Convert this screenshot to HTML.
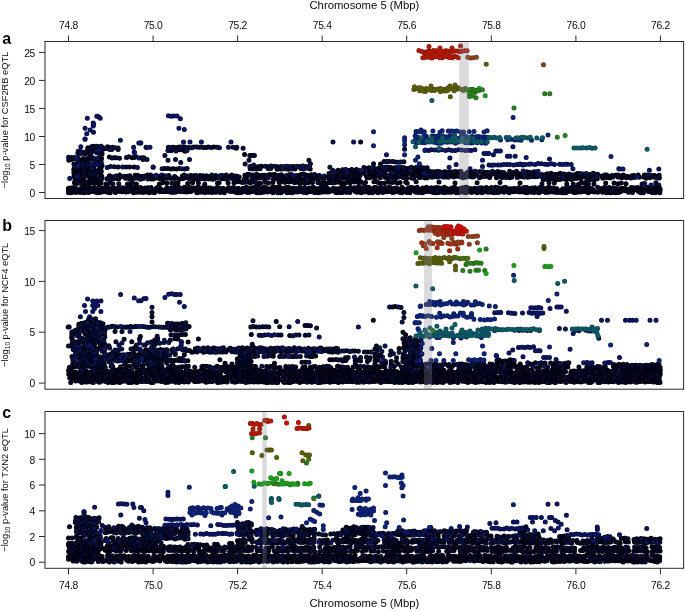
<!DOCTYPE html>
<html><head><meta charset="utf-8"><style>
html,body{margin:0;padding:0;background:#fff;}
svg{display:block}
text{font-family:"Liberation Sans",Arial,sans-serif;fill:#0a0a0a}
.tk{font-size:10.3px;letter-spacing:-0.3px}
.tt{font-size:11.3px}
.yl{font-size:9.3px}
.sub{font-size:6.5px}
.pl{font-size:16px;font-weight:bold;fill:#000}
g.pts path{stroke-linecap:round;fill:none}
</style></head><body>
<svg width="685" height="611" viewBox="0 0 685 611">
<g class="pts"><path d="M68.5 188.2h0M107.7 187.3h0M117.7 188.7h0M135.6 187.5h0M184.3 187.3h0M213.7 188.7h0M223.0 188.2h0M231.9 188.3h0M242.6 188.5h0M289.0 187.5h0M300.0 187.3h0M309.4 187.9h0M327.6 188.6h0M337.9 188.7h0M347.9 188.5h0M367.0 187.5h0M386.0 187.7h0M395.9 188.6h0M434.4 187.9h0M444.4 187.3h0M452.9 187.7h0M481.5 187.8h0M501.8 188.2h0M511.0 188.8h0M529.4 188.4h0M539.7 187.6h0M569.0 188.5h0M587.5 187.9h0M625.2 188.5h0M635.1 188.2h0M73.3 189.3h0M93.1 189.7h0M112.7 189.5h0M131.1 190.6h0M141.7 189.2h0M161.1 190.5h0M170.1 190.0h0M179.1 190.3h0M208.1 190.4h0M226.6 190.4h0M246.1 190.4h0M266.3 190.3h0M323.4 190.8h0M332.5 190.6h0M342.9 189.7h0M362.4 190.0h0M409.5 189.4h0M420.1 190.3h0M428.5 190.0h0M448.5 189.4h0M467.4 190.1h0M476.6 189.3h0M486.3 189.4h0M495.9 189.8h0M515.8 189.6h0M524.7 190.0h0M535.0 190.0h0M545.0 189.9h0M564.0 189.7h0M574.0 189.5h0M611.2 190.3h0M621.6 189.8h0M660.1 190.2h0M68.5 192.8h0M78.6 191.8h0M88.5 192.6h0M108.2 192.6h0M126.1 191.9h0M145.8 192.0h0M175.4 192.2h0M204.1 191.4h0M212.3 192.3h0M261.6 192.5h0M289.6 192.3h0M298.7 191.8h0M308.7 191.8h0M328.5 191.9h0M337.2 192.7h0M357.1 192.3h0M405.1 191.5h0M415.1 191.8h0M433.1 192.5h0M443.7 192.5h0M471.8 192.6h0M482.2 192.8h0M491.7 192.1h0M520.1 192.1h0M539.0 192.8h0M548.7 192.3h0M558.6 192.5h0M577.2 192.3h0M588.2 192.8h0M606.4 192.8h0M615.5 192.8h0M73.9 164.1h0M73.9 169.0h0M78.5 170.4h0M88.7 170.5h0M79.4 176.6h0M99.5 176.2h0M89.4 181.4h0M74.7 183.2h0M83.6 184.2h0M147.6 175.1h0M190.6 175.4h0M200.1 175.6h0M111.6 178.8h0M132.2 178.6h0M153.1 179.1h0M174.1 178.5h0M195.9 179.2h0M205.3 179.1h0M238.1 179.2h0M105.9 184.0h0M130.9 184.0h0M166.9 182.8h0M178.0 182.8h0M168.3 147.3h0M146.0 147.3h0M167.9 168.4h0M179.3 168.4h0M244.6 154.5h0M261.6 166.2h0M250.2 168.7h0M286.3 169.1h0M310.2 168.9h0M265.4 175.2h0M274.8 174.4h0M316.5 175.7h0M300.9 179.2h0M257.7 183.2h0M268.5 183.0h0M279.1 182.6h0M298.4 182.5h0M337.1 172.2h0M359.8 172.6h0M338.4 178.2h0M358.8 178.9h0M395.3 167.9h0M406.3 168.6h0M369.0 170.8h0M379.4 169.9h0M402.1 170.2h0M421.7 171.2h0M363.9 173.3h0M384.8 172.4h0M417.9 172.8h0M380.4 174.5h0M391.0 175.9h0M412.0 175.8h0M375.2 177.5h0M385.3 177.4h0M396.1 177.8h0M406.7 178.2h0M331.9 182.0h0M353.8 182.0h0M373.9 181.8h0M384.4 183.2h0M395.4 182.1h0M405.7 182.1h0M449.2 171.7h0M480.1 171.6h0M511.5 172.5h0M443.0 174.1h0M454.5 174.5h0M485.1 174.0h0M496.2 174.1h0M505.8 174.4h0M527.7 173.8h0M469.9 176.4h0M489.6 177.6h0M511.9 177.2h0M522.6 176.8h0M477.1 182.8h0M563.8 173.9h0M547.6 176.9h0M568.4 175.6h0M589.1 177.2h0M553.3 178.5h0M564.2 179.0h0M573.8 178.5h0M594.4 179.7h0M601.9 176.1h0M612.3 175.4h0M644.4 175.1h0M654.6 175.6h0M617.9 177.1h0M627.5 177.5h0M639.2 177.2h0M649.6 177.8h0M566.8 184.0h0M614.0 183.1h0M626.0 183.7h0M78.4 372.9h0M87.8 372.1h0M97.6 371.9h0M107.4 371.8h0M155.2 373.0h0M193.7 371.8h0M202.7 372.0h0M251.0 373.2h0M270.0 372.3h0M290.7 373.0h0M299.6 373.2h0M319.2 372.7h0M328.2 371.9h0M337.7 372.8h0M348.0 372.3h0M357.7 373.2h0M385.0 372.3h0M405.5 372.7h0M434.7 372.3h0M443.6 371.8h0M472.2 373.3h0M501.0 371.8h0M510.9 372.7h0M520.2 372.0h0M529.9 372.0h0M616.2 371.8h0M625.4 373.1h0M645.4 373.0h0M83.3 374.4h0M122.7 374.7h0M131.2 375.1h0M140.3 374.9h0M170.1 374.1h0M188.6 374.6h0M197.9 375.4h0M208.3 374.2h0M218.3 374.5h0M228.0 374.1h0M247.4 374.6h0M285.8 375.1h0M294.7 374.2h0M322.8 374.2h0M343.4 375.4h0M352.0 374.1h0M391.5 374.4h0M399.8 374.1h0M428.8 374.6h0M439.2 374.8h0M448.1 374.7h0M458.8 374.8h0M466.6 375.1h0M487.5 374.7h0M544.6 375.1h0M582.1 374.0h0M621.3 374.8h0M630.4 374.0h0M650.6 374.4h0M69.7 377.9h0M77.7 377.1h0M97.5 376.8h0M107.8 376.8h0M116.5 376.8h0M154.7 376.8h0M174.0 377.8h0M194.1 377.1h0M203.0 376.8h0M213.0 376.3h0M261.8 377.3h0M270.0 376.6h0M298.7 377.2h0M309.7 376.8h0M356.5 377.8h0M414.2 377.2h0M434.4 377.3h0M444.0 376.4h0M453.8 377.2h0M481.7 377.3h0M491.9 377.7h0M511.0 377.4h0M530.7 377.1h0M558.6 378.0h0M568.1 377.1h0M578.4 377.3h0M597.0 377.5h0M607.1 377.5h0M634.7 377.6h0M655.4 377.6h0M83.8 378.9h0M93.4 379.8h0M102.2 378.7h0M122.7 379.7h0M169.3 379.3h0M179.6 378.9h0M189.8 378.9h0M208.5 379.7h0M227.3 380.0h0M265.4 380.3h0M275.3 379.4h0M304.1 378.7h0M314.1 379.3h0M333.5 378.9h0M342.1 379.7h0M371.3 379.7h0M391.1 380.1h0M399.6 379.3h0M429.2 380.2h0M438.6 378.8h0M447.6 379.4h0M467.6 379.0h0M478.0 379.7h0M506.8 379.2h0M515.0 379.8h0M524.7 379.1h0M591.8 380.2h0M602.4 378.9h0M611.0 379.9h0M621.3 379.4h0M640.6 378.8h0M659.2 379.9h0M79.2 381.1h0M87.4 382.0h0M108.0 382.5h0M136.7 382.5h0M145.5 381.6h0M184.2 382.1h0M203.6 381.1h0M212.3 381.6h0M222.1 382.1h0M271.3 382.1h0M290.4 382.4h0M299.7 382.5h0M328.8 381.8h0M338.3 382.5h0M356.7 382.3h0M376.9 381.1h0M415.4 381.4h0M434.1 381.0h0M443.1 382.4h0M452.8 382.1h0M472.9 381.7h0M501.8 381.8h0M529.1 382.3h0M538.8 382.5h0M559.3 381.3h0M578.1 381.7h0M616.1 381.0h0M645.1 382.1h0M654.0 381.6h0M90.1 366.4h0M120.7 366.8h0M162.0 366.7h0M182.7 366.8h0M215.3 367.4h0M235.4 367.0h0M328.9 366.6h0M338.9 366.5h0M370.7 367.6h0M381.7 366.6h0M412.3 367.7h0M433.9 367.1h0M463.7 367.3h0M506.4 367.5h0M558.6 367.1h0M578.9 367.0h0M590.1 366.3h0M621.2 367.7h0M630.4 366.4h0M651.1 366.3h0M105.7 371.1h0M115.1 370.0h0M147.8 369.9h0M157.0 369.9h0M168.0 370.1h0M210.2 371.2h0M220.5 371.1h0M230.5 369.8h0M293.3 370.4h0M303.7 370.7h0M334.7 370.3h0M344.3 370.8h0M365.4 369.9h0M386.0 370.6h0M480.6 371.2h0M489.9 370.4h0M511.0 371.2h0M521.2 370.8h0M532.0 370.3h0M543.1 370.9h0M552.1 369.7h0M573.4 371.2h0M594.5 370.8h0M605.2 371.2h0M615.7 371.2h0M625.1 370.7h0M635.5 370.8h0M72.0 346.2h0M87.6 348.6h0M82.1 366.6h0M91.7 366.3h0M103.0 366.2h0M137.9 355.0h0M133.4 352.7h0M126.8 361.4h0M133.9 365.1h0M131.8 341.7h0M122.5 369.2h0M152.0 316.8h0M163.8 349.9h0M143.1 360.4h0M153.2 361.4h0M174.9 360.5h0M185.0 360.9h0M276.2 321.4h0M274.5 363.2h0M203.5 348.1h0M275.4 348.2h0M281.4 352.2h0M243.7 356.6h0M279.7 356.5h0M315.6 356.0h0M247.9 362.5h0M405.6 334.8h0M346.9 350.8h0M329.8 359.7h0M341.2 359.7h0M404.1 342.9h0M408.4 346.6h0M403.5 348.0h0M402.9 358.0h0M409.1 361.3h0M412.9 363.8h0M375.0 349.1h0M375.1 360.8h0M396.2 361.4h0M453.5 364.9h0M473.6 365.0h0M512.3 363.9h0M564.2 363.4h0M573.7 371.1h0M584.0 370.7h0M615.8 370.3h0M625.7 371.5h0M635.3 370.6h0M647.3 371.8h0M657.2 370.3h0M578.9 372.3h0M588.8 372.0h0M630.8 371.8h0M651.5 372.7h0M646.5 365.2h0M619.5 365.8h0M68.5 556.7h0M88.2 555.5h0M117.0 556.1h0M183.7 556.6h0M193.5 555.3h0M213.0 555.3h0M223.3 555.7h0M241.5 555.6h0M261.2 556.0h0M280.0 556.5h0M289.3 556.2h0M299.7 556.2h0M318.8 555.3h0M327.9 555.8h0M338.3 555.5h0M365.9 556.6h0M375.7 556.2h0M386.8 556.0h0M423.8 556.2h0M433.3 556.7h0M443.1 556.3h0M453.5 556.2h0M463.2 555.4h0M473.1 556.8h0M491.1 556.4h0M511.4 555.7h0M521.0 556.8h0M530.1 556.0h0M540.0 556.5h0M549.0 556.2h0M578.3 556.1h0M586.7 555.4h0M607.2 555.4h0M626.0 556.7h0M654.5 555.8h0M82.5 559.5h0M102.0 558.1h0M121.7 558.4h0M131.8 558.6h0M140.3 557.9h0M150.3 558.7h0M160.1 559.0h0M169.4 559.3h0M178.9 558.6h0M198.2 559.1h0M246.7 559.5h0M294.9 558.8h0M313.6 558.0h0M322.6 559.3h0M342.3 558.4h0M352.7 557.8h0M371.0 557.9h0M381.2 558.9h0M419.2 557.8h0M438.9 559.2h0M449.1 559.2h0M458.6 557.9h0M468.1 557.8h0M496.8 558.4h0M544.0 558.0h0M553.7 559.1h0M564.1 559.0h0M573.1 559.2h0M611.1 558.3h0M659.5 558.9h0M106.8 560.7h0M116.6 560.9h0M137.0 560.8h0M145.9 562.0h0M165.5 561.0h0M174.4 561.4h0M183.6 562.0h0M194.6 560.8h0M213.2 562.0h0M250.7 562.0h0M269.9 560.7h0M280.6 561.1h0M328.9 562.0h0M338.5 561.6h0M346.9 561.9h0M366.0 560.6h0M395.5 561.0h0M405.6 561.2h0M414.2 562.0h0M424.1 560.7h0M501.4 562.0h0M521.1 562.0h0M530.5 562.0h0M558.7 561.2h0M568.7 560.9h0M578.7 561.1h0M587.8 561.5h0M597.1 560.9h0M615.9 560.8h0M634.8 562.0h0M655.0 561.4h0M81.1 537.9h0M86.3 540.7h0M87.9 542.8h0M79.3 547.8h0M89.3 549.1h0M98.9 548.6h0M74.1 550.5h0M69.9 552.8h0M89.4 553.7h0M98.1 553.8h0M106.2 538.4h0M120.7 540.5h0M132.8 540.1h0M110.8 545.9h0M142.4 546.3h0M127.2 547.9h0M120.9 551.2h0M206.7 545.1h0M231.9 543.6h0M183.0 548.3h0M204.6 547.0h0M224.6 547.1h0M147.0 550.5h0M158.0 551.0h0M168.5 550.3h0M199.2 551.0h0M209.3 550.3h0M142.4 546.2h0M248.6 522.4h0M248.7 528.5h0M237.1 532.7h0M249.5 539.3h0M242.5 542.5h0M267.2 534.6h0M287.9 534.6h0M299.1 535.7h0M288.1 539.8h0M298.1 539.3h0M272.7 542.8h0M283.2 542.8h0M303.2 542.6h0M277.9 547.8h0M287.8 547.7h0M299.3 548.2h0M283.4 551.0h0M304.7 550.3h0M314.6 551.5h0M319.8 540.6h0M329.8 548.1h0M324.1 551.4h0M335.2 551.7h0M364.1 533.1h0M379.1 533.6h0M363.6 535.7h0M358.3 540.7h0M367.7 539.9h0M389.2 539.3h0M384.6 542.5h0M424.7 543.2h0M336.9 548.0h0M348.4 547.2h0M367.8 547.4h0M379.3 546.9h0M399.3 547.3h0M409.2 547.7h0M420.3 547.1h0M362.5 551.4h0M383.3 550.9h0M397.9 530.8h0M417.0 532.2h0M433.6 535.7h0M444.1 535.4h0M427.4 539.3h0M449.2 539.5h0M432.7 543.2h0M443.8 542.2h0M453.9 542.8h0M464.5 543.2h0M427.6 548.1h0M448.1 547.3h0M470.3 547.4h0M480.3 547.4h0M432.6 550.7h0M454.0 550.5h0M464.7 550.8h0M475.0 551.7h0M483.2 532.5h0M483.0 539.3h0M490.9 536.0h0M511.7 541.7h0M523.1 542.1h0M491.2 547.4h0M497.2 551.7h0M506.8 550.6h0M517.4 551.0h0M522.1 541.2h0M532.9 541.3h0M543.5 540.1h0M527.9 542.4h0M538.4 543.0h0M543.3 548.3h0M564.4 548.2h0M574.7 548.2h0M526.8 551.2h0M548.6 550.4h0M580.6 550.6h0M590.7 551.4h0M602.9 538.3h0M613.3 539.1h0M654.8 539.2h0M618.0 542.4h0M628.4 541.9h0M645.0 547.2h0M654.5 547.1h0M608.5 551.5h0M629.0 550.9h0M639.6 550.7h0M660.1 551.1h0" stroke="#01020a" stroke-width="5.0"/><path d="M68.5 188.2h0M107.7 187.3h0M117.7 188.7h0M135.6 187.5h0M184.3 187.3h0M213.7 188.7h0M223.0 188.2h0M231.9 188.3h0M242.6 188.5h0M289.0 187.5h0M300.0 187.3h0M309.4 187.9h0M327.6 188.6h0M337.9 188.7h0M347.9 188.5h0M367.0 187.5h0M386.0 187.7h0M395.9 188.6h0M434.4 187.9h0M444.4 187.3h0M452.9 187.7h0M481.5 187.8h0M501.8 188.2h0M511.0 188.8h0M529.4 188.4h0M539.7 187.6h0M569.0 188.5h0M587.5 187.9h0M625.2 188.5h0M635.1 188.2h0M73.3 189.3h0M93.1 189.7h0M112.7 189.5h0M131.1 190.6h0M141.7 189.2h0M161.1 190.5h0M170.1 190.0h0M179.1 190.3h0M208.1 190.4h0M226.6 190.4h0M246.1 190.4h0M266.3 190.3h0M323.4 190.8h0M332.5 190.6h0M342.9 189.7h0M362.4 190.0h0M409.5 189.4h0M420.1 190.3h0M428.5 190.0h0M448.5 189.4h0M467.4 190.1h0M476.6 189.3h0M486.3 189.4h0M495.9 189.8h0M515.8 189.6h0M524.7 190.0h0M535.0 190.0h0M545.0 189.9h0M564.0 189.7h0M574.0 189.5h0M611.2 190.3h0M621.6 189.8h0M660.1 190.2h0M68.5 192.8h0M78.6 191.8h0M88.5 192.6h0M108.2 192.6h0M126.1 191.9h0M145.8 192.0h0M175.4 192.2h0M204.1 191.4h0M212.3 192.3h0M261.6 192.5h0M289.6 192.3h0M298.7 191.8h0M308.7 191.8h0M328.5 191.9h0M337.2 192.7h0M357.1 192.3h0M405.1 191.5h0M415.1 191.8h0M433.1 192.5h0M443.7 192.5h0M471.8 192.6h0M482.2 192.8h0M491.7 192.1h0M520.1 192.1h0M539.0 192.8h0M548.7 192.3h0M558.6 192.5h0M577.2 192.3h0M588.2 192.8h0M606.4 192.8h0M615.5 192.8h0M73.9 164.1h0M73.9 169.0h0M78.5 170.4h0M88.7 170.5h0M79.4 176.6h0M99.5 176.2h0M89.4 181.4h0M74.7 183.2h0M83.6 184.2h0M147.6 175.1h0M190.6 175.4h0M200.1 175.6h0M111.6 178.8h0M132.2 178.6h0M153.1 179.1h0M174.1 178.5h0M195.9 179.2h0M205.3 179.1h0M238.1 179.2h0M105.9 184.0h0M130.9 184.0h0M166.9 182.8h0M178.0 182.8h0M168.3 147.3h0M146.0 147.3h0M167.9 168.4h0M179.3 168.4h0M244.6 154.5h0M261.6 166.2h0M250.2 168.7h0M286.3 169.1h0M310.2 168.9h0M265.4 175.2h0M274.8 174.4h0M316.5 175.7h0M300.9 179.2h0M257.7 183.2h0M268.5 183.0h0M279.1 182.6h0M298.4 182.5h0M337.1 172.2h0M359.8 172.6h0M338.4 178.2h0M358.8 178.9h0M395.3 167.9h0M406.3 168.6h0M369.0 170.8h0M379.4 169.9h0M402.1 170.2h0M421.7 171.2h0M363.9 173.3h0M384.8 172.4h0M417.9 172.8h0M380.4 174.5h0M391.0 175.9h0M412.0 175.8h0M375.2 177.5h0M385.3 177.4h0M396.1 177.8h0M406.7 178.2h0M331.9 182.0h0M353.8 182.0h0M373.9 181.8h0M384.4 183.2h0M395.4 182.1h0M405.7 182.1h0M449.2 171.7h0M480.1 171.6h0M511.5 172.5h0M443.0 174.1h0M454.5 174.5h0M485.1 174.0h0M496.2 174.1h0M505.8 174.4h0M527.7 173.8h0M469.9 176.4h0M489.6 177.6h0M511.9 177.2h0M522.6 176.8h0M477.1 182.8h0M563.8 173.9h0M547.6 176.9h0M568.4 175.6h0M589.1 177.2h0M553.3 178.5h0M564.2 179.0h0M573.8 178.5h0M594.4 179.7h0M601.9 176.1h0M612.3 175.4h0M644.4 175.1h0M654.6 175.6h0M617.9 177.1h0M627.5 177.5h0M639.2 177.2h0M649.6 177.8h0M566.8 184.0h0M614.0 183.1h0M626.0 183.7h0M78.4 372.9h0M87.8 372.1h0M97.6 371.9h0M107.4 371.8h0M155.2 373.0h0M193.7 371.8h0M202.7 372.0h0M251.0 373.2h0M270.0 372.3h0M290.7 373.0h0M299.6 373.2h0M319.2 372.7h0M328.2 371.9h0M337.7 372.8h0M348.0 372.3h0M357.7 373.2h0M385.0 372.3h0M405.5 372.7h0M434.7 372.3h0M443.6 371.8h0M472.2 373.3h0M501.0 371.8h0M510.9 372.7h0M520.2 372.0h0M529.9 372.0h0M616.2 371.8h0M625.4 373.1h0M645.4 373.0h0M83.3 374.4h0M122.7 374.7h0M131.2 375.1h0M140.3 374.9h0M170.1 374.1h0M188.6 374.6h0M197.9 375.4h0M208.3 374.2h0M218.3 374.5h0M228.0 374.1h0M247.4 374.6h0M285.8 375.1h0M294.7 374.2h0M322.8 374.2h0M343.4 375.4h0M352.0 374.1h0M391.5 374.4h0M399.8 374.1h0M428.8 374.6h0M439.2 374.8h0M448.1 374.7h0M458.8 374.8h0M466.6 375.1h0M487.5 374.7h0M544.6 375.1h0M582.1 374.0h0M621.3 374.8h0M630.4 374.0h0M650.6 374.4h0M69.7 377.9h0M77.7 377.1h0M97.5 376.8h0M107.8 376.8h0M116.5 376.8h0M154.7 376.8h0M174.0 377.8h0M194.1 377.1h0M203.0 376.8h0M213.0 376.3h0M261.8 377.3h0M270.0 376.6h0M298.7 377.2h0M309.7 376.8h0M356.5 377.8h0M414.2 377.2h0M434.4 377.3h0M444.0 376.4h0M453.8 377.2h0M481.7 377.3h0M491.9 377.7h0M511.0 377.4h0M530.7 377.1h0M558.6 378.0h0M568.1 377.1h0M578.4 377.3h0M597.0 377.5h0M607.1 377.5h0M634.7 377.6h0M655.4 377.6h0M83.8 378.9h0M93.4 379.8h0M102.2 378.7h0M122.7 379.7h0M169.3 379.3h0M179.6 378.9h0M189.8 378.9h0M208.5 379.7h0M227.3 380.0h0M265.4 380.3h0M275.3 379.4h0M304.1 378.7h0M314.1 379.3h0M333.5 378.9h0M342.1 379.7h0M371.3 379.7h0M391.1 380.1h0M399.6 379.3h0M429.2 380.2h0M438.6 378.8h0M447.6 379.4h0M467.6 379.0h0M478.0 379.7h0M506.8 379.2h0M515.0 379.8h0M524.7 379.1h0M591.8 380.2h0M602.4 378.9h0M611.0 379.9h0M621.3 379.4h0M640.6 378.8h0M659.2 379.9h0M79.2 381.1h0M87.4 382.0h0M108.0 382.5h0M136.7 382.5h0M145.5 381.6h0M184.2 382.1h0M203.6 381.1h0M212.3 381.6h0M222.1 382.1h0M271.3 382.1h0M290.4 382.4h0M299.7 382.5h0M328.8 381.8h0M338.3 382.5h0M356.7 382.3h0M376.9 381.1h0M415.4 381.4h0M434.1 381.0h0M443.1 382.4h0M452.8 382.1h0M472.9 381.7h0M501.8 381.8h0M529.1 382.3h0M538.8 382.5h0M559.3 381.3h0M578.1 381.7h0M616.1 381.0h0M645.1 382.1h0M654.0 381.6h0M90.1 366.4h0M120.7 366.8h0M162.0 366.7h0M182.7 366.8h0M215.3 367.4h0M235.4 367.0h0M328.9 366.6h0M338.9 366.5h0M370.7 367.6h0M381.7 366.6h0M412.3 367.7h0M433.9 367.1h0M463.7 367.3h0M506.4 367.5h0M558.6 367.1h0M578.9 367.0h0M590.1 366.3h0M621.2 367.7h0M630.4 366.4h0M651.1 366.3h0M105.7 371.1h0M115.1 370.0h0M147.8 369.9h0M157.0 369.9h0M168.0 370.1h0M210.2 371.2h0M220.5 371.1h0M230.5 369.8h0M293.3 370.4h0M303.7 370.7h0M334.7 370.3h0M344.3 370.8h0M365.4 369.9h0M386.0 370.6h0M480.6 371.2h0M489.9 370.4h0M511.0 371.2h0M521.2 370.8h0M532.0 370.3h0M543.1 370.9h0M552.1 369.7h0M573.4 371.2h0M594.5 370.8h0M605.2 371.2h0M615.7 371.2h0M625.1 370.7h0M635.5 370.8h0M72.0 346.2h0M87.6 348.6h0M82.1 366.6h0M91.7 366.3h0M103.0 366.2h0M137.9 355.0h0M133.4 352.7h0M126.8 361.4h0M133.9 365.1h0M131.8 341.7h0M122.5 369.2h0M152.0 316.8h0M163.8 349.9h0M143.1 360.4h0M153.2 361.4h0M174.9 360.5h0M185.0 360.9h0M276.2 321.4h0M274.5 363.2h0M203.5 348.1h0M275.4 348.2h0M281.4 352.2h0M243.7 356.6h0M279.7 356.5h0M315.6 356.0h0M247.9 362.5h0M405.6 334.8h0M346.9 350.8h0M329.8 359.7h0M341.2 359.7h0M404.1 342.9h0M408.4 346.6h0M403.5 348.0h0M402.9 358.0h0M409.1 361.3h0M412.9 363.8h0M375.0 349.1h0M375.1 360.8h0M396.2 361.4h0M453.5 364.9h0M473.6 365.0h0M512.3 363.9h0M564.2 363.4h0M573.7 371.1h0M584.0 370.7h0M615.8 370.3h0M625.7 371.5h0M635.3 370.6h0M647.3 371.8h0M657.2 370.3h0M578.9 372.3h0M588.8 372.0h0M630.8 371.8h0M651.5 372.7h0M646.5 365.2h0M619.5 365.8h0M68.5 556.7h0M88.2 555.5h0M117.0 556.1h0M183.7 556.6h0M193.5 555.3h0M213.0 555.3h0M223.3 555.7h0M241.5 555.6h0M261.2 556.0h0M280.0 556.5h0M289.3 556.2h0M299.7 556.2h0M318.8 555.3h0M327.9 555.8h0M338.3 555.5h0M365.9 556.6h0M375.7 556.2h0M386.8 556.0h0M423.8 556.2h0M433.3 556.7h0M443.1 556.3h0M453.5 556.2h0M463.2 555.4h0M473.1 556.8h0M491.1 556.4h0M511.4 555.7h0M521.0 556.8h0M530.1 556.0h0M540.0 556.5h0M549.0 556.2h0M578.3 556.1h0M586.7 555.4h0M607.2 555.4h0M626.0 556.7h0M654.5 555.8h0M82.5 559.5h0M102.0 558.1h0M121.7 558.4h0M131.8 558.6h0M140.3 557.9h0M150.3 558.7h0M160.1 559.0h0M169.4 559.3h0M178.9 558.6h0M198.2 559.1h0M246.7 559.5h0M294.9 558.8h0M313.6 558.0h0M322.6 559.3h0M342.3 558.4h0M352.7 557.8h0M371.0 557.9h0M381.2 558.9h0M419.2 557.8h0M438.9 559.2h0M449.1 559.2h0M458.6 557.9h0M468.1 557.8h0M496.8 558.4h0M544.0 558.0h0M553.7 559.1h0M564.1 559.0h0M573.1 559.2h0M611.1 558.3h0M659.5 558.9h0M106.8 560.7h0M116.6 560.9h0M137.0 560.8h0M145.9 562.0h0M165.5 561.0h0M174.4 561.4h0M183.6 562.0h0M194.6 560.8h0M213.2 562.0h0M250.7 562.0h0M269.9 560.7h0M280.6 561.1h0M328.9 562.0h0M338.5 561.6h0M346.9 561.9h0M366.0 560.6h0M395.5 561.0h0M405.6 561.2h0M414.2 562.0h0M424.1 560.7h0M501.4 562.0h0M521.1 562.0h0M530.5 562.0h0M558.7 561.2h0M568.7 560.9h0M578.7 561.1h0M587.8 561.5h0M597.1 560.9h0M615.9 560.8h0M634.8 562.0h0M655.0 561.4h0M81.1 537.9h0M86.3 540.7h0M87.9 542.8h0M79.3 547.8h0M89.3 549.1h0M98.9 548.6h0M74.1 550.5h0M69.9 552.8h0M89.4 553.7h0M98.1 553.8h0M106.2 538.4h0M120.7 540.5h0M132.8 540.1h0M110.8 545.9h0M142.4 546.3h0M127.2 547.9h0M120.9 551.2h0M206.7 545.1h0M231.9 543.6h0M183.0 548.3h0M204.6 547.0h0M224.6 547.1h0M147.0 550.5h0M158.0 551.0h0M168.5 550.3h0M199.2 551.0h0M209.3 550.3h0M142.4 546.2h0M248.6 522.4h0M248.7 528.5h0M237.1 532.7h0M249.5 539.3h0M242.5 542.5h0M267.2 534.6h0M287.9 534.6h0M299.1 535.7h0M288.1 539.8h0M298.1 539.3h0M272.7 542.8h0M283.2 542.8h0M303.2 542.6h0M277.9 547.8h0M287.8 547.7h0M299.3 548.2h0M283.4 551.0h0M304.7 550.3h0M314.6 551.5h0M319.8 540.6h0M329.8 548.1h0M324.1 551.4h0M335.2 551.7h0M364.1 533.1h0M379.1 533.6h0M363.6 535.7h0M358.3 540.7h0M367.7 539.9h0M389.2 539.3h0M384.6 542.5h0M424.7 543.2h0M336.9 548.0h0M348.4 547.2h0M367.8 547.4h0M379.3 546.9h0M399.3 547.3h0M409.2 547.7h0M420.3 547.1h0M362.5 551.4h0M383.3 550.9h0M397.9 530.8h0M417.0 532.2h0M433.6 535.7h0M444.1 535.4h0M427.4 539.3h0M449.2 539.5h0M432.7 543.2h0M443.8 542.2h0M453.9 542.8h0M464.5 543.2h0M427.6 548.1h0M448.1 547.3h0M470.3 547.4h0M480.3 547.4h0M432.6 550.7h0M454.0 550.5h0M464.7 550.8h0M475.0 551.7h0M483.2 532.5h0M483.0 539.3h0M490.9 536.0h0M511.7 541.7h0M523.1 542.1h0M491.2 547.4h0M497.2 551.7h0M506.8 550.6h0M517.4 551.0h0M522.1 541.2h0M532.9 541.3h0M543.5 540.1h0M527.9 542.4h0M538.4 543.0h0M543.3 548.3h0M564.4 548.2h0M574.7 548.2h0M526.8 551.2h0M548.6 550.4h0M580.6 550.6h0M590.7 551.4h0M602.9 538.3h0M613.3 539.1h0M654.8 539.2h0M618.0 542.4h0M628.4 541.9h0M645.0 547.2h0M654.5 547.1h0M608.5 551.5h0M629.0 550.9h0M639.6 550.7h0M660.1 551.1h0" stroke="#03051c" stroke-width="3.8"/><path d="M88.1 187.6h0M98.1 188.4h0M127.1 188.6h0M156.0 188.5h0M174.6 187.3h0M204.0 187.3h0M260.2 188.3h0M271.3 188.3h0M319.0 188.4h0M413.9 187.9h0M548.6 187.3h0M577.6 187.8h0M616.5 188.0h0M644.6 187.3h0M654.3 187.3h0M83.0 189.6h0M102.4 190.6h0M121.9 189.5h0M150.0 189.9h0M236.2 190.9h0M256.2 190.2h0M285.8 190.2h0M295.0 189.8h0M303.4 189.8h0M352.4 189.6h0M381.9 190.5h0M400.9 189.2h0M439.4 189.3h0M458.3 189.2h0M554.4 190.0h0M601.4 189.5h0M630.5 190.8h0M641.2 189.7h0M649.3 189.6h0M97.2 192.8h0M116.9 191.4h0M136.8 192.3h0M154.5 192.8h0M165.8 191.6h0M184.1 191.8h0M232.0 191.3h0M252.0 191.6h0M270.4 191.3h0M280.8 192.8h0M317.9 192.8h0M367.4 191.5h0M386.6 191.7h0M452.7 191.6h0M500.6 191.4h0M567.7 191.8h0M597.8 192.2h0M655.3 192.7h0M79.8 165.9h0M93.6 168.0h0M99.1 170.2h0M83.8 173.8h0M93.9 179.0h0M94.4 183.5h0M89.4 150.9h0M116.1 176.0h0M127.2 176.3h0M137.7 175.2h0M159.3 176.2h0M168.8 175.4h0M211.8 175.1h0M222.0 175.5h0M143.1 178.6h0M163.7 178.8h0M217.5 178.0h0M227.2 179.2h0M143.0 159.4h0M244.9 175.2h0M281.0 177.9h0M290.5 179.2h0M312.2 179.2h0M237.8 176.9h0M237.2 181.8h0M248.3 181.8h0M288.9 182.1h0M310.2 181.9h0M330.4 182.5h0M329.2 179.2h0M380.5 164.1h0M400.9 162.1h0M389.7 167.2h0M342.7 169.7h0M331.9 175.9h0M344.1 175.6h0M347.9 178.5h0M427.1 167.7h0M411.1 170.5h0M396.7 172.0h0M427.0 172.4h0M401.5 175.5h0M422.0 175.3h0M363.5 183.2h0M416.1 181.8h0M459.5 171.6h0M489.6 172.8h0M463.5 174.6h0M426.9 176.4h0M501.7 177.7h0M541.9 174.4h0M578.7 176.6h0M543.2 179.5h0M634.1 175.5h0M607.9 177.5h0M542.0 183.8h0M554.3 183.1h0M578.5 184.2h0M116.5 373.1h0M126.1 372.0h0M212.5 372.7h0M231.6 371.8h0M241.5 371.8h0M280.9 372.5h0M308.9 372.9h0M366.0 372.8h0M376.5 372.6h0M394.9 372.6h0M425.0 372.0h0M453.2 372.2h0M482.2 372.3h0M491.4 372.3h0M548.8 372.3h0M586.8 372.8h0M596.8 373.0h0M635.4 373.2h0M654.8 372.4h0M111.5 374.4h0M160.4 374.3h0M237.8 375.0h0M266.2 375.4h0M275.9 374.0h0M303.8 375.6h0M314.0 374.1h0M332.3 374.1h0M371.5 374.3h0M380.4 375.3h0M419.1 375.5h0M477.1 375.2h0M515.1 375.3h0M524.7 374.4h0M534.4 375.5h0M572.4 375.2h0M592.1 374.2h0M660.1 374.7h0M87.7 377.2h0M126.1 376.9h0M136.4 377.5h0M146.5 377.3h0M165.8 376.3h0M223.4 377.9h0M232.9 376.6h0M319.5 377.7h0M337.7 376.4h0M347.9 377.9h0M376.2 376.7h0M424.3 376.3h0M463.6 376.4h0M548.6 377.3h0M625.5 376.8h0M645.3 376.5h0M159.8 378.8h0M197.8 378.9h0M237.9 380.1h0M255.7 379.6h0M285.7 379.2h0M294.1 380.0h0M323.9 379.3h0M351.6 379.6h0M419.0 379.2h0M458.3 380.4h0M497.1 378.8h0M545.2 380.1h0M554.4 379.4h0M563.6 379.8h0M572.6 380.2h0M582.0 379.2h0M630.7 379.7h0M650.8 378.7h0M117.0 382.0h0M126.8 381.2h0M165.4 382.4h0M175.5 382.3h0M194.6 381.6h0M242.1 381.6h0M251.5 381.4h0M260.5 381.7h0M309.7 381.6h0M318.1 382.5h0M366.5 381.4h0M386.0 381.5h0M394.6 382.5h0M405.9 381.7h0M425.0 381.1h0M462.5 381.3h0M482.5 381.8h0M510.9 381.4h0M519.7 382.5h0M549.7 382.5h0M635.8 382.3h0M69.4 367.2h0M142.3 367.6h0M151.7 366.8h0M194.7 367.2h0M203.6 366.3h0M255.5 366.6h0M266.6 366.5h0M276.9 367.8h0M288.2 367.8h0M319.7 367.3h0M486.0 366.6h0M517.2 366.5h0M526.6 367.0h0M536.8 367.8h0M547.5 367.1h0M567.8 366.9h0M177.5 369.8h0M189.5 371.0h0M199.6 371.1h0M251.1 370.9h0M262.3 371.2h0M282.2 371.1h0M323.8 370.3h0M375.5 370.1h0M449.2 371.0h0M458.6 369.9h0M469.9 369.8h0M82.9 329.1h0M102.7 333.8h0M72.2 338.6h0M91.9 339.2h0M71.9 344.2h0M102.5 357.0h0M88.0 358.8h0M83.2 360.9h0M101.4 361.1h0M77.9 364.3h0M87.0 363.6h0M96.8 363.5h0M173.9 326.5h0M106.9 355.2h0M133.8 356.9h0M188.1 341.9h0M219.9 359.7h0M171.0 334.7h0M223.4 350.8h0M237.8 350.1h0M158.0 358.1h0M158.1 363.7h0M305.0 325.5h0M289.7 335.5h0M305.3 335.2h0M264.2 348.8h0M286.3 349.1h0M259.9 351.4h0M254.7 356.5h0M403.5 354.2h0M418.3 355.8h0M391.4 363.9h0M360.5 360.9h0M355.4 363.2h0M423.2 364.9h0M443.6 363.9h0M502.2 364.1h0M520.2 364.1h0M530.0 364.1h0M541.4 362.8h0M552.4 364.1h0M605.6 370.3h0M621.2 371.7h0M640.6 372.0h0M635.6 365.3h0M657.0 364.4h0M629.6 366.2h0M641.7 366.1h0M652.2 366.0h0M78.5 556.6h0M98.5 556.6h0M107.6 555.3h0M136.6 556.6h0M155.3 556.7h0M174.4 555.8h0M202.8 555.3h0M231.4 555.5h0M348.1 556.2h0M404.3 556.8h0M569.2 556.1h0M615.8 556.6h0M636.4 556.0h0M644.8 556.7h0M73.7 558.9h0M218.3 559.4h0M226.8 559.5h0M237.8 558.9h0M255.8 558.7h0M266.8 558.7h0M284.7 558.1h0M333.0 558.3h0M391.4 559.4h0M428.6 558.7h0M477.9 558.5h0M486.4 558.5h0M505.6 559.2h0M525.6 558.3h0M534.5 558.7h0M592.6 558.1h0M602.8 558.1h0M620.8 557.8h0M631.4 558.6h0M640.4 559.4h0M88.8 561.6h0M98.3 561.5h0M127.2 560.5h0M203.2 561.0h0M241.6 562.0h0M260.8 561.0h0M299.6 561.7h0M309.4 562.0h0M318.6 561.4h0M357.0 561.1h0M377.0 561.0h0M433.3 560.9h0M453.6 561.2h0M462.6 560.6h0M482.8 561.5h0M491.3 560.6h0M511.3 562.0h0M539.2 561.8h0M626.2 560.5h0M86.6 517.3h0M90.8 525.4h0M86.3 527.1h0M96.7 527.3h0M76.3 531.2h0M77.1 534.8h0M98.3 535.2h0M82.0 542.9h0M92.4 543.2h0M68.6 543.6h0M74.3 545.7h0M94.0 545.3h0M83.9 551.4h0M92.5 551.6h0M78.9 553.3h0M68.5 537.9h0M105.4 532.8h0M136.5 533.0h0M142.5 541.1h0M137.2 542.9h0M131.4 545.4h0M104.9 548.5h0M115.4 548.4h0M137.5 547.4h0M109.8 551.2h0M143.1 551.2h0M142.9 528.0h0M184.7 528.8h0M147.1 531.7h0M152.2 539.0h0M185.0 539.2h0M152.9 548.0h0M163.3 547.4h0M178.3 550.5h0M188.4 551.4h0M229.6 551.7h0M153.4 539.8h0M243.1 529.5h0M237.8 548.2h0M247.9 546.8h0M243.1 550.6h0M256.6 530.2h0M267.3 539.4h0M261.0 542.8h0M266.3 547.8h0M310.0 547.7h0M262.3 551.2h0M293.4 550.4h0M330.7 533.9h0M319.7 547.0h0M364.1 527.2h0M370.3 530.5h0M394.1 542.9h0M403.8 542.6h0M358.7 546.8h0M388.3 546.8h0M343.2 550.9h0M352.9 551.2h0M374.2 551.0h0M393.7 551.5h0M425.7 551.7h0M465.2 534.3h0M470.1 539.3h0M437.8 546.8h0M483.1 547.2h0M502.0 542.2h0M513.0 548.1h0M522.2 546.8h0M563.9 539.2h0M554.1 541.2h0M569.8 542.5h0M553.4 546.8h0M585.4 547.9h0M570.3 551.1h0M644.0 538.8h0M608.6 542.3h0M638.1 542.5h0M648.6 542.1h0M593.0 547.8h0M603.3 546.8h0M622.6 548.2h0M618.0 551.3h0" stroke="#01020a" stroke-width="5.0"/><path d="M88.1 187.6h0M98.1 188.4h0M127.1 188.6h0M156.0 188.5h0M174.6 187.3h0M204.0 187.3h0M260.2 188.3h0M271.3 188.3h0M319.0 188.4h0M413.9 187.9h0M548.6 187.3h0M577.6 187.8h0M616.5 188.0h0M644.6 187.3h0M654.3 187.3h0M83.0 189.6h0M102.4 190.6h0M121.9 189.5h0M150.0 189.9h0M236.2 190.9h0M256.2 190.2h0M285.8 190.2h0M295.0 189.8h0M303.4 189.8h0M352.4 189.6h0M381.9 190.5h0M400.9 189.2h0M439.4 189.3h0M458.3 189.2h0M554.4 190.0h0M601.4 189.5h0M630.5 190.8h0M641.2 189.7h0M649.3 189.6h0M97.2 192.8h0M116.9 191.4h0M136.8 192.3h0M154.5 192.8h0M165.8 191.6h0M184.1 191.8h0M232.0 191.3h0M252.0 191.6h0M270.4 191.3h0M280.8 192.8h0M317.9 192.8h0M367.4 191.5h0M386.6 191.7h0M452.7 191.6h0M500.6 191.4h0M567.7 191.8h0M597.8 192.2h0M655.3 192.7h0M79.8 165.9h0M93.6 168.0h0M99.1 170.2h0M83.8 173.8h0M93.9 179.0h0M94.4 183.5h0M89.4 150.9h0M116.1 176.0h0M127.2 176.3h0M137.7 175.2h0M159.3 176.2h0M168.8 175.4h0M211.8 175.1h0M222.0 175.5h0M143.1 178.6h0M163.7 178.8h0M217.5 178.0h0M227.2 179.2h0M143.0 159.4h0M244.9 175.2h0M281.0 177.9h0M290.5 179.2h0M312.2 179.2h0M237.8 176.9h0M237.2 181.8h0M248.3 181.8h0M288.9 182.1h0M310.2 181.9h0M330.4 182.5h0M329.2 179.2h0M380.5 164.1h0M400.9 162.1h0M389.7 167.2h0M342.7 169.7h0M331.9 175.9h0M344.1 175.6h0M347.9 178.5h0M427.1 167.7h0M411.1 170.5h0M396.7 172.0h0M427.0 172.4h0M401.5 175.5h0M422.0 175.3h0M363.5 183.2h0M416.1 181.8h0M459.5 171.6h0M489.6 172.8h0M463.5 174.6h0M426.9 176.4h0M501.7 177.7h0M541.9 174.4h0M578.7 176.6h0M543.2 179.5h0M634.1 175.5h0M607.9 177.5h0M542.0 183.8h0M554.3 183.1h0M578.5 184.2h0M116.5 373.1h0M126.1 372.0h0M212.5 372.7h0M231.6 371.8h0M241.5 371.8h0M280.9 372.5h0M308.9 372.9h0M366.0 372.8h0M376.5 372.6h0M394.9 372.6h0M425.0 372.0h0M453.2 372.2h0M482.2 372.3h0M491.4 372.3h0M548.8 372.3h0M586.8 372.8h0M596.8 373.0h0M635.4 373.2h0M654.8 372.4h0M111.5 374.4h0M160.4 374.3h0M237.8 375.0h0M266.2 375.4h0M275.9 374.0h0M303.8 375.6h0M314.0 374.1h0M332.3 374.1h0M371.5 374.3h0M380.4 375.3h0M419.1 375.5h0M477.1 375.2h0M515.1 375.3h0M524.7 374.4h0M534.4 375.5h0M572.4 375.2h0M592.1 374.2h0M660.1 374.7h0M87.7 377.2h0M126.1 376.9h0M136.4 377.5h0M146.5 377.3h0M165.8 376.3h0M223.4 377.9h0M232.9 376.6h0M319.5 377.7h0M337.7 376.4h0M347.9 377.9h0M376.2 376.7h0M424.3 376.3h0M463.6 376.4h0M548.6 377.3h0M625.5 376.8h0M645.3 376.5h0M159.8 378.8h0M197.8 378.9h0M237.9 380.1h0M255.7 379.6h0M285.7 379.2h0M294.1 380.0h0M323.9 379.3h0M351.6 379.6h0M419.0 379.2h0M458.3 380.4h0M497.1 378.8h0M545.2 380.1h0M554.4 379.4h0M563.6 379.8h0M572.6 380.2h0M582.0 379.2h0M630.7 379.7h0M650.8 378.7h0M117.0 382.0h0M126.8 381.2h0M165.4 382.4h0M175.5 382.3h0M194.6 381.6h0M242.1 381.6h0M251.5 381.4h0M260.5 381.7h0M309.7 381.6h0M318.1 382.5h0M366.5 381.4h0M386.0 381.5h0M394.6 382.5h0M405.9 381.7h0M425.0 381.1h0M462.5 381.3h0M482.5 381.8h0M510.9 381.4h0M519.7 382.5h0M549.7 382.5h0M635.8 382.3h0M69.4 367.2h0M142.3 367.6h0M151.7 366.8h0M194.7 367.2h0M203.6 366.3h0M255.5 366.6h0M266.6 366.5h0M276.9 367.8h0M288.2 367.8h0M319.7 367.3h0M486.0 366.6h0M517.2 366.5h0M526.6 367.0h0M536.8 367.8h0M547.5 367.1h0M567.8 366.9h0M177.5 369.8h0M189.5 371.0h0M199.6 371.1h0M251.1 370.9h0M262.3 371.2h0M282.2 371.1h0M323.8 370.3h0M375.5 370.1h0M449.2 371.0h0M458.6 369.9h0M469.9 369.8h0M82.9 329.1h0M102.7 333.8h0M72.2 338.6h0M91.9 339.2h0M71.9 344.2h0M102.5 357.0h0M88.0 358.8h0M83.2 360.9h0M101.4 361.1h0M77.9 364.3h0M87.0 363.6h0M96.8 363.5h0M173.9 326.5h0M106.9 355.2h0M133.8 356.9h0M188.1 341.9h0M219.9 359.7h0M171.0 334.7h0M223.4 350.8h0M237.8 350.1h0M158.0 358.1h0M158.1 363.7h0M305.0 325.5h0M289.7 335.5h0M305.3 335.2h0M264.2 348.8h0M286.3 349.1h0M259.9 351.4h0M254.7 356.5h0M403.5 354.2h0M418.3 355.8h0M391.4 363.9h0M360.5 360.9h0M355.4 363.2h0M423.2 364.9h0M443.6 363.9h0M502.2 364.1h0M520.2 364.1h0M530.0 364.1h0M541.4 362.8h0M552.4 364.1h0M605.6 370.3h0M621.2 371.7h0M640.6 372.0h0M635.6 365.3h0M657.0 364.4h0M629.6 366.2h0M641.7 366.1h0M652.2 366.0h0M78.5 556.6h0M98.5 556.6h0M107.6 555.3h0M136.6 556.6h0M155.3 556.7h0M174.4 555.8h0M202.8 555.3h0M231.4 555.5h0M348.1 556.2h0M404.3 556.8h0M569.2 556.1h0M615.8 556.6h0M636.4 556.0h0M644.8 556.7h0M73.7 558.9h0M218.3 559.4h0M226.8 559.5h0M237.8 558.9h0M255.8 558.7h0M266.8 558.7h0M284.7 558.1h0M333.0 558.3h0M391.4 559.4h0M428.6 558.7h0M477.9 558.5h0M486.4 558.5h0M505.6 559.2h0M525.6 558.3h0M534.5 558.7h0M592.6 558.1h0M602.8 558.1h0M620.8 557.8h0M631.4 558.6h0M640.4 559.4h0M88.8 561.6h0M98.3 561.5h0M127.2 560.5h0M203.2 561.0h0M241.6 562.0h0M260.8 561.0h0M299.6 561.7h0M309.4 562.0h0M318.6 561.4h0M357.0 561.1h0M377.0 561.0h0M433.3 560.9h0M453.6 561.2h0M462.6 560.6h0M482.8 561.5h0M491.3 560.6h0M511.3 562.0h0M539.2 561.8h0M626.2 560.5h0M86.6 517.3h0M90.8 525.4h0M86.3 527.1h0M96.7 527.3h0M76.3 531.2h0M77.1 534.8h0M98.3 535.2h0M82.0 542.9h0M92.4 543.2h0M68.6 543.6h0M74.3 545.7h0M94.0 545.3h0M83.9 551.4h0M92.5 551.6h0M78.9 553.3h0M68.5 537.9h0M105.4 532.8h0M136.5 533.0h0M142.5 541.1h0M137.2 542.9h0M131.4 545.4h0M104.9 548.5h0M115.4 548.4h0M137.5 547.4h0M109.8 551.2h0M143.1 551.2h0M142.9 528.0h0M184.7 528.8h0M147.1 531.7h0M152.2 539.0h0M185.0 539.2h0M152.9 548.0h0M163.3 547.4h0M178.3 550.5h0M188.4 551.4h0M229.6 551.7h0M153.4 539.8h0M243.1 529.5h0M237.8 548.2h0M247.9 546.8h0M243.1 550.6h0M256.6 530.2h0M267.3 539.4h0M261.0 542.8h0M266.3 547.8h0M310.0 547.7h0M262.3 551.2h0M293.4 550.4h0M330.7 533.9h0M319.7 547.0h0M364.1 527.2h0M370.3 530.5h0M394.1 542.9h0M403.8 542.6h0M358.7 546.8h0M388.3 546.8h0M343.2 550.9h0M352.9 551.2h0M374.2 551.0h0M393.7 551.5h0M425.7 551.7h0M465.2 534.3h0M470.1 539.3h0M437.8 546.8h0M483.1 547.2h0M502.0 542.2h0M513.0 548.1h0M522.2 546.8h0M563.9 539.2h0M554.1 541.2h0M569.8 542.5h0M553.4 546.8h0M585.4 547.9h0M570.3 551.1h0M644.0 538.8h0M608.6 542.3h0M638.1 542.5h0M648.6 542.1h0M593.0 547.8h0M603.3 546.8h0M622.6 548.2h0M618.0 551.3h0" stroke="#050a2c" stroke-width="3.8"/><path d="M145.0 188.0h0M193.8 188.1h0M251.2 188.0h0M280.2 187.5h0M357.7 187.5h0M375.7 187.4h0M462.7 187.7h0M491.6 187.6h0M597.7 187.3h0M606.1 187.9h0M370.9 189.2h0M505.1 189.4h0M591.8 189.7h0M241.6 192.6h0M347.1 192.2h0M376.6 191.8h0M394.8 191.9h0M424.0 192.1h0M462.0 192.0h0M510.8 191.3h0M530.1 192.1h0M78.2 158.5h0M99.0 158.7h0M74.5 158.8h0M94.5 159.0h0M94.7 163.2h0M99.4 165.6h0M73.9 173.0h0M93.4 172.8h0M89.1 175.3h0M83.6 178.4h0M99.5 180.3h0M87.9 147.8h0M97.0 147.0h0M118.1 147.9h0M111.7 149.4h0M116.0 157.8h0M126.5 157.4h0M126.1 166.9h0M184.8 177.9h0M118.7 183.8h0M179.3 147.1h0M188.8 147.6h0M199.1 147.2h0M208.3 147.0h0M179.7 149.8h0M175.5 159.4h0M249.0 160.2h0M308.9 160.2h0M319.8 182.8h0M389.5 161.6h0M353.8 176.4h0M363.9 167.6h0M374.3 173.5h0M427.4 177.7h0M343.2 183.0h0M428.2 171.3h0M469.2 171.4h0M432.8 174.6h0M516.0 173.9h0M459.4 176.6h0M479.6 177.7h0M574.1 174.7h0M594.5 173.9h0M659.3 178.1h0M184.6 372.2h0M413.9 372.6h0M539.5 371.8h0M74.7 375.5h0M93.4 374.9h0M101.7 374.4h0M150.1 374.4h0M179.9 374.9h0M256.7 375.0h0M362.7 375.3h0M505.4 374.8h0M553.6 375.5h0M611.4 375.1h0M641.2 374.0h0M242.2 377.2h0M289.3 377.8h0M329.1 377.8h0M367.4 377.3h0M404.3 377.8h0M471.7 376.6h0M501.0 377.1h0M520.1 377.4h0M539.1 377.5h0M587.9 377.1h0M74.0 379.1h0M111.7 380.1h0M132.0 379.7h0M218.6 380.3h0M361.1 380.0h0M381.0 379.0h0M410.7 379.0h0M486.7 379.7h0M535.4 379.6h0M98.3 381.8h0M232.5 381.8h0M347.4 381.4h0M491.2 381.4h0M569.1 381.3h0M588.5 382.4h0M598.0 382.5h0M625.7 382.5h0M79.0 366.9h0M245.9 366.3h0M401.5 366.9h0M422.1 367.4h0M475.7 367.7h0M599.8 366.7h0M642.1 366.3h0M83.9 371.1h0M95.3 370.4h0M137.3 369.9h0M416.8 371.0h0M437.6 369.8h0M564.2 369.8h0M78.9 324.2h0M94.9 325.5h0M79.1 327.2h0M100.4 327.0h0M92.6 328.8h0M102.8 330.1h0M78.2 332.6h0M71.9 334.0h0M77.5 335.7h0M87.5 336.1h0M97.4 336.9h0M82.9 338.4h0M77.0 342.0h0M87.9 340.7h0M76.7 349.6h0M96.8 348.7h0M93.1 350.7h0M102.3 351.3h0M76.7 354.0h0M87.4 353.4h0M96.4 353.7h0M72.0 356.6h0M81.8 357.3h0M91.6 357.2h0M97.4 358.3h0M71.8 337.5h0M112.2 326.3h0M163.4 327.2h0M167.6 323.3h0M177.9 324.0h0M171.9 326.8h0M183.3 326.1h0M133.1 348.9h0M118.6 354.5h0M117.4 360.3h0M170.3 340.0h0M115.9 341.7h0M108.9 345.8h0M181.0 346.3h0M127.3 356.0h0M139.5 354.3h0M145.2 345.1h0M182.2 334.4h0M182.8 349.9h0M210.8 350.7h0M142.4 355.7h0M163.4 360.1h0M147.2 363.7h0M262.9 326.8h0M278.1 334.9h0M213.3 348.1h0M223.4 347.8h0M233.8 349.3h0M243.6 348.6h0M254.2 347.8h0M197.1 351.9h0M238.2 351.1h0M267.2 356.2h0M291.5 356.5h0M242.9 354.7h0M237.4 362.7h0M364.4 352.0h0M335.4 351.2h0M358.4 351.3h0M407.6 340.7h0M413.3 343.9h0M417.4 345.3h0M413.2 349.2h0M417.4 350.8h0M414.1 353.7h0M413.5 357.9h0M375.0 354.2h0M366.5 357.3h0M433.2 365.0h0M483.8 363.9h0M495.7 364.9h0M507.8 360.9h0M593.5 371.2h0M610.8 372.8h0M251.6 556.7h0M269.9 555.9h0M308.9 556.0h0M395.2 555.5h0M500.4 555.3h0M559.3 556.2h0M597.0 556.7h0M92.4 559.1h0M276.2 557.9h0M304.8 559.0h0M362.7 559.1h0M401.0 559.1h0M409.8 558.6h0M515.3 558.4h0M649.2 559.5h0M154.6 560.7h0M233.0 561.3h0M386.8 560.7h0M442.7 561.9h0M607.3 561.0h0M645.2 561.9h0M75.4 522.4h0M86.2 522.5h0M81.0 524.7h0M76.2 527.3h0M87.7 531.0h0M78.4 544.2h0M98.6 542.9h0M82.9 545.1h0M69.4 547.9h0M138.2 526.3h0M121.5 530.6h0M132.4 529.5h0M126.0 532.3h0M126.4 539.2h0M115.3 543.0h0M126.0 543.7h0M121.9 545.2h0M131.3 550.7h0M164.3 527.9h0M179.4 532.2h0M142.8 534.6h0M164.4 535.0h0M175.1 539.0h0M141.9 547.1h0M174.1 547.1h0M194.6 547.6h0M142.2 540.1h0M148.3 543.1h0M237.4 522.4h0M243.3 525.1h0M242.7 534.6h0M237.5 540.8h0M287.5 530.2h0M298.0 530.2h0M272.1 533.0h0M282.5 532.3h0M303.4 532.6h0M314.6 533.1h0M256.6 534.5h0M277.6 534.9h0M308.7 534.8h0M309.7 539.4h0M313.9 542.2h0M256.2 547.5h0M318.9 534.1h0M349.4 530.3h0M359.5 529.2h0M353.9 531.9h0M347.7 533.0h0M419.7 533.9h0M347.4 540.2h0M377.8 540.5h0M342.8 542.0h0M352.4 542.1h0M363.1 542.4h0M374.3 542.6h0M404.4 551.1h0M476.1 534.9h0M438.6 539.3h0M458.7 540.5h0M480.7 539.3h0M474.9 542.8h0M459.6 547.6h0M513.0 536.2h0M517.3 540.1h0M500.9 547.8h0M525.9 537.7h0M568.9 536.1h0M564.2 540.2h0M586.4 541.2h0M538.0 550.7h0M591.9 538.8h0M634.0 539.5h0M597.0 542.4h0M613.5 547.8h0M634.6 546.9h0M598.4 551.5h0" stroke="#02030e" stroke-width="5.0"/><path d="M145.0 188.0h0M193.8 188.1h0M251.2 188.0h0M280.2 187.5h0M357.7 187.5h0M375.7 187.4h0M462.7 187.7h0M491.6 187.6h0M597.7 187.3h0M606.1 187.9h0M370.9 189.2h0M505.1 189.4h0M591.8 189.7h0M241.6 192.6h0M347.1 192.2h0M376.6 191.8h0M394.8 191.9h0M424.0 192.1h0M462.0 192.0h0M510.8 191.3h0M530.1 192.1h0M78.2 158.5h0M99.0 158.7h0M74.5 158.8h0M94.5 159.0h0M94.7 163.2h0M99.4 165.6h0M73.9 173.0h0M93.4 172.8h0M89.1 175.3h0M83.6 178.4h0M99.5 180.3h0M87.9 147.8h0M97.0 147.0h0M118.1 147.9h0M111.7 149.4h0M116.0 157.8h0M126.5 157.4h0M126.1 166.9h0M184.8 177.9h0M118.7 183.8h0M179.3 147.1h0M188.8 147.6h0M199.1 147.2h0M208.3 147.0h0M179.7 149.8h0M175.5 159.4h0M249.0 160.2h0M308.9 160.2h0M319.8 182.8h0M389.5 161.6h0M353.8 176.4h0M363.9 167.6h0M374.3 173.5h0M427.4 177.7h0M343.2 183.0h0M428.2 171.3h0M469.2 171.4h0M432.8 174.6h0M516.0 173.9h0M459.4 176.6h0M479.6 177.7h0M574.1 174.7h0M594.5 173.9h0M659.3 178.1h0M184.6 372.2h0M413.9 372.6h0M539.5 371.8h0M74.7 375.5h0M93.4 374.9h0M101.7 374.4h0M150.1 374.4h0M179.9 374.9h0M256.7 375.0h0M362.7 375.3h0M505.4 374.8h0M553.6 375.5h0M611.4 375.1h0M641.2 374.0h0M242.2 377.2h0M289.3 377.8h0M329.1 377.8h0M367.4 377.3h0M404.3 377.8h0M471.7 376.6h0M501.0 377.1h0M520.1 377.4h0M539.1 377.5h0M587.9 377.1h0M74.0 379.1h0M111.7 380.1h0M132.0 379.7h0M218.6 380.3h0M361.1 380.0h0M381.0 379.0h0M410.7 379.0h0M486.7 379.7h0M535.4 379.6h0M98.3 381.8h0M232.5 381.8h0M347.4 381.4h0M491.2 381.4h0M569.1 381.3h0M588.5 382.4h0M598.0 382.5h0M625.7 382.5h0M79.0 366.9h0M245.9 366.3h0M401.5 366.9h0M422.1 367.4h0M475.7 367.7h0M599.8 366.7h0M642.1 366.3h0M83.9 371.1h0M95.3 370.4h0M137.3 369.9h0M416.8 371.0h0M437.6 369.8h0M564.2 369.8h0M78.9 324.2h0M94.9 325.5h0M79.1 327.2h0M100.4 327.0h0M92.6 328.8h0M102.8 330.1h0M78.2 332.6h0M71.9 334.0h0M77.5 335.7h0M87.5 336.1h0M97.4 336.9h0M82.9 338.4h0M77.0 342.0h0M87.9 340.7h0M76.7 349.6h0M96.8 348.7h0M93.1 350.7h0M102.3 351.3h0M76.7 354.0h0M87.4 353.4h0M96.4 353.7h0M72.0 356.6h0M81.8 357.3h0M91.6 357.2h0M97.4 358.3h0M71.8 337.5h0M112.2 326.3h0M163.4 327.2h0M167.6 323.3h0M177.9 324.0h0M171.9 326.8h0M183.3 326.1h0M133.1 348.9h0M118.6 354.5h0M117.4 360.3h0M170.3 340.0h0M115.9 341.7h0M108.9 345.8h0M181.0 346.3h0M127.3 356.0h0M139.5 354.3h0M145.2 345.1h0M182.2 334.4h0M182.8 349.9h0M210.8 350.7h0M142.4 355.7h0M163.4 360.1h0M147.2 363.7h0M262.9 326.8h0M278.1 334.9h0M213.3 348.1h0M223.4 347.8h0M233.8 349.3h0M243.6 348.6h0M254.2 347.8h0M197.1 351.9h0M238.2 351.1h0M267.2 356.2h0M291.5 356.5h0M242.9 354.7h0M237.4 362.7h0M364.4 352.0h0M335.4 351.2h0M358.4 351.3h0M407.6 340.7h0M413.3 343.9h0M417.4 345.3h0M413.2 349.2h0M417.4 350.8h0M414.1 353.7h0M413.5 357.9h0M375.0 354.2h0M366.5 357.3h0M433.2 365.0h0M483.8 363.9h0M495.7 364.9h0M507.8 360.9h0M593.5 371.2h0M610.8 372.8h0M251.6 556.7h0M269.9 555.9h0M308.9 556.0h0M395.2 555.5h0M500.4 555.3h0M559.3 556.2h0M597.0 556.7h0M92.4 559.1h0M276.2 557.9h0M304.8 559.0h0M362.7 559.1h0M401.0 559.1h0M409.8 558.6h0M515.3 558.4h0M649.2 559.5h0M154.6 560.7h0M233.0 561.3h0M386.8 560.7h0M442.7 561.9h0M607.3 561.0h0M645.2 561.9h0M75.4 522.4h0M86.2 522.5h0M81.0 524.7h0M76.2 527.3h0M87.7 531.0h0M78.4 544.2h0M98.6 542.9h0M82.9 545.1h0M69.4 547.9h0M138.2 526.3h0M121.5 530.6h0M132.4 529.5h0M126.0 532.3h0M126.4 539.2h0M115.3 543.0h0M126.0 543.7h0M121.9 545.2h0M131.3 550.7h0M164.3 527.9h0M179.4 532.2h0M142.8 534.6h0M164.4 535.0h0M175.1 539.0h0M141.9 547.1h0M174.1 547.1h0M194.6 547.6h0M142.2 540.1h0M148.3 543.1h0M237.4 522.4h0M243.3 525.1h0M242.7 534.6h0M237.5 540.8h0M287.5 530.2h0M298.0 530.2h0M272.1 533.0h0M282.5 532.3h0M303.4 532.6h0M314.6 533.1h0M256.6 534.5h0M277.6 534.9h0M308.7 534.8h0M309.7 539.4h0M313.9 542.2h0M256.2 547.5h0M318.9 534.1h0M349.4 530.3h0M359.5 529.2h0M353.9 531.9h0M347.7 533.0h0M419.7 533.9h0M347.4 540.2h0M377.8 540.5h0M342.8 542.0h0M352.4 542.1h0M363.1 542.4h0M374.3 542.6h0M404.4 551.1h0M476.1 534.9h0M438.6 539.3h0M458.7 540.5h0M480.7 539.3h0M474.9 542.8h0M459.6 547.6h0M513.0 536.2h0M517.3 540.1h0M500.9 547.8h0M525.9 537.7h0M568.9 536.1h0M564.2 540.2h0M586.4 541.2h0M538.0 550.7h0M591.9 538.8h0M634.0 539.5h0M597.0 542.4h0M613.5 547.8h0M634.6 546.9h0M598.4 551.5h0" stroke="#070e3c" stroke-width="3.8"/><path d="M89.7 157.3h0M75.1 179.2h0M78.2 151.3h0M98.4 150.8h0M84.2 153.4h0M98.9 147.0h0M93.6 148.4h0M107.6 146.8h0M102.2 149.4h0M136.2 156.8h0M110.5 166.6h0M231.8 175.1h0M167.9 150.5h0M249.9 166.4h0M299.2 166.4h0M286.4 175.5h0M296.5 175.5h0M259.7 177.9h0M401.7 167.6h0M333.1 170.6h0M349.5 173.5h0M374.1 167.9h0M369.1 175.1h0M501.0 172.2h0M474.7 174.0h0M538.1 174.0h0M437.3 177.0h0M448.2 177.3h0M532.9 176.6h0M623.5 175.1h0M111.0 366.3h0M360.4 366.6h0M390.8 366.5h0M406.5 369.8h0M91.5 322.8h0M90.0 324.3h0M100.5 322.8h0M84.6 325.3h0M90.2 327.4h0M96.5 332.3h0M92.7 334.0h0M91.8 343.3h0M102.8 343.4h0M102.9 346.9h0M82.2 351.6h0M73.1 360.7h0M143.1 326.4h0M184.7 327.1h0M177.6 329.8h0M121.7 349.0h0M112.2 357.5h0M128.1 360.3h0M157.7 338.9h0M151.3 341.9h0M164.0 342.6h0M150.7 349.0h0M114.6 355.5h0M122.2 357.7h0M182.4 358.4h0M153.3 356.1h0M316.6 328.0h0M250.8 327.1h0M264.9 334.9h0M317.7 349.1h0M327.9 348.9h0M207.1 351.6h0M249.7 351.2h0M269.5 352.2h0M291.7 351.0h0M301.3 350.9h0M321.8 351.6h0M332.1 352.2h0M237.3 352.2h0M248.8 357.0h0M243.4 358.9h0M243.0 364.1h0M389.6 307.0h0M401.0 307.4h0M402.2 322.0h0M402.9 338.8h0M417.6 341.0h0M417.5 360.4h0M390.9 350.9h0M385.4 361.2h0M463.6 364.7h0M496.9 360.6h0M613.9 364.5h0M75.9 517.4h0M96.0 518.7h0M81.8 519.7h0M90.8 520.2h0M96.0 522.8h0M82.6 533.5h0M93.3 533.4h0M88.0 535.3h0M92.9 538.6h0M102.3 525.6h0M105.4 527.6h0M116.2 533.1h0M153.8 529.1h0M175.1 527.8h0M158.2 532.2h0M169.5 531.1h0M152.2 534.5h0M174.4 534.1h0M185.1 534.4h0M164.2 537.9h0M214.6 547.9h0M235.4 546.8h0M153.0 544.9h0M238.1 528.3h0M247.9 533.5h0M266.6 528.8h0M262.0 532.2h0M278.1 540.4h0M294.1 543.1h0M325.2 543.2h0M353.8 526.8h0M344.3 532.2h0M337.8 533.4h0M399.2 533.5h0M352.6 535.2h0M374.2 535.7h0M383.4 534.6h0M404.4 535.7h0M425.3 535.0h0M336.9 540.4h0M406.9 531.9h0M438.5 532.0h0M459.7 530.8h0M453.8 535.7h0M519.9 528.3h0M524.7 530.6h0M519.9 533.8h0M530.2 534.5h0M559.6 536.6h0M548.8 543.1h0M580.3 543.2h0M591.5 542.4h0M659.8 542.3h0" stroke="#030514" stroke-width="5.0"/><path d="M89.7 157.3h0M75.1 179.2h0M78.2 151.3h0M98.4 150.8h0M84.2 153.4h0M98.9 147.0h0M93.6 148.4h0M107.6 146.8h0M102.2 149.4h0M136.2 156.8h0M110.5 166.6h0M231.8 175.1h0M167.9 150.5h0M249.9 166.4h0M299.2 166.4h0M286.4 175.5h0M296.5 175.5h0M259.7 177.9h0M401.7 167.6h0M333.1 170.6h0M349.5 173.5h0M374.1 167.9h0M369.1 175.1h0M501.0 172.2h0M474.7 174.0h0M538.1 174.0h0M437.3 177.0h0M448.2 177.3h0M532.9 176.6h0M623.5 175.1h0M111.0 366.3h0M360.4 366.6h0M390.8 366.5h0M406.5 369.8h0M91.5 322.8h0M90.0 324.3h0M100.5 322.8h0M84.6 325.3h0M90.2 327.4h0M96.5 332.3h0M92.7 334.0h0M91.8 343.3h0M102.8 343.4h0M102.9 346.9h0M82.2 351.6h0M73.1 360.7h0M143.1 326.4h0M184.7 327.1h0M177.6 329.8h0M121.7 349.0h0M112.2 357.5h0M128.1 360.3h0M157.7 338.9h0M151.3 341.9h0M164.0 342.6h0M150.7 349.0h0M114.6 355.5h0M122.2 357.7h0M182.4 358.4h0M153.3 356.1h0M316.6 328.0h0M250.8 327.1h0M264.9 334.9h0M317.7 349.1h0M327.9 348.9h0M207.1 351.6h0M249.7 351.2h0M269.5 352.2h0M291.7 351.0h0M301.3 350.9h0M321.8 351.6h0M332.1 352.2h0M237.3 352.2h0M248.8 357.0h0M243.4 358.9h0M243.0 364.1h0M389.6 307.0h0M401.0 307.4h0M402.2 322.0h0M402.9 338.8h0M417.6 341.0h0M417.5 360.4h0M390.9 350.9h0M385.4 361.2h0M463.6 364.7h0M496.9 360.6h0M613.9 364.5h0M75.9 517.4h0M96.0 518.7h0M81.8 519.7h0M90.8 520.2h0M96.0 522.8h0M82.6 533.5h0M93.3 533.4h0M88.0 535.3h0M92.9 538.6h0M102.3 525.6h0M105.4 527.6h0M116.2 533.1h0M153.8 529.1h0M175.1 527.8h0M158.2 532.2h0M169.5 531.1h0M152.2 534.5h0M174.4 534.1h0M185.1 534.4h0M164.2 537.9h0M214.6 547.9h0M235.4 546.8h0M153.0 544.9h0M238.1 528.3h0M247.9 533.5h0M266.6 528.8h0M262.0 532.2h0M278.1 540.4h0M294.1 543.1h0M325.2 543.2h0M353.8 526.8h0M344.3 532.2h0M337.8 533.4h0M399.2 533.5h0M352.6 535.2h0M374.2 535.7h0M383.4 534.6h0M404.4 535.7h0M425.3 535.0h0M336.9 540.4h0M406.9 531.9h0M438.5 532.0h0M459.7 530.8h0M453.8 535.7h0M519.9 528.3h0M524.7 530.6h0M519.9 533.8h0M530.2 534.5h0M559.6 536.6h0M548.8 543.1h0M580.3 543.2h0M591.5 542.4h0M659.8 542.3h0" stroke="#0a1550" stroke-width="3.8"/><path d="M68.5 157.3h0M84.1 159.5h0M84.8 162.8h0M89.6 166.8h0M85.1 168.1h0M98.6 116.8h0M93.2 126.0h0M86.7 133.8h0M133.6 147.3h0M133.7 147.4h0M85.0 139.2h0M168.4 115.8h0M183.5 141.9h0M140.8 143.1h0M219.5 147.7h0M274.7 166.3h0M287.3 166.2h0M254.7 174.9h0M306.3 175.0h0M324.2 176.1h0M353.6 141.9h0M385.1 168.1h0M416.3 167.3h0M391.0 171.1h0M437.8 171.5h0M533.2 171.9h0M431.4 149.7h0M445.6 150.5h0M458.4 149.7h0M471.1 150.5h0M449.9 157.9h0M482.5 166.4h0M493.4 154.8h0M512.9 146.7h0M470.1 168.8h0M489.0 164.9h0M501.0 165.1h0M513.7 165.0h0M526.2 157.6h0M618.8 168.8h0M520.2 164.0h0M531.1 163.9h0M545.0 164.2h0M567.4 164.3h0M552.8 174.8h0M584.5 173.9h0M649.4 170.3h0M658.8 185.1h0M173.9 366.5h0M82.9 346.4h0M91.9 346.3h0M92.0 362.1h0M123.1 327.0h0M132.9 327.1h0M152.8 326.8h0M127.5 354.3h0M123.7 357.0h0M144.1 356.9h0M139.6 343.1h0M151.7 355.9h0M138.6 361.6h0M181.2 345.0h0M147.1 352.8h0M164.1 355.6h0M134.3 297.9h0M140.9 300.8h0M87.6 298.9h0M84.5 305.4h0M85.5 311.6h0M89.6 316.7h0M174.5 294.4h0M296.0 348.9h0M306.7 349.3h0M337.5 348.4h0M217.7 352.1h0M408.5 356.7h0M354.5 357.0h0M535.7 307.8h0M556.9 307.0h0M537.1 316.5h0M494.7 312.7h0M508.4 312.8h0M529.1 312.6h0M540.3 313.3h0M519.1 330.4h0M573.2 333.6h0M578.9 330.7h0M591.6 330.9h0M524.7 347.5h0M538.0 350.8h0M523.0 356.7h0M556.1 359.6h0M583.6 362.8h0M625.5 320.3h0M650.0 320.3h0M598.8 338.3h0M619.5 357.4h0M610.3 362.6h0M624.4 365.2h0M118.4 504.0h0M143.8 510.7h0M146.0 522.7h0M167.9 495.5h0M171.8 519.5h0M183.3 518.9h0M171.8 524.8h0M183.5 525.2h0M197.4 525.1h0M210.8 525.8h0M223.9 525.4h0M236.0 525.1h0M195.4 534.2h0M206.5 533.5h0M218.1 533.4h0M229.5 534.3h0M194.5 544.3h0M309.9 529.6h0M388.7 533.4h0M419.5 540.0h0M414.3 541.7h0M427.8 531.6h0M430.9 527.4h0M489.8 523.4h0M492.0 528.2h0M504.0 529.1h0M515.2 529.0h0M426.9 530.8h0M449.5 531.3h0M480.8 531.4h0M522.1 535.8h0M495.8 540.0h0M506.9 539.5h0M491.1 543.2h0M548.0 504.3h0M536.2 517.6h0M566.4 515.3h0M558.0 522.0h0M558.3 527.9h0M597.3 527.1h0M570.7 534.4h0M581.9 535.0h0M592.9 534.4h0M624.3 538.3h0M590.0 534.8h0M610.0 536.8h0" stroke="#070d40" stroke-width="5.0"/><path d="M68.5 157.3h0M84.1 159.5h0M84.8 162.8h0M89.6 166.8h0M85.1 168.1h0M98.6 116.8h0M93.2 126.0h0M86.7 133.8h0M133.6 147.3h0M133.7 147.4h0M85.0 139.2h0M168.4 115.8h0M183.5 141.9h0M140.8 143.1h0M219.5 147.7h0M274.7 166.3h0M287.3 166.2h0M254.7 174.9h0M306.3 175.0h0M324.2 176.1h0M353.6 141.9h0M385.1 168.1h0M416.3 167.3h0M391.0 171.1h0M437.8 171.5h0M533.2 171.9h0M431.4 149.7h0M445.6 150.5h0M458.4 149.7h0M471.1 150.5h0M449.9 157.9h0M482.5 166.4h0M493.4 154.8h0M512.9 146.7h0M470.1 168.8h0M489.0 164.9h0M501.0 165.1h0M513.7 165.0h0M526.2 157.6h0M618.8 168.8h0M520.2 164.0h0M531.1 163.9h0M545.0 164.2h0M567.4 164.3h0M552.8 174.8h0M584.5 173.9h0M649.4 170.3h0M658.8 185.1h0M173.9 366.5h0M82.9 346.4h0M91.9 346.3h0M92.0 362.1h0M123.1 327.0h0M132.9 327.1h0M152.8 326.8h0M127.5 354.3h0M123.7 357.0h0M144.1 356.9h0M139.6 343.1h0M151.7 355.9h0M138.6 361.6h0M181.2 345.0h0M147.1 352.8h0M164.1 355.6h0M134.3 297.9h0M140.9 300.8h0M87.6 298.9h0M84.5 305.4h0M85.5 311.6h0M89.6 316.7h0M174.5 294.4h0M296.0 348.9h0M306.7 349.3h0M337.5 348.4h0M217.7 352.1h0M408.5 356.7h0M354.5 357.0h0M535.7 307.8h0M556.9 307.0h0M537.1 316.5h0M494.7 312.7h0M508.4 312.8h0M529.1 312.6h0M540.3 313.3h0M519.1 330.4h0M573.2 333.6h0M578.9 330.7h0M591.6 330.9h0M524.7 347.5h0M538.0 350.8h0M523.0 356.7h0M556.1 359.6h0M583.6 362.8h0M625.5 320.3h0M650.0 320.3h0M598.8 338.3h0M619.5 357.4h0M610.3 362.6h0M624.4 365.2h0M118.4 504.0h0M143.8 510.7h0M146.0 522.7h0M167.9 495.5h0M171.8 519.5h0M183.3 518.9h0M171.8 524.8h0M183.5 525.2h0M197.4 525.1h0M210.8 525.8h0M223.9 525.4h0M236.0 525.1h0M195.4 534.2h0M206.5 533.5h0M218.1 533.4h0M229.5 534.3h0M194.5 544.3h0M309.9 529.6h0M388.7 533.4h0M419.5 540.0h0M414.3 541.7h0M427.8 531.6h0M430.9 527.4h0M489.8 523.4h0M492.0 528.2h0M504.0 529.1h0M515.2 529.0h0M426.9 530.8h0M449.5 531.3h0M480.8 531.4h0M522.1 535.8h0M495.8 540.0h0M506.9 539.5h0M491.1 543.2h0M548.0 504.3h0M536.2 517.6h0M566.4 515.3h0M558.0 522.0h0M558.3 527.9h0M597.3 527.1h0M570.7 534.4h0M581.9 535.0h0M592.9 534.4h0M624.3 538.3h0M590.0 534.8h0M610.0 536.8h0" stroke="#0c1664" stroke-width="3.8"/><path d="M373.5 145.7h0M404.6 154.8h0M415.5 160.2h0M416.0 131.4h0M439.9 132.2h0M451.2 131.1h0M463.5 131.9h0M474.0 131.4h0M487.1 130.8h0M415.2 135.8h0M426.3 136.2h0M437.8 136.1h0M449.8 135.8h0M461.2 136.2h0M472.1 136.4h0M484.5 136.9h0M420.9 140.1h0M443.8 138.7h0M454.5 138.8h0M466.5 140.1h0M477.8 140.0h0M415.9 142.5h0M426.7 142.1h0M438.0 143.2h0M450.4 141.9h0M471.8 143.1h0M484.5 141.7h0M518.1 140.0h0M531.5 140.2h0M548.0 134.9h0M419.3 316.0h0M417.2 322.8h0M421.9 353.7h0M431.8 304.2h0M444.0 303.9h0M455.7 304.2h0M466.1 304.0h0M477.3 303.7h0M436.3 302.4h0M450.2 301.9h0M463.5 301.5h0M420.6 306.0h0M422.2 316.0h0M443.8 315.9h0M455.6 316.1h0M466.6 317.2h0M439.7 313.2h0M453.8 313.8h0M473.9 319.3h0M487.7 319.4h0M460.9 338.0h0M431.8 348.6h0M439.5 353.7h0M430.9 360.6h0M468.6 359.7h0M480.4 359.4h0M195.8 508.3h0M205.7 508.5h0M217.0 508.5h0M227.2 508.7h0M238.7 507.5h0M195.4 513.3h0M206.3 512.7h0M217.0 513.2h0M238.7 512.4h0M205.0 515.5h0M250.3 509.0h0M236.0 511.0h0M320.0 505.1h0M316.7 512.3h0M306.5 522.8h0M323.3 525.8h0M360.2 493.5h0M358.0 500.6h0M352.1 509.5h0M401.3 483.0h0M385.7 512.4h0M403.6 520.1h0M362.0 499.0h0M359.1 508.8h0M362.9 512.3h0M373.5 511.1h0M358.3 514.2h0M369.1 514.1h0M389.8 476.9h0M400.1 477.5h0" stroke="#0a1a5a" stroke-width="5.0"/><path d="M373.5 145.7h0M404.6 154.8h0M415.5 160.2h0M416.0 131.4h0M439.9 132.2h0M451.2 131.1h0M463.5 131.9h0M474.0 131.4h0M487.1 130.8h0M415.2 135.8h0M426.3 136.2h0M437.8 136.1h0M449.8 135.8h0M461.2 136.2h0M472.1 136.4h0M484.5 136.9h0M420.9 140.1h0M443.8 138.7h0M454.5 138.8h0M466.5 140.1h0M477.8 140.0h0M415.9 142.5h0M426.7 142.1h0M438.0 143.2h0M450.4 141.9h0M471.8 143.1h0M484.5 141.7h0M518.1 140.0h0M531.5 140.2h0M548.0 134.9h0M419.3 316.0h0M417.2 322.8h0M421.9 353.7h0M431.8 304.2h0M444.0 303.9h0M455.7 304.2h0M466.1 304.0h0M477.3 303.7h0M436.3 302.4h0M450.2 301.9h0M463.5 301.5h0M420.6 306.0h0M422.2 316.0h0M443.8 315.9h0M455.6 316.1h0M466.6 317.2h0M439.7 313.2h0M453.8 313.8h0M473.9 319.3h0M487.7 319.4h0M460.9 338.0h0M431.8 348.6h0M439.5 353.7h0M430.9 360.6h0M468.6 359.7h0M480.4 359.4h0M195.8 508.3h0M205.7 508.5h0M217.0 508.5h0M227.2 508.7h0M238.7 507.5h0M195.4 513.3h0M206.3 512.7h0M217.0 513.2h0M238.7 512.4h0M205.0 515.5h0M250.3 509.0h0M236.0 511.0h0M320.0 505.1h0M316.7 512.3h0M306.5 522.8h0M323.3 525.8h0M360.2 493.5h0M358.0 500.6h0M352.1 509.5h0M401.3 483.0h0M385.7 512.4h0M403.6 520.1h0M362.0 499.0h0M359.1 508.8h0M362.9 512.3h0M373.5 511.1h0M358.3 514.2h0M369.1 514.1h0M389.8 476.9h0M400.1 477.5h0" stroke="#0f2478" stroke-width="3.8"/><path d="M70.6 187.9h0M81.6 187.5h0M91.1 188.3h0M109.0 188.4h0M128.3 188.1h0M139.3 188.8h0M147.8 187.7h0M157.6 187.3h0M166.9 187.4h0M177.9 187.7h0M186.7 188.7h0M196.2 188.0h0M244.4 188.3h0M253.9 187.4h0M272.3 187.3h0M282.2 188.7h0M341.0 188.3h0M350.6 187.5h0M359.5 187.3h0M369.1 187.6h0M379.4 188.8h0M389.1 187.3h0M407.8 188.4h0M417.3 187.3h0M426.4 187.3h0M436.9 187.4h0M465.8 187.3h0M474.3 188.3h0M513.8 188.6h0M522.9 188.1h0M550.8 188.1h0M570.8 187.7h0M580.3 187.8h0M590.4 188.4h0M609.2 187.6h0M637.3 187.6h0M647.4 187.5h0M658.0 187.3h0M85.5 190.7h0M96.1 189.4h0M123.6 189.2h0M133.3 190.4h0M153.0 190.7h0M172.7 190.8h0M182.2 190.3h0M211.1 190.8h0M249.7 190.1h0M258.5 190.9h0M278.4 189.7h0M296.6 189.7h0M316.9 189.4h0M355.4 189.8h0M374.1 190.6h0M382.7 189.5h0M403.6 189.3h0M411.7 190.4h0M421.9 190.3h0M450.2 189.3h0M461.0 190.0h0M478.8 190.4h0M526.9 189.7h0M547.2 189.3h0M555.7 190.7h0M574.8 190.2h0M585.2 189.3h0M605.3 190.3h0M613.8 189.4h0M624.3 190.2h0M642.6 189.9h0M653.0 190.6h0M71.0 192.7h0M80.3 192.6h0M90.8 191.6h0M100.1 192.5h0M110.3 192.8h0M128.5 191.7h0M149.1 192.7h0M205.1 192.5h0M215.0 192.3h0M224.3 192.8h0M244.4 191.5h0M273.0 192.8h0M292.0 192.8h0M311.9 191.7h0M368.9 192.8h0M398.8 191.4h0M406.9 192.6h0M416.3 192.2h0M436.0 192.8h0M445.4 192.4h0M493.9 192.8h0M504.0 192.3h0M580.5 192.1h0M590.7 191.5h0M77.4 163.1h0M92.5 171.8h0M77.0 172.8h0M82.4 175.3h0M90.8 180.8h0M100.8 181.7h0M87.3 183.2h0M97.3 183.1h0M109.4 157.0h0M129.9 175.8h0M140.5 176.4h0M150.6 175.1h0M193.7 175.8h0M235.3 175.9h0M114.3 178.6h0M125.4 178.3h0M188.1 178.0h0M198.5 178.9h0M208.1 178.9h0M109.9 182.9h0M192.6 182.8h0M204.7 184.2h0M228.1 182.8h0M170.9 150.8h0M252.7 166.2h0M277.6 166.7h0M253.0 168.9h0M288.8 169.3h0M247.8 174.3h0M299.2 175.3h0M308.5 175.7h0M262.1 177.8h0M273.1 179.2h0M282.6 178.6h0M292.9 179.2h0M314.9 178.6h0M240.8 181.9h0M250.4 183.0h0M280.4 182.3h0M291.1 181.8h0M312.5 182.6h0M327.6 177.2h0M360.6 141.9h0M352.0 173.3h0M335.5 176.5h0M351.4 179.2h0M378.4 168.2h0M398.2 168.6h0M420.3 168.0h0M415.3 170.7h0M424.9 170.7h0M419.8 171.9h0M371.6 174.9h0M393.0 175.6h0M367.1 177.7h0M388.9 177.9h0M419.2 177.6h0M335.1 182.5h0M345.4 182.9h0M355.9 181.8h0M365.5 182.6h0M387.7 181.8h0M407.2 183.2h0M471.3 172.0h0M514.1 172.5h0M523.9 171.7h0M456.2 174.7h0M466.9 175.1h0M477.3 175.3h0M488.4 175.2h0M509.2 175.2h0M519.2 173.7h0M451.2 176.2h0M461.8 176.9h0M472.3 177.1h0M482.2 176.6h0M535.3 176.7h0M455.0 183.0h0M545.1 174.7h0M555.0 174.5h0M577.4 173.5h0M571.2 177.4h0M591.7 177.1h0M544.6 179.3h0M556.4 179.7h0M566.6 179.6h0M576.7 178.4h0M597.3 178.7h0M615.7 175.2h0M625.9 176.4h0M636.7 176.2h0M656.4 176.5h0M610.0 177.9h0M652.4 177.1h0M581.3 182.8h0M593.9 184.1h0M618.0 183.7h0M71.9 372.2h0M80.7 371.8h0M99.4 371.8h0M109.6 372.5h0M138.4 372.5h0M147.7 372.0h0M186.5 372.4h0M196.1 371.8h0M215.3 372.9h0M253.4 372.8h0M273.0 373.1h0M282.5 371.8h0M330.3 373.2h0M339.6 372.9h0M359.2 371.9h0M369.5 373.2h0M387.5 372.8h0M397.4 371.8h0M426.4 371.8h0M436.6 372.0h0M474.8 373.0h0M513.3 373.3h0M523.0 372.8h0M532.2 371.8h0M637.5 371.8h0M85.2 375.4h0M124.2 375.6h0M152.8 375.2h0M163.3 375.2h0M173.1 375.6h0M192.3 375.1h0M201.1 374.5h0M230.5 375.3h0M239.7 373.9h0M249.7 373.9h0M286.7 374.3h0M317.0 375.6h0M326.3 375.3h0M344.3 374.3h0M353.9 374.3h0M402.5 374.2h0M431.2 374.8h0M450.8 375.6h0M461.1 374.2h0M470.1 374.4h0M478.7 375.1h0M489.9 375.1h0M526.9 374.3h0M536.8 375.2h0M556.9 374.0h0M575.9 375.3h0M584.3 374.5h0M594.2 374.8h0M613.8 374.6h0M624.3 375.5h0M633.4 374.3h0M643.3 374.2h0M81.2 377.2h0M89.9 376.9h0M100.9 377.5h0M119.1 376.3h0M128.5 377.4h0M157.5 377.5h0M168.1 377.6h0M186.3 377.7h0M195.7 376.4h0M216.1 377.9h0M225.0 377.5h0M235.0 377.0h0M244.4 376.7h0M262.8 376.8h0M283.1 377.1h0M321.6 377.2h0M340.1 377.2h0M349.8 376.6h0M378.4 377.3h0M387.8 377.1h0M417.3 376.4h0M426.5 376.7h0M475.0 378.0h0M502.8 377.1h0M523.3 377.8h0M542.0 376.3h0M581.2 377.9h0M599.4 377.3h0M609.3 376.3h0M618.3 376.8h0M629.0 377.8h0M657.9 376.4h0M86.5 378.7h0M95.9 379.3h0M114.3 379.7h0M200.5 379.9h0M210.6 378.8h0M249.2 380.0h0M287.6 379.1h0M316.8 380.0h0M325.8 378.8h0M335.3 379.9h0M345.0 379.7h0M355.1 379.1h0M365.2 379.1h0M383.0 379.1h0M393.4 380.4h0M403.3 379.9h0M451.0 380.3h0M460.2 379.4h0M469.8 380.3h0M479.7 379.1h0M489.1 380.1h0M498.3 380.3h0M508.3 378.8h0M526.9 379.4h0M547.1 378.9h0M556.8 380.0h0M565.8 379.5h0M594.8 379.6h0M614.5 379.8h0M624.0 379.1h0M633.0 378.8h0M81.8 382.4h0M99.5 382.2h0M119.8 382.5h0M128.5 382.5h0M138.0 381.7h0M168.0 382.3h0M177.6 381.3h0M195.4 381.5h0M216.0 381.1h0M245.0 381.1h0M263.7 381.9h0M283.5 381.7h0M302.5 381.6h0M320.3 382.5h0M330.1 382.3h0M340.3 381.6h0M349.9 381.6h0M389.1 381.8h0M398.4 382.2h0M416.5 381.3h0M436.6 382.4h0M445.8 381.1h0M484.6 381.2h0M522.8 382.0h0M531.8 382.0h0M542.0 381.7h0M571.4 381.5h0M590.7 382.5h0M608.4 381.9h0M618.5 382.5h0M628.6 381.7h0M657.3 382.5h0M82.8 366.4h0M134.8 366.9h0M154.1 366.4h0M186.3 366.3h0M206.4 366.3h0M217.3 366.3h0M227.1 366.6h0M238.6 366.3h0M270.2 366.4h0M310.4 367.2h0M330.9 367.7h0M341.9 367.0h0M373.5 367.4h0M384.7 367.1h0M394.2 366.4h0M405.3 366.3h0M415.0 366.3h0M424.8 367.6h0M478.3 367.2h0M498.4 367.7h0M508.8 366.5h0M613.4 366.3h0M622.7 366.9h0M633.8 367.6h0M86.3 371.2h0M97.1 369.8h0M128.1 371.0h0M139.3 370.5h0M159.8 371.0h0M171.2 371.2h0M180.4 370.1h0M201.4 370.2h0M212.9 370.2h0M233.6 370.1h0M254.6 369.7h0M285.0 370.5h0M316.9 370.5h0M326.5 370.7h0M337.5 371.2h0M347.7 370.0h0M358.2 370.4h0M389.7 370.8h0M441.9 370.3h0M524.6 370.9h0M556.3 371.1h0M575.8 371.2h0M596.3 371.2h0M639.2 370.4h0M649.9 370.8h0M660.1 370.0h0M85.3 346.2h0M94.3 346.2h0M89.7 354.0h0M74.3 360.8h0M95.3 362.0h0M74.3 366.8h0M94.8 367.2h0M185.5 325.8h0M170.4 329.7h0M115.0 331.4h0M124.1 339.3h0M130.4 360.8h0M172.5 364.5h0M152.0 322.0h0M225.0 363.2h0M185.4 334.5h0M150.4 352.6h0M149.6 359.2h0M162.1 358.6h0M187.8 360.8h0M302.0 362.3h0M307.8 325.6h0M214.9 348.3h0M241.1 351.0h0M252.6 352.2h0M314.2 351.9h0M293.9 356.5h0M332.7 359.7h0M406.6 348.2h0M410.7 361.8h0M420.2 360.6h0M415.1 362.9h0M399.1 348.6h0M377.9 360.2h0M345.4 357.8h0M370.1 357.8h0M465.7 364.7h0M499.2 360.0h0M532.9 364.2h0M554.9 363.4h0M617.5 371.5h0M628.2 370.3h0M648.3 370.3h0M582.0 372.6h0M602.4 372.7h0M654.8 372.4h0M626.8 364.6h0M638.8 365.5h0M655.0 367.2h0M81.5 556.5h0M100.8 556.3h0M128.7 556.6h0M138.5 555.4h0M148.1 556.2h0M282.3 555.8h0M292.0 556.2h0M302.2 556.6h0M321.2 556.5h0M340.2 555.4h0M369.2 556.5h0M377.9 556.7h0M397.8 556.1h0M436.3 555.3h0M475.6 555.7h0M484.7 555.5h0M494.6 556.7h0M512.6 556.5h0M523.7 556.5h0M541.4 555.7h0M571.6 556.7h0M580.1 556.3h0M618.3 555.6h0M627.5 555.8h0M647.0 556.2h0M657.5 556.0h0M96.1 558.8h0M114.4 558.2h0M124.9 558.1h0M143.0 558.5h0M162.0 558.8h0M182.7 558.4h0M191.4 559.5h0M201.9 559.4h0M211.3 558.3h0M219.8 558.7h0M297.4 558.0h0M306.2 558.9h0M316.7 559.4h0M334.7 559.0h0M364.5 558.8h0M373.0 558.3h0M384.3 559.4h0M402.7 557.9h0M413.1 558.7h0M431.3 558.1h0M441.5 558.2h0M449.9 558.9h0M459.5 558.3h0M470.6 558.8h0M508.4 559.3h0M517.6 559.3h0M526.7 559.5h0M537.5 559.5h0M595.2 559.4h0M604.3 559.1h0M623.3 558.3h0M642.0 559.3h0M81.6 560.9h0M119.0 561.0h0M128.6 561.2h0M138.5 562.0h0M148.3 560.6h0M158.6 560.5h0M167.2 561.8h0M176.6 562.0h0M186.2 562.0h0M195.8 560.8h0M215.4 561.2h0M291.9 561.7h0M302.4 561.3h0M311.7 561.9h0M321.7 560.8h0M330.3 561.3h0M349.0 561.5h0M379.1 561.1h0M388.4 561.8h0M426.8 561.7h0M446.3 561.7h0M484.4 560.7h0M503.1 561.6h0M541.9 560.6h0M560.3 561.6h0M570.5 561.1h0M580.3 560.7h0M590.6 560.6h0M609.0 561.0h0M618.6 560.8h0M627.9 561.0h0M637.9 562.0h0M78.5 530.3h0M71.5 543.3h0M81.7 543.9h0M101.1 543.0h0M85.8 546.7h0M81.9 548.1h0M91.6 548.9h0M100.8 548.7h0M75.7 551.3h0M95.7 551.4h0M81.0 554.0h0M129.8 538.2h0M124.9 541.5h0M134.2 541.5h0M108.6 542.7h0M113.6 546.0h0M123.7 546.0h0M108.9 548.1h0M118.5 547.3h0M140.3 548.2h0M112.8 549.8h0M134.8 550.4h0M154.9 538.3h0M177.5 538.1h0M159.0 540.4h0M197.5 544.6h0M144.3 546.8h0M196.6 548.1h0M149.3 550.8h0M181.3 551.0h0M222.0 550.9h0M145.3 539.8h0M145.6 546.2h0M154.9 544.9h0M245.2 542.4h0M241.1 547.7h0M252.1 546.8h0M269.0 529.6h0M301.2 529.4h0M290.8 535.6h0M259.5 540.6h0M270.0 540.8h0M280.4 540.3h0M265.2 542.7h0M275.7 543.1h0M285.8 542.6h0M307.0 542.1h0M269.0 548.2h0M280.3 548.2h0M291.3 547.0h0M301.4 548.0h0M285.3 550.5h0M306.2 550.3h0M334.0 547.4h0M356.4 527.4h0M355.3 534.4h0M407.6 534.6h0M349.5 539.3h0M412.9 540.2h0M346.0 541.8h0M354.7 542.2h0M366.5 541.7h0M375.8 542.3h0M396.8 543.2h0M339.7 547.1h0M360.6 546.9h0M371.5 546.8h0M391.6 547.5h0M402.6 547.2h0M421.8 547.2h0M345.6 551.7h0M355.2 550.4h0M386.7 551.7h0M397.0 550.9h0M407.1 551.2h0M416.9 551.2h0M428.1 551.3h0M429.9 530.8h0M451.0 532.1h0M452.0 539.8h0M456.4 543.2h0M478.4 543.2h0M451.7 547.4h0M446.7 551.6h0M477.7 551.4h0M504.0 535.9h0M499.4 538.6h0M493.6 542.5h0M494.0 547.9h0M504.0 547.9h0M499.3 551.6h0M510.3 550.4h0M539.1 537.4h0M546.3 541.0h0M530.5 543.1h0M551.2 542.2h0M561.7 543.0h0M571.7 542.9h0M593.7 541.8h0M524.4 546.8h0M536.0 547.4h0M530.3 551.7h0M550.9 551.6h0M572.7 551.0h0M593.9 551.7h0M606.1 538.3h0M625.1 538.3h0M636.8 538.8h0M600.5 542.1h0M610.8 542.1h0M620.2 543.2h0M594.8 547.7h0M615.0 547.2h0M646.1 548.1h0M599.3 550.3h0M611.1 551.1h0M620.9 551.7h0M641.5 550.8h0" stroke="#01020a" stroke-width="5.0"/><path d="M70.6 187.9h0M81.6 187.5h0M91.1 188.3h0M109.0 188.4h0M128.3 188.1h0M139.3 188.8h0M147.8 187.7h0M157.6 187.3h0M166.9 187.4h0M177.9 187.7h0M186.7 188.7h0M196.2 188.0h0M244.4 188.3h0M253.9 187.4h0M272.3 187.3h0M282.2 188.7h0M341.0 188.3h0M350.6 187.5h0M359.5 187.3h0M369.1 187.6h0M379.4 188.8h0M389.1 187.3h0M407.8 188.4h0M417.3 187.3h0M426.4 187.3h0M436.9 187.4h0M465.8 187.3h0M474.3 188.3h0M513.8 188.6h0M522.9 188.1h0M550.8 188.1h0M570.8 187.7h0M580.3 187.8h0M590.4 188.4h0M609.2 187.6h0M637.3 187.6h0M647.4 187.5h0M658.0 187.3h0M85.5 190.7h0M96.1 189.4h0M123.6 189.2h0M133.3 190.4h0M153.0 190.7h0M172.7 190.8h0M182.2 190.3h0M211.1 190.8h0M249.7 190.1h0M258.5 190.9h0M278.4 189.7h0M296.6 189.7h0M316.9 189.4h0M355.4 189.8h0M374.1 190.6h0M382.7 189.5h0M403.6 189.3h0M411.7 190.4h0M421.9 190.3h0M450.2 189.3h0M461.0 190.0h0M478.8 190.4h0M526.9 189.7h0M547.2 189.3h0M555.7 190.7h0M574.8 190.2h0M585.2 189.3h0M605.3 190.3h0M613.8 189.4h0M624.3 190.2h0M642.6 189.9h0M653.0 190.6h0M71.0 192.7h0M80.3 192.6h0M90.8 191.6h0M100.1 192.5h0M110.3 192.8h0M128.5 191.7h0M149.1 192.7h0M205.1 192.5h0M215.0 192.3h0M224.3 192.8h0M244.4 191.5h0M273.0 192.8h0M292.0 192.8h0M311.9 191.7h0M368.9 192.8h0M398.8 191.4h0M406.9 192.6h0M416.3 192.2h0M436.0 192.8h0M445.4 192.4h0M493.9 192.8h0M504.0 192.3h0M580.5 192.1h0M590.7 191.5h0M77.4 163.1h0M92.5 171.8h0M77.0 172.8h0M82.4 175.3h0M90.8 180.8h0M100.8 181.7h0M87.3 183.2h0M97.3 183.1h0M109.4 157.0h0M129.9 175.8h0M140.5 176.4h0M150.6 175.1h0M193.7 175.8h0M235.3 175.9h0M114.3 178.6h0M125.4 178.3h0M188.1 178.0h0M198.5 178.9h0M208.1 178.9h0M109.9 182.9h0M192.6 182.8h0M204.7 184.2h0M228.1 182.8h0M170.9 150.8h0M252.7 166.2h0M277.6 166.7h0M253.0 168.9h0M288.8 169.3h0M247.8 174.3h0M299.2 175.3h0M308.5 175.7h0M262.1 177.8h0M273.1 179.2h0M282.6 178.6h0M292.9 179.2h0M314.9 178.6h0M240.8 181.9h0M250.4 183.0h0M280.4 182.3h0M291.1 181.8h0M312.5 182.6h0M327.6 177.2h0M360.6 141.9h0M352.0 173.3h0M335.5 176.5h0M351.4 179.2h0M378.4 168.2h0M398.2 168.6h0M420.3 168.0h0M415.3 170.7h0M424.9 170.7h0M419.8 171.9h0M371.6 174.9h0M393.0 175.6h0M367.1 177.7h0M388.9 177.9h0M419.2 177.6h0M335.1 182.5h0M345.4 182.9h0M355.9 181.8h0M365.5 182.6h0M387.7 181.8h0M407.2 183.2h0M471.3 172.0h0M514.1 172.5h0M523.9 171.7h0M456.2 174.7h0M466.9 175.1h0M477.3 175.3h0M488.4 175.2h0M509.2 175.2h0M519.2 173.7h0M451.2 176.2h0M461.8 176.9h0M472.3 177.1h0M482.2 176.6h0M535.3 176.7h0M455.0 183.0h0M545.1 174.7h0M555.0 174.5h0M577.4 173.5h0M571.2 177.4h0M591.7 177.1h0M544.6 179.3h0M556.4 179.7h0M566.6 179.6h0M576.7 178.4h0M597.3 178.7h0M615.7 175.2h0M625.9 176.4h0M636.7 176.2h0M656.4 176.5h0M610.0 177.9h0M652.4 177.1h0M581.3 182.8h0M593.9 184.1h0M618.0 183.7h0M71.9 372.2h0M80.7 371.8h0M99.4 371.8h0M109.6 372.5h0M138.4 372.5h0M147.7 372.0h0M186.5 372.4h0M196.1 371.8h0M215.3 372.9h0M253.4 372.8h0M273.0 373.1h0M282.5 371.8h0M330.3 373.2h0M339.6 372.9h0M359.2 371.9h0M369.5 373.2h0M387.5 372.8h0M397.4 371.8h0M426.4 371.8h0M436.6 372.0h0M474.8 373.0h0M513.3 373.3h0M523.0 372.8h0M532.2 371.8h0M637.5 371.8h0M85.2 375.4h0M124.2 375.6h0M152.8 375.2h0M163.3 375.2h0M173.1 375.6h0M192.3 375.1h0M201.1 374.5h0M230.5 375.3h0M239.7 373.9h0M249.7 373.9h0M286.7 374.3h0M317.0 375.6h0M326.3 375.3h0M344.3 374.3h0M353.9 374.3h0M402.5 374.2h0M431.2 374.8h0M450.8 375.6h0M461.1 374.2h0M470.1 374.4h0M478.7 375.1h0M489.9 375.1h0M526.9 374.3h0M536.8 375.2h0M556.9 374.0h0M575.9 375.3h0M584.3 374.5h0M594.2 374.8h0M613.8 374.6h0M624.3 375.5h0M633.4 374.3h0M643.3 374.2h0M81.2 377.2h0M89.9 376.9h0M100.9 377.5h0M119.1 376.3h0M128.5 377.4h0M157.5 377.5h0M168.1 377.6h0M186.3 377.7h0M195.7 376.4h0M216.1 377.9h0M225.0 377.5h0M235.0 377.0h0M244.4 376.7h0M262.8 376.8h0M283.1 377.1h0M321.6 377.2h0M340.1 377.2h0M349.8 376.6h0M378.4 377.3h0M387.8 377.1h0M417.3 376.4h0M426.5 376.7h0M475.0 378.0h0M502.8 377.1h0M523.3 377.8h0M542.0 376.3h0M581.2 377.9h0M599.4 377.3h0M609.3 376.3h0M618.3 376.8h0M629.0 377.8h0M657.9 376.4h0M86.5 378.7h0M95.9 379.3h0M114.3 379.7h0M200.5 379.9h0M210.6 378.8h0M249.2 380.0h0M287.6 379.1h0M316.8 380.0h0M325.8 378.8h0M335.3 379.9h0M345.0 379.7h0M355.1 379.1h0M365.2 379.1h0M383.0 379.1h0M393.4 380.4h0M403.3 379.9h0M451.0 380.3h0M460.2 379.4h0M469.8 380.3h0M479.7 379.1h0M489.1 380.1h0M498.3 380.3h0M508.3 378.8h0M526.9 379.4h0M547.1 378.9h0M556.8 380.0h0M565.8 379.5h0M594.8 379.6h0M614.5 379.8h0M624.0 379.1h0M633.0 378.8h0M81.8 382.4h0M99.5 382.2h0M119.8 382.5h0M128.5 382.5h0M138.0 381.7h0M168.0 382.3h0M177.6 381.3h0M195.4 381.5h0M216.0 381.1h0M245.0 381.1h0M263.7 381.9h0M283.5 381.7h0M302.5 381.6h0M320.3 382.5h0M330.1 382.3h0M340.3 381.6h0M349.9 381.6h0M389.1 381.8h0M398.4 382.2h0M416.5 381.3h0M436.6 382.4h0M445.8 381.1h0M484.6 381.2h0M522.8 382.0h0M531.8 382.0h0M542.0 381.7h0M571.4 381.5h0M590.7 382.5h0M608.4 381.9h0M618.5 382.5h0M628.6 381.7h0M657.3 382.5h0M82.8 366.4h0M134.8 366.9h0M154.1 366.4h0M186.3 366.3h0M206.4 366.3h0M217.3 366.3h0M227.1 366.6h0M238.6 366.3h0M270.2 366.4h0M310.4 367.2h0M330.9 367.7h0M341.9 367.0h0M373.5 367.4h0M384.7 367.1h0M394.2 366.4h0M405.3 366.3h0M415.0 366.3h0M424.8 367.6h0M478.3 367.2h0M498.4 367.7h0M508.8 366.5h0M613.4 366.3h0M622.7 366.9h0M633.8 367.6h0M86.3 371.2h0M97.1 369.8h0M128.1 371.0h0M139.3 370.5h0M159.8 371.0h0M171.2 371.2h0M180.4 370.1h0M201.4 370.2h0M212.9 370.2h0M233.6 370.1h0M254.6 369.7h0M285.0 370.5h0M316.9 370.5h0M326.5 370.7h0M337.5 371.2h0M347.7 370.0h0M358.2 370.4h0M389.7 370.8h0M441.9 370.3h0M524.6 370.9h0M556.3 371.1h0M575.8 371.2h0M596.3 371.2h0M639.2 370.4h0M649.9 370.8h0M660.1 370.0h0M85.3 346.2h0M94.3 346.2h0M89.7 354.0h0M74.3 360.8h0M95.3 362.0h0M74.3 366.8h0M94.8 367.2h0M185.5 325.8h0M170.4 329.7h0M115.0 331.4h0M124.1 339.3h0M130.4 360.8h0M172.5 364.5h0M152.0 322.0h0M225.0 363.2h0M185.4 334.5h0M150.4 352.6h0M149.6 359.2h0M162.1 358.6h0M187.8 360.8h0M302.0 362.3h0M307.8 325.6h0M214.9 348.3h0M241.1 351.0h0M252.6 352.2h0M314.2 351.9h0M293.9 356.5h0M332.7 359.7h0M406.6 348.2h0M410.7 361.8h0M420.2 360.6h0M415.1 362.9h0M399.1 348.6h0M377.9 360.2h0M345.4 357.8h0M370.1 357.8h0M465.7 364.7h0M499.2 360.0h0M532.9 364.2h0M554.9 363.4h0M617.5 371.5h0M628.2 370.3h0M648.3 370.3h0M582.0 372.6h0M602.4 372.7h0M654.8 372.4h0M626.8 364.6h0M638.8 365.5h0M655.0 367.2h0M81.5 556.5h0M100.8 556.3h0M128.7 556.6h0M138.5 555.4h0M148.1 556.2h0M282.3 555.8h0M292.0 556.2h0M302.2 556.6h0M321.2 556.5h0M340.2 555.4h0M369.2 556.5h0M377.9 556.7h0M397.8 556.1h0M436.3 555.3h0M475.6 555.7h0M484.7 555.5h0M494.6 556.7h0M512.6 556.5h0M523.7 556.5h0M541.4 555.7h0M571.6 556.7h0M580.1 556.3h0M618.3 555.6h0M627.5 555.8h0M647.0 556.2h0M657.5 556.0h0M96.1 558.8h0M114.4 558.2h0M124.9 558.1h0M143.0 558.5h0M162.0 558.8h0M182.7 558.4h0M191.4 559.5h0M201.9 559.4h0M211.3 558.3h0M219.8 558.7h0M297.4 558.0h0M306.2 558.9h0M316.7 559.4h0M334.7 559.0h0M364.5 558.8h0M373.0 558.3h0M384.3 559.4h0M402.7 557.9h0M413.1 558.7h0M431.3 558.1h0M441.5 558.2h0M449.9 558.9h0M459.5 558.3h0M470.6 558.8h0M508.4 559.3h0M517.6 559.3h0M526.7 559.5h0M537.5 559.5h0M595.2 559.4h0M604.3 559.1h0M623.3 558.3h0M642.0 559.3h0M81.6 560.9h0M119.0 561.0h0M128.6 561.2h0M138.5 562.0h0M148.3 560.6h0M158.6 560.5h0M167.2 561.8h0M176.6 562.0h0M186.2 562.0h0M195.8 560.8h0M215.4 561.2h0M291.9 561.7h0M302.4 561.3h0M311.7 561.9h0M321.7 560.8h0M330.3 561.3h0M349.0 561.5h0M379.1 561.1h0M388.4 561.8h0M426.8 561.7h0M446.3 561.7h0M484.4 560.7h0M503.1 561.6h0M541.9 560.6h0M560.3 561.6h0M570.5 561.1h0M580.3 560.7h0M590.6 560.6h0M609.0 561.0h0M618.6 560.8h0M627.9 561.0h0M637.9 562.0h0M78.5 530.3h0M71.5 543.3h0M81.7 543.9h0M101.1 543.0h0M85.8 546.7h0M81.9 548.1h0M91.6 548.9h0M100.8 548.7h0M75.7 551.3h0M95.7 551.4h0M81.0 554.0h0M129.8 538.2h0M124.9 541.5h0M134.2 541.5h0M108.6 542.7h0M113.6 546.0h0M123.7 546.0h0M108.9 548.1h0M118.5 547.3h0M140.3 548.2h0M112.8 549.8h0M134.8 550.4h0M154.9 538.3h0M177.5 538.1h0M159.0 540.4h0M197.5 544.6h0M144.3 546.8h0M196.6 548.1h0M149.3 550.8h0M181.3 551.0h0M222.0 550.9h0M145.3 539.8h0M145.6 546.2h0M154.9 544.9h0M245.2 542.4h0M241.1 547.7h0M252.1 546.8h0M269.0 529.6h0M301.2 529.4h0M290.8 535.6h0M259.5 540.6h0M270.0 540.8h0M280.4 540.3h0M265.2 542.7h0M275.7 543.1h0M285.8 542.6h0M307.0 542.1h0M269.0 548.2h0M280.3 548.2h0M291.3 547.0h0M301.4 548.0h0M285.3 550.5h0M306.2 550.3h0M334.0 547.4h0M356.4 527.4h0M355.3 534.4h0M407.6 534.6h0M349.5 539.3h0M412.9 540.2h0M346.0 541.8h0M354.7 542.2h0M366.5 541.7h0M375.8 542.3h0M396.8 543.2h0M339.7 547.1h0M360.6 546.9h0M371.5 546.8h0M391.6 547.5h0M402.6 547.2h0M421.8 547.2h0M345.6 551.7h0M355.2 550.4h0M386.7 551.7h0M397.0 550.9h0M407.1 551.2h0M416.9 551.2h0M428.1 551.3h0M429.9 530.8h0M451.0 532.1h0M452.0 539.8h0M456.4 543.2h0M478.4 543.2h0M451.7 547.4h0M446.7 551.6h0M477.7 551.4h0M504.0 535.9h0M499.4 538.6h0M493.6 542.5h0M494.0 547.9h0M504.0 547.9h0M499.3 551.6h0M510.3 550.4h0M539.1 537.4h0M546.3 541.0h0M530.5 543.1h0M551.2 542.2h0M561.7 543.0h0M571.7 542.9h0M593.7 541.8h0M524.4 546.8h0M536.0 547.4h0M530.3 551.7h0M550.9 551.6h0M572.7 551.0h0M593.9 551.7h0M606.1 538.3h0M625.1 538.3h0M636.8 538.8h0M600.5 542.1h0M610.8 542.1h0M620.2 543.2h0M594.8 547.7h0M615.0 547.2h0M646.1 548.1h0M599.3 550.3h0M611.1 551.1h0M620.9 551.7h0M641.5 550.8h0" stroke="#03051c" stroke-width="3.8"/><path d="M100.6 188.1h0M118.9 187.9h0M206.3 187.9h0M233.8 187.6h0M264.2 187.3h0M292.7 188.2h0M302.4 188.5h0M311.5 188.0h0M320.5 187.5h0M397.7 188.7h0M446.6 188.6h0M484.9 188.3h0M503.7 187.7h0M532.2 188.0h0M76.7 190.4h0M114.2 189.7h0M143.4 189.8h0M162.4 190.9h0M191.5 189.4h0M201.4 189.9h0M220.5 190.6h0M229.8 189.9h0M238.8 189.6h0M268.2 190.1h0M287.7 190.3h0M325.0 189.2h0M335.3 189.8h0M345.4 190.2h0M363.8 190.2h0M432.4 189.3h0M470.6 189.7h0M489.8 189.4h0M499.5 190.6h0M537.2 189.8h0M565.6 190.6h0M594.1 190.8h0M120.2 191.5h0M138.8 192.1h0M167.1 191.6h0M177.2 191.4h0M186.3 192.1h0M235.0 192.1h0M253.6 191.6h0M264.1 192.0h0M282.4 191.8h0M320.5 192.3h0M340.4 192.4h0M349.9 192.5h0M358.9 191.6h0M378.1 192.8h0M389.0 191.6h0M456.1 192.8h0M465.1 192.7h0M475.3 191.5h0M512.8 191.8h0M531.6 192.1h0M541.2 191.5h0M552.3 191.9h0M571.5 191.4h0M609.4 192.7h0M618.3 192.6h0M628.4 192.2h0M638.4 191.5h0M657.0 191.5h0M101.4 157.9h0M102.1 165.4h0M76.1 168.7h0M86.1 168.4h0M101.3 171.2h0M91.0 176.4h0M77.5 178.4h0M96.7 177.8h0M81.7 181.4h0M76.3 183.9h0M97.0 149.2h0M129.6 166.9h0M109.4 175.8h0M119.6 175.1h0M182.4 176.1h0M167.3 177.8h0M176.5 178.0h0M132.4 182.8h0M310.4 163.8h0M277.1 169.2h0M256.8 174.3h0M289.2 174.7h0M304.4 179.0h0M260.9 183.2h0M301.0 182.8h0M322.5 182.5h0M392.4 167.9h0M356.5 175.5h0M410.0 167.9h0M382.4 170.0h0M393.3 170.9h0M377.7 172.1h0M398.6 172.8h0M376.9 181.8h0M397.3 183.2h0M439.7 171.8h0M451.4 171.9h0M435.6 175.2h0M446.2 174.9h0M439.9 176.3h0M524.2 176.9h0M597.7 174.3h0M561.6 175.8h0M581.9 176.5h0M587.0 179.7h0M604.7 175.1h0M647.0 175.1h0M605.7 182.9h0M642.1 184.1h0M91.3 372.7h0M119.1 372.7h0M128.9 371.8h0M157.0 372.7h0M167.4 372.2h0M177.6 372.5h0M205.4 372.8h0M225.7 371.8h0M234.1 372.8h0M292.8 372.3h0M302.3 372.0h0M310.8 372.6h0M349.4 371.8h0M407.2 372.5h0M464.8 372.7h0M484.4 372.0h0M502.8 372.4h0M551.1 373.1h0M570.8 372.8h0M579.8 372.4h0M590.6 372.7h0M599.0 372.9h0M609.2 372.2h0M619.2 372.9h0M628.3 371.9h0M647.4 372.5h0M76.8 374.1h0M104.9 375.5h0M114.6 374.5h0M134.7 374.7h0M181.2 375.2h0M210.0 375.1h0M220.3 375.0h0M259.1 374.7h0M336.1 375.1h0M364.2 375.4h0M382.9 374.8h0M392.4 375.6h0M412.9 374.1h0M422.3 375.6h0M508.9 374.7h0M517.3 374.9h0M546.7 374.6h0M604.5 375.1h0M652.8 374.9h0M71.7 376.5h0M109.7 377.8h0M138.9 376.5h0M177.9 376.8h0M253.1 377.8h0M291.7 376.4h0M302.3 377.2h0M329.9 377.0h0M360.3 376.3h0M369.5 376.6h0M397.8 376.6h0M436.9 378.0h0M446.5 377.3h0M455.4 377.5h0M464.3 376.3h0M494.1 377.9h0M512.5 376.7h0M551.4 376.7h0M561.8 377.1h0M570.8 376.7h0M590.3 377.3h0M648.4 377.1h0M134.5 380.0h0M142.7 380.2h0M153.7 380.3h0M162.6 379.5h0M172.8 379.9h0M219.5 378.8h0M259.4 378.8h0M269.0 379.3h0M278.2 378.7h0M422.6 378.8h0M432.1 379.0h0M441.1 380.2h0M518.0 378.8h0M575.1 378.8h0M585.5 378.7h0M604.9 379.3h0M652.3 378.9h0M70.7 382.5h0M91.4 382.1h0M157.1 381.0h0M185.9 381.6h0M206.1 382.3h0M225.6 381.7h0M234.9 382.2h0M253.5 382.0h0M272.5 382.4h0M292.0 381.4h0M311.9 382.3h0M359.2 382.2h0M369.1 382.1h0M379.1 381.3h0M408.0 382.3h0M426.0 382.5h0M455.1 381.2h0M465.4 381.6h0M475.6 382.5h0M493.9 382.4h0M551.4 381.7h0M561.0 381.4h0M581.1 382.1h0M599.9 382.5h0M71.5 366.9h0M112.7 366.7h0M248.4 367.7h0M280.0 367.4h0M289.3 366.8h0M353.1 366.9h0M363.8 366.6h0M488.5 367.4h0M540.4 366.6h0M601.9 367.7h0M654.7 366.5h0M107.6 371.2h0M149.1 370.4h0M243.9 371.2h0M274.0 371.2h0M368.3 370.9h0M378.1 370.0h0M409.8 370.4h0M420.8 370.7h0M430.3 370.0h0M450.9 370.5h0M462.0 371.0h0M482.6 371.0h0M502.7 370.7h0M606.9 370.1h0M617.7 370.8h0M96.6 325.7h0M93.2 327.1h0M103.1 327.7h0M95.4 328.8h0M85.0 333.8h0M104.4 333.8h0M89.9 335.7h0M94.4 339.6h0M79.4 341.4h0M99.1 341.8h0M104.9 344.2h0M99.4 348.6h0M94.4 351.8h0M104.2 351.9h0M84.7 357.2h0M79.7 363.3h0M85.7 366.6h0M103.9 367.2h0M176.9 326.7h0M136.4 349.1h0M136.3 357.2h0M136.3 345.3h0M112.0 358.4h0M140.4 336.5h0M125.8 369.2h0M186.5 350.6h0M145.8 349.8h0M155.1 350.9h0M166.9 361.3h0M251.3 334.5h0M247.3 348.1h0M220.3 352.0h0M292.9 351.1h0M239.8 357.0h0M239.7 362.4h0M251.1 361.4h0M373.3 320.2h0M367.8 352.0h0M416.6 343.6h0M410.6 351.9h0M415.3 353.7h0M406.7 364.1h0M381.8 363.2h0M435.1 364.1h0M444.9 364.2h0M476.2 363.9h0M496.9 365.1h0M510.1 359.8h0M513.9 363.0h0M545.0 363.0h0M576.8 371.6h0M586.2 371.1h0M596.4 370.4h0M607.3 370.5h0M660.1 370.6h0M592.0 371.8h0M612.2 373.2h0M616.3 365.6h0M659.0 364.3h0M71.8 556.2h0M90.2 555.4h0M109.2 555.4h0M119.8 555.7h0M167.7 556.2h0M177.1 555.4h0M197.0 556.2h0M205.8 555.3h0M215.1 555.3h0M224.9 555.4h0M234.3 556.5h0M243.8 556.1h0M253.9 555.3h0M263.2 555.9h0M273.2 556.3h0M331.1 555.5h0M350.2 556.4h0M388.9 555.3h0M407.2 555.3h0M416.3 556.5h0M455.5 556.2h0M465.1 555.3h0M561.1 555.8h0M599.8 556.2h0M609.7 555.3h0M77.0 559.5h0M85.0 558.1h0M134.3 559.2h0M229.5 557.9h0M240.2 559.0h0M249.8 558.7h0M268.4 559.5h0M286.6 558.3h0M344.7 557.8h0M422.6 558.1h0M499.1 558.2h0M546.1 559.2h0M584.3 558.2h0M613.7 559.3h0M91.3 562.0h0M100.1 560.7h0M109.3 562.0h0M206.3 561.3h0M224.2 561.2h0M233.8 561.5h0M244.1 561.2h0M253.2 561.5h0M262.8 561.3h0M283.3 562.0h0M339.6 561.5h0M359.2 561.0h0M397.5 560.8h0M408.2 561.1h0M417.2 561.5h0M436.5 561.7h0M455.6 560.9h0M465.7 560.8h0M474.3 560.9h0M493.3 561.7h0M512.4 562.0h0M523.3 560.8h0M533.1 561.9h0M552.1 561.4h0M657.4 561.9h0M88.6 517.4h0M85.2 532.0h0M100.0 535.8h0M89.5 539.5h0M96.2 546.5h0M72.2 547.7h0M85.5 551.3h0M71.0 553.2h0M91.5 554.2h0M72.0 537.9h0M118.5 526.3h0M139.3 527.1h0M129.0 532.6h0M118.1 538.4h0M139.2 538.9h0M119.4 543.4h0M135.4 546.0h0M145.4 528.5h0M161.0 532.3h0M171.6 530.7h0M181.5 530.8h0M166.0 538.5h0M165.3 548.0h0M175.7 547.3h0M186.0 546.8h0M206.6 547.7h0M217.4 548.0h0M238.1 548.3h0M161.3 551.2h0M202.3 551.7h0M231.6 551.5h0M246.1 534.5h0M239.9 540.6h0M263.6 531.7h0M312.1 539.4h0M311.7 548.2h0M274.2 550.8h0M295.3 551.3h0M323.0 540.7h0M327.5 543.2h0M327.7 551.7h0M346.2 527.3h0M427.6 534.5h0M361.4 539.3h0M386.4 542.6h0M418.2 541.9h0M427.5 542.2h0M381.7 546.8h0M366.0 550.2h0M400.2 531.8h0M455.9 535.0h0M429.4 539.3h0M473.0 540.3h0M430.4 546.8h0M441.3 546.8h0M461.5 546.9h0M472.6 547.7h0M466.6 551.7h0M487.1 539.3h0M486.4 548.0h0M515.2 542.6h0M515.1 546.8h0M523.8 533.8h0M525.3 540.2h0M540.6 542.9h0M583.4 543.2h0M545.8 547.6h0M557.0 546.8h0M587.7 547.0h0M540.6 551.5h0M561.8 551.3h0M582.7 550.7h0M646.7 539.2h0M651.3 542.3h0M604.9 548.3h0M637.2 547.6h0M657.4 547.4h0M651.7 551.7h0" stroke="#01020a" stroke-width="5.0"/><path d="M100.6 188.1h0M118.9 187.9h0M206.3 187.9h0M233.8 187.6h0M264.2 187.3h0M292.7 188.2h0M302.4 188.5h0M311.5 188.0h0M320.5 187.5h0M397.7 188.7h0M446.6 188.6h0M484.9 188.3h0M503.7 187.7h0M532.2 188.0h0M76.7 190.4h0M114.2 189.7h0M143.4 189.8h0M162.4 190.9h0M191.5 189.4h0M201.4 189.9h0M220.5 190.6h0M229.8 189.9h0M238.8 189.6h0M268.2 190.1h0M287.7 190.3h0M325.0 189.2h0M335.3 189.8h0M345.4 190.2h0M363.8 190.2h0M432.4 189.3h0M470.6 189.7h0M489.8 189.4h0M499.5 190.6h0M537.2 189.8h0M565.6 190.6h0M594.1 190.8h0M120.2 191.5h0M138.8 192.1h0M167.1 191.6h0M177.2 191.4h0M186.3 192.1h0M235.0 192.1h0M253.6 191.6h0M264.1 192.0h0M282.4 191.8h0M320.5 192.3h0M340.4 192.4h0M349.9 192.5h0M358.9 191.6h0M378.1 192.8h0M389.0 191.6h0M456.1 192.8h0M465.1 192.7h0M475.3 191.5h0M512.8 191.8h0M531.6 192.1h0M541.2 191.5h0M552.3 191.9h0M571.5 191.4h0M609.4 192.7h0M618.3 192.6h0M628.4 192.2h0M638.4 191.5h0M657.0 191.5h0M101.4 157.9h0M102.1 165.4h0M76.1 168.7h0M86.1 168.4h0M101.3 171.2h0M91.0 176.4h0M77.5 178.4h0M96.7 177.8h0M81.7 181.4h0M76.3 183.9h0M97.0 149.2h0M129.6 166.9h0M109.4 175.8h0M119.6 175.1h0M182.4 176.1h0M167.3 177.8h0M176.5 178.0h0M132.4 182.8h0M310.4 163.8h0M277.1 169.2h0M256.8 174.3h0M289.2 174.7h0M304.4 179.0h0M260.9 183.2h0M301.0 182.8h0M322.5 182.5h0M392.4 167.9h0M356.5 175.5h0M410.0 167.9h0M382.4 170.0h0M393.3 170.9h0M377.7 172.1h0M398.6 172.8h0M376.9 181.8h0M397.3 183.2h0M439.7 171.8h0M451.4 171.9h0M435.6 175.2h0M446.2 174.9h0M439.9 176.3h0M524.2 176.9h0M597.7 174.3h0M561.6 175.8h0M581.9 176.5h0M587.0 179.7h0M604.7 175.1h0M647.0 175.1h0M605.7 182.9h0M642.1 184.1h0M91.3 372.7h0M119.1 372.7h0M128.9 371.8h0M157.0 372.7h0M167.4 372.2h0M177.6 372.5h0M205.4 372.8h0M225.7 371.8h0M234.1 372.8h0M292.8 372.3h0M302.3 372.0h0M310.8 372.6h0M349.4 371.8h0M407.2 372.5h0M464.8 372.7h0M484.4 372.0h0M502.8 372.4h0M551.1 373.1h0M570.8 372.8h0M579.8 372.4h0M590.6 372.7h0M599.0 372.9h0M609.2 372.2h0M619.2 372.9h0M628.3 371.9h0M647.4 372.5h0M76.8 374.1h0M104.9 375.5h0M114.6 374.5h0M134.7 374.7h0M181.2 375.2h0M210.0 375.1h0M220.3 375.0h0M259.1 374.7h0M336.1 375.1h0M364.2 375.4h0M382.9 374.8h0M392.4 375.6h0M412.9 374.1h0M422.3 375.6h0M508.9 374.7h0M517.3 374.9h0M546.7 374.6h0M604.5 375.1h0M652.8 374.9h0M71.7 376.5h0M109.7 377.8h0M138.9 376.5h0M177.9 376.8h0M253.1 377.8h0M291.7 376.4h0M302.3 377.2h0M329.9 377.0h0M360.3 376.3h0M369.5 376.6h0M397.8 376.6h0M436.9 378.0h0M446.5 377.3h0M455.4 377.5h0M464.3 376.3h0M494.1 377.9h0M512.5 376.7h0M551.4 376.7h0M561.8 377.1h0M570.8 376.7h0M590.3 377.3h0M648.4 377.1h0M134.5 380.0h0M142.7 380.2h0M153.7 380.3h0M162.6 379.5h0M172.8 379.9h0M219.5 378.8h0M259.4 378.8h0M269.0 379.3h0M278.2 378.7h0M422.6 378.8h0M432.1 379.0h0M441.1 380.2h0M518.0 378.8h0M575.1 378.8h0M585.5 378.7h0M604.9 379.3h0M652.3 378.9h0M70.7 382.5h0M91.4 382.1h0M157.1 381.0h0M185.9 381.6h0M206.1 382.3h0M225.6 381.7h0M234.9 382.2h0M253.5 382.0h0M272.5 382.4h0M292.0 381.4h0M311.9 382.3h0M359.2 382.2h0M369.1 382.1h0M379.1 381.3h0M408.0 382.3h0M426.0 382.5h0M455.1 381.2h0M465.4 381.6h0M475.6 382.5h0M493.9 382.4h0M551.4 381.7h0M561.0 381.4h0M581.1 382.1h0M599.9 382.5h0M71.5 366.9h0M112.7 366.7h0M248.4 367.7h0M280.0 367.4h0M289.3 366.8h0M353.1 366.9h0M363.8 366.6h0M488.5 367.4h0M540.4 366.6h0M601.9 367.7h0M654.7 366.5h0M107.6 371.2h0M149.1 370.4h0M243.9 371.2h0M274.0 371.2h0M368.3 370.9h0M378.1 370.0h0M409.8 370.4h0M420.8 370.7h0M430.3 370.0h0M450.9 370.5h0M462.0 371.0h0M482.6 371.0h0M502.7 370.7h0M606.9 370.1h0M617.7 370.8h0M96.6 325.7h0M93.2 327.1h0M103.1 327.7h0M95.4 328.8h0M85.0 333.8h0M104.4 333.8h0M89.9 335.7h0M94.4 339.6h0M79.4 341.4h0M99.1 341.8h0M104.9 344.2h0M99.4 348.6h0M94.4 351.8h0M104.2 351.9h0M84.7 357.2h0M79.7 363.3h0M85.7 366.6h0M103.9 367.2h0M176.9 326.7h0M136.4 349.1h0M136.3 357.2h0M136.3 345.3h0M112.0 358.4h0M140.4 336.5h0M125.8 369.2h0M186.5 350.6h0M145.8 349.8h0M155.1 350.9h0M166.9 361.3h0M251.3 334.5h0M247.3 348.1h0M220.3 352.0h0M292.9 351.1h0M239.8 357.0h0M239.7 362.4h0M251.1 361.4h0M373.3 320.2h0M367.8 352.0h0M416.6 343.6h0M410.6 351.9h0M415.3 353.7h0M406.7 364.1h0M381.8 363.2h0M435.1 364.1h0M444.9 364.2h0M476.2 363.9h0M496.9 365.1h0M510.1 359.8h0M513.9 363.0h0M545.0 363.0h0M576.8 371.6h0M586.2 371.1h0M596.4 370.4h0M607.3 370.5h0M660.1 370.6h0M592.0 371.8h0M612.2 373.2h0M616.3 365.6h0M659.0 364.3h0M71.8 556.2h0M90.2 555.4h0M109.2 555.4h0M119.8 555.7h0M167.7 556.2h0M177.1 555.4h0M197.0 556.2h0M205.8 555.3h0M215.1 555.3h0M224.9 555.4h0M234.3 556.5h0M243.8 556.1h0M253.9 555.3h0M263.2 555.9h0M273.2 556.3h0M331.1 555.5h0M350.2 556.4h0M388.9 555.3h0M407.2 555.3h0M416.3 556.5h0M455.5 556.2h0M465.1 555.3h0M561.1 555.8h0M599.8 556.2h0M609.7 555.3h0M77.0 559.5h0M85.0 558.1h0M134.3 559.2h0M229.5 557.9h0M240.2 559.0h0M249.8 558.7h0M268.4 559.5h0M286.6 558.3h0M344.7 557.8h0M422.6 558.1h0M499.1 558.2h0M546.1 559.2h0M584.3 558.2h0M613.7 559.3h0M91.3 562.0h0M100.1 560.7h0M109.3 562.0h0M206.3 561.3h0M224.2 561.2h0M233.8 561.5h0M244.1 561.2h0M253.2 561.5h0M262.8 561.3h0M283.3 562.0h0M339.6 561.5h0M359.2 561.0h0M397.5 560.8h0M408.2 561.1h0M417.2 561.5h0M436.5 561.7h0M455.6 560.9h0M465.7 560.8h0M474.3 560.9h0M493.3 561.7h0M512.4 562.0h0M523.3 560.8h0M533.1 561.9h0M552.1 561.4h0M657.4 561.9h0M88.6 517.4h0M85.2 532.0h0M100.0 535.8h0M89.5 539.5h0M96.2 546.5h0M72.2 547.7h0M85.5 551.3h0M71.0 553.2h0M91.5 554.2h0M72.0 537.9h0M118.5 526.3h0M139.3 527.1h0M129.0 532.6h0M118.1 538.4h0M139.2 538.9h0M119.4 543.4h0M135.4 546.0h0M145.4 528.5h0M161.0 532.3h0M171.6 530.7h0M181.5 530.8h0M166.0 538.5h0M165.3 548.0h0M175.7 547.3h0M186.0 546.8h0M206.6 547.7h0M217.4 548.0h0M238.1 548.3h0M161.3 551.2h0M202.3 551.7h0M231.6 551.5h0M246.1 534.5h0M239.9 540.6h0M263.6 531.7h0M312.1 539.4h0M311.7 548.2h0M274.2 550.8h0M295.3 551.3h0M323.0 540.7h0M327.5 543.2h0M327.7 551.7h0M346.2 527.3h0M427.6 534.5h0M361.4 539.3h0M386.4 542.6h0M418.2 541.9h0M427.5 542.2h0M381.7 546.8h0M366.0 550.2h0M400.2 531.8h0M455.9 535.0h0M429.4 539.3h0M473.0 540.3h0M430.4 546.8h0M441.3 546.8h0M461.5 546.9h0M472.6 547.7h0M466.6 551.7h0M487.1 539.3h0M486.4 548.0h0M515.2 542.6h0M515.1 546.8h0M523.8 533.8h0M525.3 540.2h0M540.6 542.9h0M583.4 543.2h0M545.8 547.6h0M557.0 546.8h0M587.7 547.0h0M540.6 551.5h0M561.8 551.3h0M582.7 550.7h0M646.7 539.2h0M651.3 542.3h0M604.9 548.3h0M637.2 547.6h0M657.4 547.4h0M651.7 551.7h0" stroke="#050a2c" stroke-width="3.8"/><path d="M455.1 187.6h0M105.7 190.8h0M393.2 190.3h0M634.0 190.0h0M196.9 192.8h0M302.7 191.9h0M330.6 191.3h0M426.6 191.6h0M485.1 191.6h0M523.3 191.7h0M561.9 192.8h0M648.4 191.5h0M71.4 157.6h0M86.9 159.4h0M87.6 163.0h0M96.5 164.0h0M90.9 166.5h0M81.7 170.3h0M87.5 173.7h0M101.8 176.3h0M91.9 146.6h0M104.5 148.7h0M119.5 158.3h0M128.9 156.8h0M114.3 166.8h0M203.0 175.8h0M134.8 178.3h0M155.9 177.9h0M217.5 182.9h0M211.2 147.5h0M183.0 150.1h0M171.0 169.0h0M249.8 155.5h0M245.1 164.1h0M278.5 175.4h0M319.4 175.4h0M239.2 177.0h0M333.1 182.9h0M392.8 161.5h0M403.9 161.7h0M345.9 169.7h0M340.2 178.6h0M367.1 168.6h0M404.0 170.8h0M409.4 173.1h0M382.1 174.6h0M414.8 175.6h0M398.5 176.9h0M461.0 171.5h0M497.8 174.7h0M530.3 173.8h0M565.5 174.5h0M550.1 177.1h0M620.8 177.6h0M244.3 372.3h0M321.0 373.2h0M378.0 373.1h0M416.9 373.2h0M445.4 373.0h0M455.4 372.5h0M541.1 372.5h0M561.1 372.7h0M96.3 374.5h0M268.3 375.6h0M374.3 375.4h0M441.3 375.2h0M148.3 376.7h0M206.3 377.7h0M312.0 377.6h0M532.0 376.5h0M638.5 376.4h0M104.6 379.3h0M124.2 380.4h0M191.1 379.7h0M238.8 379.3h0M297.9 379.5h0M306.2 379.4h0M536.8 379.4h0M147.7 381.6h0M512.4 381.9h0M637.5 381.9h0M648.0 381.4h0M435.6 366.3h0M518.8 367.2h0M591.5 366.3h0M190.5 371.2h0M295.7 371.1h0M305.2 370.3h0M544.9 371.2h0M587.2 371.2h0M629.1 370.8h0M88.5 319.4h0M94.9 323.2h0M81.3 323.5h0M91.8 323.4h0M86.3 325.9h0M81.7 327.3h0M75.5 330.2h0M85.5 329.5h0M105.1 329.8h0M79.6 331.1h0M75.0 333.5h0M94.9 334.8h0M89.1 340.6h0M74.4 343.2h0M95.3 342.9h0M105.1 345.8h0M79.7 348.4h0M89.7 348.7h0M75.4 352.0h0M79.9 358.3h0M103.9 362.3h0M100.4 363.7h0M187.7 326.5h0M180.8 324.0h0M180.0 329.8h0M109.7 354.5h0M130.3 354.3h0M114.3 358.0h0M120.0 360.4h0M166.8 349.7h0M177.9 348.8h0M112.8 352.0h0M161.3 352.8h0M172.7 352.0h0M118.8 355.6h0M154.5 355.1h0M118.1 361.1h0M154.7 362.3h0M124.6 364.2h0M199.6 350.1h0M161.6 353.3h0M145.2 355.9h0M155.0 361.3h0M150.1 363.2h0M161.4 364.2h0M177.3 360.1h0M281.0 335.1h0M195.3 348.7h0M256.6 348.7h0M308.5 348.2h0M330.2 349.0h0M232.1 351.7h0M272.8 352.2h0M270.3 355.8h0M306.6 355.9h0M249.7 353.1h0M244.5 354.8h0M392.5 306.9h0M376.4 346.0h0M338.4 350.7h0M406.0 339.1h0M410.3 341.7h0M421.0 340.5h0M419.8 350.8h0M411.6 356.9h0M376.4 354.2h0M567.2 362.9h0M638.6 370.8h0M622.2 373.2h0M632.5 365.7h0M642.8 366.4h0M186.7 555.9h0M311.5 556.8h0M551.0 556.1h0M589.7 555.3h0M638.0 556.8h0M172.1 559.5h0M258.0 559.1h0M277.9 558.8h0M479.9 558.5h0M488.8 559.4h0M565.9 558.0h0M575.2 558.4h0M633.1 558.4h0M273.2 562.0h0M369.0 560.9h0M599.9 561.8h0M77.7 518.2h0M99.1 517.8h0M93.7 520.4h0M78.1 523.3h0M84.3 525.3h0M95.9 537.0h0M78.4 540.1h0M108.7 526.7h0M113.1 529.3h0M124.2 530.5h0M135.5 530.2h0M119.5 532.0h0M113.3 541.6h0M129.3 542.7h0M154.8 528.5h0M165.7 528.0h0M176.5 528.4h0M186.9 529.0h0M150.6 531.6h0M166.8 534.1h0M144.4 538.3h0M170.6 550.5h0M191.5 550.2h0M212.4 551.5h0M251.3 523.8h0M245.9 525.2h0M239.9 528.2h0M252.1 532.0h0M252.1 539.3h0M246.5 550.8h0M259.9 529.8h0M296.1 532.1h0M281.1 535.7h0M302.2 539.3h0M264.5 551.7h0M367.3 527.3h0M350.8 530.7h0M362.0 529.5h0M345.4 532.7h0M355.8 532.6h0M367.6 532.6h0M349.4 532.8h0M370.7 532.8h0M422.3 534.2h0M346.0 535.7h0M365.9 534.8h0M421.6 540.2h0M407.3 542.9h0M350.1 547.1h0M411.3 548.1h0M419.4 532.2h0M440.5 531.7h0M461.8 531.0h0M473.4 532.2h0M467.3 535.5h0M440.0 540.4h0M461.8 539.5h0M467.8 542.0h0M522.7 528.0h0M535.6 540.5h0M587.5 540.6h0" stroke="#02030e" stroke-width="5.0"/><path d="M455.1 187.6h0M105.7 190.8h0M393.2 190.3h0M634.0 190.0h0M196.9 192.8h0M302.7 191.9h0M330.6 191.3h0M426.6 191.6h0M485.1 191.6h0M523.3 191.7h0M561.9 192.8h0M648.4 191.5h0M71.4 157.6h0M86.9 159.4h0M87.6 163.0h0M96.5 164.0h0M90.9 166.5h0M81.7 170.3h0M87.5 173.7h0M101.8 176.3h0M91.9 146.6h0M104.5 148.7h0M119.5 158.3h0M128.9 156.8h0M114.3 166.8h0M203.0 175.8h0M134.8 178.3h0M155.9 177.9h0M217.5 182.9h0M211.2 147.5h0M183.0 150.1h0M171.0 169.0h0M249.8 155.5h0M245.1 164.1h0M278.5 175.4h0M319.4 175.4h0M239.2 177.0h0M333.1 182.9h0M392.8 161.5h0M403.9 161.7h0M345.9 169.7h0M340.2 178.6h0M367.1 168.6h0M404.0 170.8h0M409.4 173.1h0M382.1 174.6h0M414.8 175.6h0M398.5 176.9h0M461.0 171.5h0M497.8 174.7h0M530.3 173.8h0M565.5 174.5h0M550.1 177.1h0M620.8 177.6h0M244.3 372.3h0M321.0 373.2h0M378.0 373.1h0M416.9 373.2h0M445.4 373.0h0M455.4 372.5h0M541.1 372.5h0M561.1 372.7h0M96.3 374.5h0M268.3 375.6h0M374.3 375.4h0M441.3 375.2h0M148.3 376.7h0M206.3 377.7h0M312.0 377.6h0M532.0 376.5h0M638.5 376.4h0M104.6 379.3h0M124.2 380.4h0M191.1 379.7h0M238.8 379.3h0M297.9 379.5h0M306.2 379.4h0M536.8 379.4h0M147.7 381.6h0M512.4 381.9h0M637.5 381.9h0M648.0 381.4h0M435.6 366.3h0M518.8 367.2h0M591.5 366.3h0M190.5 371.2h0M295.7 371.1h0M305.2 370.3h0M544.9 371.2h0M587.2 371.2h0M629.1 370.8h0M88.5 319.4h0M94.9 323.2h0M81.3 323.5h0M91.8 323.4h0M86.3 325.9h0M81.7 327.3h0M75.5 330.2h0M85.5 329.5h0M105.1 329.8h0M79.6 331.1h0M75.0 333.5h0M94.9 334.8h0M89.1 340.6h0M74.4 343.2h0M95.3 342.9h0M105.1 345.8h0M79.7 348.4h0M89.7 348.7h0M75.4 352.0h0M79.9 358.3h0M103.9 362.3h0M100.4 363.7h0M187.7 326.5h0M180.8 324.0h0M180.0 329.8h0M109.7 354.5h0M130.3 354.3h0M114.3 358.0h0M120.0 360.4h0M166.8 349.7h0M177.9 348.8h0M112.8 352.0h0M161.3 352.8h0M172.7 352.0h0M118.8 355.6h0M154.5 355.1h0M118.1 361.1h0M154.7 362.3h0M124.6 364.2h0M199.6 350.1h0M161.6 353.3h0M145.2 355.9h0M155.0 361.3h0M150.1 363.2h0M161.4 364.2h0M177.3 360.1h0M281.0 335.1h0M195.3 348.7h0M256.6 348.7h0M308.5 348.2h0M330.2 349.0h0M232.1 351.7h0M272.8 352.2h0M270.3 355.8h0M306.6 355.9h0M249.7 353.1h0M244.5 354.8h0M392.5 306.9h0M376.4 346.0h0M338.4 350.7h0M406.0 339.1h0M410.3 341.7h0M421.0 340.5h0M419.8 350.8h0M411.6 356.9h0M376.4 354.2h0M567.2 362.9h0M638.6 370.8h0M622.2 373.2h0M632.5 365.7h0M642.8 366.4h0M186.7 555.9h0M311.5 556.8h0M551.0 556.1h0M589.7 555.3h0M638.0 556.8h0M172.1 559.5h0M258.0 559.1h0M277.9 558.8h0M479.9 558.5h0M488.8 559.4h0M565.9 558.0h0M575.2 558.4h0M633.1 558.4h0M273.2 562.0h0M369.0 560.9h0M599.9 561.8h0M77.7 518.2h0M99.1 517.8h0M93.7 520.4h0M78.1 523.3h0M84.3 525.3h0M95.9 537.0h0M78.4 540.1h0M108.7 526.7h0M113.1 529.3h0M124.2 530.5h0M135.5 530.2h0M119.5 532.0h0M113.3 541.6h0M129.3 542.7h0M154.8 528.5h0M165.7 528.0h0M176.5 528.4h0M186.9 529.0h0M150.6 531.6h0M166.8 534.1h0M144.4 538.3h0M170.6 550.5h0M191.5 550.2h0M212.4 551.5h0M251.3 523.8h0M245.9 525.2h0M239.9 528.2h0M252.1 532.0h0M252.1 539.3h0M246.5 550.8h0M259.9 529.8h0M296.1 532.1h0M281.1 535.7h0M302.2 539.3h0M264.5 551.7h0M367.3 527.3h0M350.8 530.7h0M362.0 529.5h0M345.4 532.7h0M355.8 532.6h0M367.6 532.6h0M349.4 532.8h0M370.7 532.8h0M422.3 534.2h0M346.0 535.7h0M365.9 534.8h0M421.6 540.2h0M407.3 542.9h0M350.1 547.1h0M411.3 548.1h0M419.4 532.2h0M440.5 531.7h0M461.8 531.0h0M473.4 532.2h0M467.3 535.5h0M440.0 540.4h0M461.8 539.5h0M467.8 542.0h0M522.7 528.0h0M535.6 540.5h0M587.5 540.6h0" stroke="#070e3c" stroke-width="3.8"/><path d="M80.2 150.9h0M92.1 151.3h0M100.7 151.3h0M85.6 153.8h0M96.8 152.7h0M101.1 146.3h0M109.8 147.4h0M213.7 176.5h0M230.3 177.8h0M181.5 147.0h0M191.8 147.7h0M201.4 147.0h0M228.5 147.3h0M189.5 159.4h0M147.0 159.4h0M265.4 166.2h0M290.7 166.5h0M302.8 166.0h0M300.7 168.5h0M251.7 178.7h0M404.0 167.7h0M356.7 170.8h0M339.9 172.5h0M346.4 175.3h0M424.9 174.5h0M492.4 171.3h0M503.8 172.5h0M534.8 171.8h0M630.9 178.0h0M466.8 366.6h0M103.0 323.7h0M90.1 331.8h0M99.7 331.5h0M99.4 336.8h0M85.0 339.6h0M85.2 344.1h0M74.7 347.0h0M75.6 356.5h0M95.0 357.0h0M125.5 327.2h0M135.5 326.6h0M145.9 326.9h0M155.1 326.8h0M166.3 327.3h0M170.0 323.7h0M121.0 355.1h0M110.5 360.2h0M140.9 359.8h0M166.4 355.2h0M124.1 358.7h0M111.7 364.6h0M152.0 342.6h0M173.9 335.1h0M167.1 350.2h0M167.1 354.9h0M253.4 326.6h0M266.0 326.7h0M292.9 335.7h0M308.9 334.9h0M206.1 348.7h0M277.6 347.9h0M288.8 348.4h0M209.8 352.2h0M262.7 351.9h0M283.2 350.8h0M304.5 351.2h0M324.6 350.7h0M335.3 351.7h0M257.6 355.9h0M250.5 357.6h0M349.8 351.5h0M415.3 339.1h0M405.5 344.0h0M416.2 348.8h0M406.5 358.3h0M415.7 358.9h0M381.8 351.5h0M382.5 356.9h0M456.7 364.4h0M649.1 365.6h0M82.8 520.2h0M88.2 522.7h0M98.6 522.0h0M92.7 525.9h0M78.3 527.3h0M90.4 530.4h0M91.3 543.3h0M129.4 527.4h0M107.3 532.3h0M140.1 531.9h0M108.0 539.3h0M144.8 535.2h0M156.0 534.8h0M188.0 534.7h0M188.1 538.8h0M226.6 547.5h0M156.1 539.8h0M280.1 530.2h0M312.5 529.8h0M274.6 532.3h0M286.3 532.5h0M291.2 540.4h0M322.5 534.8h0M334.0 533.8h0M338.3 543.2h0M372.2 529.5h0M360.1 533.4h0M381.5 533.7h0M402.4 533.0h0M376.2 535.6h0M387.1 535.6h0M396.5 534.4h0M339.2 540.6h0M391.8 540.1h0M402.1 539.5h0M409.1 531.6h0M435.5 534.9h0M446.5 534.9h0M477.6 534.9h0M486.5 532.3h0M515.2 535.8h0M504.2 542.7h0M532.7 535.1h0M561.7 536.4h0M556.4 540.9h0M577.0 540.5h0M657.6 539.6h0M641.8 541.9h0" stroke="#030514" stroke-width="5.0"/><path d="M80.2 150.9h0M92.1 151.3h0M100.7 151.3h0M85.6 153.8h0M96.8 152.7h0M101.1 146.3h0M109.8 147.4h0M213.7 176.5h0M230.3 177.8h0M181.5 147.0h0M191.8 147.7h0M201.4 147.0h0M228.5 147.3h0M189.5 159.4h0M147.0 159.4h0M265.4 166.2h0M290.7 166.5h0M302.8 166.0h0M300.7 168.5h0M251.7 178.7h0M404.0 167.7h0M356.7 170.8h0M339.9 172.5h0M346.4 175.3h0M424.9 174.5h0M492.4 171.3h0M503.8 172.5h0M534.8 171.8h0M630.9 178.0h0M466.8 366.6h0M103.0 323.7h0M90.1 331.8h0M99.7 331.5h0M99.4 336.8h0M85.0 339.6h0M85.2 344.1h0M74.7 347.0h0M75.6 356.5h0M95.0 357.0h0M125.5 327.2h0M135.5 326.6h0M145.9 326.9h0M155.1 326.8h0M166.3 327.3h0M170.0 323.7h0M121.0 355.1h0M110.5 360.2h0M140.9 359.8h0M166.4 355.2h0M124.1 358.7h0M111.7 364.6h0M152.0 342.6h0M173.9 335.1h0M167.1 350.2h0M167.1 354.9h0M253.4 326.6h0M266.0 326.7h0M292.9 335.7h0M308.9 334.9h0M206.1 348.7h0M277.6 347.9h0M288.8 348.4h0M209.8 352.2h0M262.7 351.9h0M283.2 350.8h0M304.5 351.2h0M324.6 350.7h0M335.3 351.7h0M257.6 355.9h0M250.5 357.6h0M349.8 351.5h0M415.3 339.1h0M405.5 344.0h0M416.2 348.8h0M406.5 358.3h0M415.7 358.9h0M381.8 351.5h0M382.5 356.9h0M456.7 364.4h0M649.1 365.6h0M82.8 520.2h0M88.2 522.7h0M98.6 522.0h0M92.7 525.9h0M78.3 527.3h0M90.4 530.4h0M91.3 543.3h0M129.4 527.4h0M107.3 532.3h0M140.1 531.9h0M108.0 539.3h0M144.8 535.2h0M156.0 534.8h0M188.0 534.7h0M188.1 538.8h0M226.6 547.5h0M156.1 539.8h0M280.1 530.2h0M312.5 529.8h0M274.6 532.3h0M286.3 532.5h0M291.2 540.4h0M322.5 534.8h0M334.0 533.8h0M338.3 543.2h0M372.2 529.5h0M360.1 533.4h0M381.5 533.7h0M402.4 533.0h0M376.2 535.6h0M387.1 535.6h0M396.5 534.4h0M339.2 540.6h0M391.8 540.1h0M402.1 539.5h0M409.1 531.6h0M435.5 534.9h0M446.5 534.9h0M477.6 534.9h0M486.5 532.3h0M515.2 535.8h0M504.2 542.7h0M532.7 535.1h0M561.7 536.4h0M556.4 540.9h0M577.0 540.5h0M657.6 539.6h0M641.8 541.9h0" stroke="#0a1550" stroke-width="3.8"/><path d="M92.4 157.8h0M96.4 160.2h0M82.4 166.2h0M95.8 173.0h0M69.7 178.4h0M100.0 148.0h0M139.0 157.9h0M161.8 175.1h0M223.6 176.0h0M100.2 118.2h0M85.1 128.3h0M85.1 138.9h0M138.8 143.1h0M147.0 147.4h0M171.0 116.2h0M180.4 118.7h0M190.0 141.9h0M170.2 147.6h0M150.0 147.3h0M181.8 168.7h0M267.0 175.5h0M345.6 169.5h0M387.8 168.5h0M404.7 174.8h0M430.5 171.6h0M483.3 171.8h0M435.0 150.1h0M448.9 149.7h0M461.7 150.0h0M474.9 149.8h0M456.1 164.6h0M484.0 153.5h0M495.8 150.9h0M507.4 156.3h0M491.6 165.3h0M503.8 164.5h0M517.0 164.6h0M549.5 159.1h0M522.8 164.5h0M535.0 164.4h0M547.7 164.4h0M559.6 164.3h0M571.2 164.4h0M586.4 173.6h0M658.8 169.1h0M104.1 357.4h0M99.9 359.9h0M85.1 361.6h0M114.5 326.6h0M153.7 342.6h0M154.1 349.1h0M181.2 348.6h0M226.8 350.2h0M138.6 300.8h0M164.9 297.4h0M92.7 300.9h0M92.7 305.4h0M92.7 311.6h0M68.2 326.9h0M176.8 294.4h0M297.7 321.4h0M268.4 334.8h0M236.8 348.9h0M266.8 349.0h0M299.1 348.2h0M320.3 347.9h0M200.4 350.8h0M246.1 356.3h0M282.9 356.4h0M246.1 360.2h0M344.3 360.0h0M420.4 346.2h0M425.2 364.4h0M538.8 307.4h0M559.0 307.0h0M522.5 313.0h0M497.7 312.5h0M511.7 313.2h0M531.7 313.3h0M542.8 312.9h0M522.9 330.3h0M539.4 330.5h0M595.3 330.6h0M527.8 347.0h0M512.7 350.1h0M540.0 350.8h0M543.6 357.4h0M586.8 362.5h0M629.5 320.3h0M656.0 320.3h0M623.3 365.9h0M94.6 507.2h0M101.1 530.4h0M94.5 533.6h0M83.6 541.9h0M77.1 545.7h0M139.1 543.3h0M120.9 503.8h0M132.8 504.1h0M120.8 515.0h0M131.9 525.0h0M228.6 510.1h0M174.1 519.3h0M174.1 525.3h0M187.0 524.6h0M226.8 525.4h0M239.1 525.1h0M209.7 534.2h0M221.7 533.5h0M231.7 533.9h0M150.7 542.9h0M245.7 530.2h0M241.1 532.7h0M290.0 529.7h0M306.5 532.2h0M301.8 535.7h0M332.9 540.2h0M340.6 533.7h0M392.4 533.4h0M411.6 532.8h0M416.5 534.6h0M371.8 540.0h0M451.2 528.6h0M496.0 522.7h0M495.0 528.2h0M506.7 528.1h0M517.2 528.8h0M436.2 543.0h0M557.1 504.0h0M541.4 517.6h0M532.5 522.0h0M561.2 524.2h0M567.1 529.8h0M527.7 529.8h0M573.7 534.5h0M584.6 534.5h0M595.8 534.2h0M529.0 537.4h0M566.0 539.0h0M566.6 548.1h0M625.9 547.1h0M597.4 529.5h0M593.0 534.8h0" stroke="#070d40" stroke-width="5.0"/><path d="M92.4 157.8h0M96.4 160.2h0M82.4 166.2h0M95.8 173.0h0M69.7 178.4h0M100.0 148.0h0M139.0 157.9h0M161.8 175.1h0M223.6 176.0h0M100.2 118.2h0M85.1 128.3h0M85.1 138.9h0M138.8 143.1h0M147.0 147.4h0M171.0 116.2h0M180.4 118.7h0M190.0 141.9h0M170.2 147.6h0M150.0 147.3h0M181.8 168.7h0M267.0 175.5h0M345.6 169.5h0M387.8 168.5h0M404.7 174.8h0M430.5 171.6h0M483.3 171.8h0M435.0 150.1h0M448.9 149.7h0M461.7 150.0h0M474.9 149.8h0M456.1 164.6h0M484.0 153.5h0M495.8 150.9h0M507.4 156.3h0M491.6 165.3h0M503.8 164.5h0M517.0 164.6h0M549.5 159.1h0M522.8 164.5h0M535.0 164.4h0M547.7 164.4h0M559.6 164.3h0M571.2 164.4h0M586.4 173.6h0M658.8 169.1h0M104.1 357.4h0M99.9 359.9h0M85.1 361.6h0M114.5 326.6h0M153.7 342.6h0M154.1 349.1h0M181.2 348.6h0M226.8 350.2h0M138.6 300.8h0M164.9 297.4h0M92.7 300.9h0M92.7 305.4h0M92.7 311.6h0M68.2 326.9h0M176.8 294.4h0M297.7 321.4h0M268.4 334.8h0M236.8 348.9h0M266.8 349.0h0M299.1 348.2h0M320.3 347.9h0M200.4 350.8h0M246.1 356.3h0M282.9 356.4h0M246.1 360.2h0M344.3 360.0h0M420.4 346.2h0M425.2 364.4h0M538.8 307.4h0M559.0 307.0h0M522.5 313.0h0M497.7 312.5h0M511.7 313.2h0M531.7 313.3h0M542.8 312.9h0M522.9 330.3h0M539.4 330.5h0M595.3 330.6h0M527.8 347.0h0M512.7 350.1h0M540.0 350.8h0M543.6 357.4h0M586.8 362.5h0M629.5 320.3h0M656.0 320.3h0M623.3 365.9h0M94.6 507.2h0M101.1 530.4h0M94.5 533.6h0M83.6 541.9h0M77.1 545.7h0M139.1 543.3h0M120.9 503.8h0M132.8 504.1h0M120.8 515.0h0M131.9 525.0h0M228.6 510.1h0M174.1 519.3h0M174.1 525.3h0M187.0 524.6h0M226.8 525.4h0M239.1 525.1h0M209.7 534.2h0M221.7 533.5h0M231.7 533.9h0M150.7 542.9h0M245.7 530.2h0M241.1 532.7h0M290.0 529.7h0M306.5 532.2h0M301.8 535.7h0M332.9 540.2h0M340.6 533.7h0M392.4 533.4h0M411.6 532.8h0M416.5 534.6h0M371.8 540.0h0M451.2 528.6h0M496.0 522.7h0M495.0 528.2h0M506.7 528.1h0M517.2 528.8h0M436.2 543.0h0M557.1 504.0h0M541.4 517.6h0M532.5 522.0h0M561.2 524.2h0M567.1 529.8h0M527.7 529.8h0M573.7 534.5h0M584.6 534.5h0M595.8 534.2h0M529.0 537.4h0M566.0 539.0h0M566.6 548.1h0M625.9 547.1h0M597.4 529.5h0M593.0 534.8h0" stroke="#0c1664" stroke-width="3.8"/><path d="M404.6 137.7h0M421.0 129.9h0M419.4 163.8h0M418.3 131.8h0M442.2 130.8h0M454.8 131.3h0M417.9 137.3h0M441.2 136.7h0M453.0 135.8h0M463.3 135.8h0M476.1 136.8h0M487.1 137.2h0M424.8 138.8h0M436.1 138.7h0M446.9 139.4h0M458.2 138.6h0M469.0 140.4h0M481.4 138.6h0M417.5 142.6h0M429.6 142.1h0M441.0 143.2h0M453.2 141.9h0M464.4 141.9h0M475.0 141.9h0M485.8 143.2h0M507.7 139.8h0M521.1 140.2h0M513.1 117.5h0M421.5 316.0h0M419.3 322.8h0M420.2 360.6h0M435.2 305.1h0M447.1 303.6h0M458.3 303.7h0M479.7 303.6h0M440.1 301.6h0M467.7 302.3h0M425.1 316.5h0M436.5 317.2h0M447.3 315.7h0M458.0 316.0h0M469.0 316.9h0M471.5 313.4h0M490.7 319.8h0M415.5 322.8h0M436.8 337.6h0M482.5 346.0h0M455.8 353.7h0M436.0 360.6h0M471.6 360.2h0M483.9 360.0h0M513.6 275.2h0M549.5 347.1h0M610.6 344.9h0M189.3 487.2h0M198.0 507.5h0M207.9 508.0h0M219.6 507.7h0M230.1 507.6h0M198.6 512.4h0M219.3 513.3h0M230.8 512.3h0M222.0 515.0h0M235.0 504.6h0M239.0 513.4h0M322.5 505.2h0M319.7 514.1h0M310.2 519.2h0M323.3 529.4h0M366.1 491.0h0M360.9 500.6h0M385.5 473.1h0M403.1 485.6h0M374.5 520.5h0M399.2 527.4h0M366.0 499.0h0M360.2 508.1h0M370.4 509.2h0M366.6 511.2h0M360.9 515.1h0M370.9 515.0h0M392.3 477.0h0M402.1 477.2h0" stroke="#0a1a5a" stroke-width="5.0"/><path d="M404.6 137.7h0M421.0 129.9h0M419.4 163.8h0M418.3 131.8h0M442.2 130.8h0M454.8 131.3h0M417.9 137.3h0M441.2 136.7h0M453.0 135.8h0M463.3 135.8h0M476.1 136.8h0M487.1 137.2h0M424.8 138.8h0M436.1 138.7h0M446.9 139.4h0M458.2 138.6h0M469.0 140.4h0M481.4 138.6h0M417.5 142.6h0M429.6 142.1h0M441.0 143.2h0M453.2 141.9h0M464.4 141.9h0M475.0 141.9h0M485.8 143.2h0M507.7 139.8h0M521.1 140.2h0M513.1 117.5h0M421.5 316.0h0M419.3 322.8h0M420.2 360.6h0M435.2 305.1h0M447.1 303.6h0M458.3 303.7h0M479.7 303.6h0M440.1 301.6h0M467.7 302.3h0M425.1 316.5h0M436.5 317.2h0M447.3 315.7h0M458.0 316.0h0M469.0 316.9h0M471.5 313.4h0M490.7 319.8h0M415.5 322.8h0M436.8 337.6h0M482.5 346.0h0M455.8 353.7h0M436.0 360.6h0M471.6 360.2h0M483.9 360.0h0M513.6 275.2h0M549.5 347.1h0M610.6 344.9h0M189.3 487.2h0M198.0 507.5h0M207.9 508.0h0M219.6 507.7h0M230.1 507.6h0M198.6 512.4h0M219.3 513.3h0M230.8 512.3h0M222.0 515.0h0M235.0 504.6h0M239.0 513.4h0M322.5 505.2h0M319.7 514.1h0M310.2 519.2h0M323.3 529.4h0M366.1 491.0h0M360.9 500.6h0M385.5 473.1h0M403.1 485.6h0M374.5 520.5h0M399.2 527.4h0M366.0 499.0h0M360.2 508.1h0M370.4 509.2h0M366.6 511.2h0M360.9 515.1h0M370.9 515.0h0M392.3 477.0h0M402.1 477.2h0" stroke="#0f2478" stroke-width="3.8"/><path d="M93.7 188.3h0M112.9 187.3h0M130.8 187.6h0M140.3 187.6h0M151.1 187.6h0M160.6 188.7h0M170.6 188.5h0M178.8 187.3h0M188.5 187.5h0M208.1 188.1h0M217.2 187.3h0M228.3 187.7h0M255.7 187.6h0M266.5 187.7h0M284.9 187.9h0M294.4 188.8h0M304.6 187.4h0M313.4 187.3h0M322.6 187.3h0M341.8 187.3h0M380.4 187.6h0M390.2 187.5h0M439.5 187.9h0M466.7 187.3h0M486.4 187.6h0M495.6 187.3h0M535.1 187.7h0M543.8 188.3h0M562.8 188.7h0M592.2 188.7h0M621.0 188.4h0M631.1 187.6h0M639.9 188.1h0M649.7 188.2h0M659.9 188.5h0M97.5 189.4h0M155.8 190.7h0M164.5 190.3h0M193.1 190.2h0M212.9 189.5h0M233.0 190.7h0M242.6 190.6h0M251.4 189.3h0M280.5 190.6h0M299.7 190.8h0M319.1 189.5h0M327.9 190.5h0M338.0 189.7h0M346.6 189.6h0M366.7 190.2h0M376.3 189.2h0M386.0 190.7h0M413.9 190.8h0M424.7 190.1h0M433.9 189.7h0M444.1 189.8h0M463.4 189.6h0M492.1 190.8h0M502.0 190.8h0M520.0 190.3h0M548.5 189.8h0M567.8 189.7h0M578.0 190.9h0M606.4 190.4h0M615.7 189.5h0M636.0 189.5h0M644.9 189.6h0M654.6 190.9h0M73.5 192.0h0M93.4 191.4h0M103.1 191.8h0M122.4 191.8h0M140.6 191.9h0M159.8 191.7h0M180.3 191.5h0M188.4 191.8h0M208.3 192.3h0M217.1 192.0h0M247.4 192.5h0M256.8 192.8h0M275.1 191.8h0M294.2 191.9h0M314.5 192.5h0M342.4 192.6h0M361.1 192.7h0M381.7 191.8h0M399.5 192.2h0M409.9 192.8h0M448.7 192.2h0M458.5 192.8h0M467.3 192.2h0M487.0 191.9h0M515.4 191.4h0M524.8 192.3h0M534.0 192.4h0M554.8 192.0h0M563.3 192.7h0M574.0 192.5h0M592.3 191.6h0M611.8 192.8h0M620.5 191.7h0M650.6 191.7h0M68.8 160.2h0M89.7 163.7h0M79.4 168.6h0M74.0 170.7h0M73.9 176.6h0M74.7 181.9h0M83.8 180.6h0M95.0 181.4h0M88.8 184.1h0M99.1 184.0h0M132.1 157.8h0M118.2 167.1h0M134.0 166.9h0M110.8 176.2h0M163.8 175.7h0M206.4 175.8h0M215.8 175.6h0M226.3 175.1h0M106.9 178.7h0M117.6 178.7h0M159.4 178.5h0M170.1 178.2h0M179.2 179.2h0M190.1 179.2h0M212.1 179.2h0M222.2 178.8h0M136.4 184.1h0M159.5 184.1h0M171.8 183.3h0M219.1 182.8h0M213.9 146.9h0M173.3 168.7h0M255.5 166.7h0M293.5 166.6h0M256.5 169.1h0M268.2 168.4h0M259.5 175.4h0M269.6 174.5h0M301.7 174.3h0M311.2 174.7h0M244.3 179.2h0M264.5 179.2h0M275.7 179.0h0M285.7 179.2h0M242.9 182.5h0M272.8 182.4h0M324.6 183.1h0M338.2 170.2h0M343.0 173.5h0M343.5 178.3h0M353.7 178.1h0M369.0 167.7h0M400.9 167.8h0M406.9 169.4h0M416.6 171.1h0M427.8 170.5h0M411.3 173.3h0M375.0 175.4h0M406.6 174.5h0M369.5 177.7h0M380.3 177.7h0M337.7 182.0h0M400.1 182.4h0M437.5 174.0h0M459.4 174.2h0M522.3 173.8h0M432.1 177.2h0M463.3 177.7h0M496.5 177.7h0M500.0 182.5h0M547.4 173.8h0M557.7 174.2h0M585.1 176.5h0M594.7 177.0h0M547.7 179.6h0M590.5 179.7h0M606.7 175.1h0M627.8 176.5h0M638.2 175.1h0M602.7 178.2h0M622.6 177.4h0M655.0 177.3h0M73.7 373.1h0M92.8 372.8h0M102.2 372.2h0M111.4 373.1h0M131.4 372.3h0M141.2 372.0h0M160.9 372.0h0M169.3 372.5h0M179.7 372.7h0M197.8 372.1h0M217.9 372.1h0M236.2 372.5h0M265.4 372.2h0M285.6 372.4h0M294.7 372.8h0M304.9 372.4h0M313.2 373.2h0M323.0 372.4h0M342.6 372.3h0M371.4 372.5h0M381.2 372.3h0M400.1 373.1h0M410.5 373.1h0M420.3 371.9h0M438.2 372.5h0M457.7 373.1h0M467.3 372.8h0M476.6 371.9h0M485.9 373.3h0M495.6 371.9h0M525.1 372.7h0M534.6 373.1h0M545.0 372.7h0M554.0 372.1h0M564.1 372.0h0M572.5 371.9h0M582.7 372.6h0M602.9 372.8h0M630.6 371.9h0M650.4 372.4h0M97.1 374.8h0M106.6 374.0h0M116.1 375.5h0M164.8 374.3h0M173.9 375.5h0M184.2 375.3h0M203.5 374.0h0M231.6 374.8h0M241.7 374.3h0M261.2 375.6h0M270.2 375.4h0M289.5 375.7h0M299.1 374.8h0M318.4 375.6h0M328.0 375.0h0M337.9 374.2h0M357.1 374.3h0M367.4 374.5h0M376.9 374.6h0M386.1 374.2h0M405.5 375.0h0M443.2 374.6h0M452.9 374.0h0M462.2 374.6h0M471.5 374.2h0M481.4 375.5h0M520.5 375.0h0M558.3 375.4h0M626.8 374.1h0M646.0 374.3h0M83.6 376.7h0M92.7 377.6h0M121.8 377.4h0M159.8 377.7h0M169.1 377.2h0M217.0 376.8h0M227.6 377.3h0M246.3 376.9h0M265.9 377.2h0M275.3 377.6h0M284.6 377.7h0M295.3 376.8h0M304.4 377.0h0M313.1 377.1h0M342.0 376.9h0M370.7 376.4h0M410.0 377.2h0M420.1 377.5h0M429.0 377.6h0M448.8 377.5h0M458.8 377.4h0M466.9 376.3h0M477.5 377.3h0M486.1 376.5h0M495.7 376.4h0M515.8 377.5h0M524.9 377.7h0M554.2 378.0h0M563.8 376.8h0M573.8 376.3h0M611.6 377.0h0M630.1 376.5h0M649.6 377.0h0M87.9 379.6h0M97.2 379.2h0M117.2 380.1h0M135.9 379.8h0M145.2 379.3h0M155.9 379.2h0M164.9 379.7h0M173.8 379.7h0M183.5 379.7h0M193.6 380.2h0M204.1 380.1h0M212.5 380.3h0M222.4 379.9h0M261.2 379.1h0M279.8 379.8h0M309.4 379.9h0M327.8 378.9h0M347.9 379.9h0M357.3 380.1h0M375.4 379.2h0M386.7 378.8h0M405.8 379.2h0M452.6 378.7h0M482.6 379.5h0M491.4 378.9h0M501.9 380.1h0M511.0 380.2h0M520.0 380.3h0M530.3 379.7h0M548.5 378.9h0M587.2 379.5h0M597.7 379.5h0M615.8 380.2h0M625.9 378.9h0M654.6 379.6h0M82.9 381.6h0M102.3 381.1h0M111.9 382.5h0M131.0 382.5h0M151.2 382.5h0M161.1 381.5h0M169.4 381.6h0M188.3 382.0h0M198.1 381.4h0M227.2 382.1h0M237.0 381.5h0M256.1 381.8h0M266.4 382.5h0M276.1 382.5h0M284.5 382.5h0M333.8 381.7h0M371.8 381.6h0M380.8 382.5h0M391.5 381.4h0M420.3 382.1h0M438.2 382.0h0M467.8 382.4h0M486.0 382.5h0M496.2 381.1h0M505.4 382.2h0M524.8 381.7h0M535.0 382.5h0M545.2 381.8h0M574.1 382.3h0M592.6 381.3h0M601.1 381.6h0M611.0 381.4h0M630.9 381.9h0M640.4 381.6h0M649.9 381.6h0M660.0 382.5h0M74.3 366.7h0M126.5 366.5h0M157.9 366.4h0M188.3 366.3h0M251.3 367.5h0M292.5 366.6h0M302.9 367.5h0M323.1 366.7h0M355.2 366.6h0M376.9 366.3h0M439.1 367.6h0M448.6 366.3h0M501.6 367.5h0M511.0 366.5h0M521.0 366.6h0M553.3 366.7h0M605.3 366.8h0M615.3 366.4h0M625.2 367.6h0M635.7 366.3h0M142.6 370.7h0M172.8 369.8h0M204.0 369.9h0M225.0 369.9h0M236.1 369.9h0M245.7 371.2h0M256.1 370.9h0M287.9 370.1h0M298.7 371.2h0M319.1 369.7h0M328.8 370.3h0M349.9 370.3h0M359.9 370.5h0M402.5 369.9h0M443.9 370.2h0M464.2 371.2h0M485.3 370.6h0M538.1 370.3h0M620.4 370.7h0M631.6 371.2h0M651.9 370.1h0M97.4 357.0h0M101.4 358.2h0M117.1 326.9h0M182.5 323.4h0M177.3 325.8h0M189.1 326.5h0M138.8 357.0h0M174.9 338.8h0M152.0 348.6h0M231.9 364.0h0M176.6 335.1h0M189.4 350.4h0M147.8 350.3h0M164.7 357.5h0M179.6 360.7h0M305.5 362.3h0M256.1 327.0h0M280.6 348.3h0M301.1 348.9h0M312.5 348.9h0M191.9 352.2h0M203.6 352.2h0M222.7 352.1h0M254.9 352.2h0M274.6 352.0h0M285.9 351.4h0M273.3 356.2h0M247.5 354.6h0M242.6 358.0h0M237.3 359.0h0M248.5 360.2h0M242.7 362.5h0M248.7 364.6h0M395.1 306.6h0M336.0 359.6h0M346.3 359.7h0M414.1 356.1h0M408.4 358.5h0M402.9 361.6h0M413.4 360.5h0M408.4 363.3h0M380.3 355.2h0M374.9 364.0h0M385.7 362.9h0M355.2 360.5h0M468.3 365.1h0M489.9 363.9h0M503.0 361.3h0M512.0 360.2h0M497.3 363.3h0M558.7 363.2h0M609.7 371.3h0M641.8 370.9h0M651.1 371.1h0M573.0 372.9h0M594.4 371.7h0M604.4 372.3h0M615.1 372.6h0M647.2 371.8h0M657.4 373.2h0M613.9 367.1h0M635.6 367.2h0M74.6 555.9h0M92.6 555.5h0M102.1 556.6h0M112.2 555.8h0M121.1 556.3h0M131.6 556.8h0M140.8 556.5h0M159.6 555.8h0M179.1 556.4h0M188.4 555.8h0M208.3 556.7h0M218.0 556.2h0M226.7 555.5h0M236.6 556.1h0M247.2 556.5h0M256.1 555.6h0M266.1 555.3h0M275.1 555.3h0M284.6 556.5h0M294.0 555.7h0M314.5 555.7h0M333.6 556.5h0M351.7 556.7h0M362.7 556.0h0M391.1 556.3h0M399.9 555.8h0M409.5 556.7h0M439.0 555.9h0M448.4 555.3h0M486.5 556.1h0M495.8 556.7h0M505.4 555.7h0M534.8 556.7h0M553.2 555.3h0M564.1 555.3h0M621.8 555.3h0M631.4 555.7h0M641.1 556.2h0M659.7 556.7h0M88.1 557.9h0M107.7 558.2h0M117.4 559.1h0M126.0 559.1h0M135.9 558.8h0M145.8 558.0h0M155.0 559.3h0M173.7 558.6h0M203.3 558.7h0M212.3 558.5h0M232.6 558.6h0M252.1 558.0h0M279.6 558.8h0M289.1 557.9h0M298.6 557.9h0M309.5 558.3h0M318.9 559.4h0M338.5 559.3h0M376.1 558.0h0M385.8 558.0h0M405.5 559.5h0M414.3 558.1h0M425.1 559.5h0M434.4 557.8h0M453.6 559.1h0M471.6 558.3h0M491.3 558.2h0M500.4 559.3h0M520.6 559.5h0M529.5 559.2h0M549.3 558.0h0M558.4 557.8h0M577.2 558.8h0M615.5 557.9h0M625.2 558.0h0M644.7 558.0h0M73.2 561.1h0M83.5 562.0h0M113.0 561.2h0M121.2 562.0h0M132.3 561.5h0M149.9 560.8h0M159.9 561.0h0M170.0 560.9h0M189.3 561.6h0M198.0 562.0h0M246.4 562.0h0M275.4 560.7h0M284.4 560.8h0M294.4 561.0h0M304.4 560.7h0M314.2 562.0h0M324.3 561.7h0M352.9 561.5h0M361.9 560.6h0M390.0 561.2h0M399.7 561.1h0M420.3 561.2h0M439.0 561.6h0M457.3 561.3h0M478.0 560.6h0M487.3 561.2h0M506.0 560.8h0M525.7 562.0h0M534.4 560.6h0M553.6 561.9h0M564.3 561.5h0M572.5 560.6h0M583.4 561.2h0M591.7 560.8h0M621.3 560.9h0M631.4 561.0h0M640.0 560.6h0M650.2 560.5h0M659.5 560.8h0M75.9 537.3h0M98.3 537.8h0M86.3 542.6h0M97.9 541.7h0M93.1 544.1h0M68.6 545.4h0M79.0 546.6h0M88.9 545.6h0M83.5 549.0h0M93.2 548.4h0M68.6 551.4h0M89.3 550.9h0M98.6 550.3h0M74.8 553.1h0M94.2 552.7h0M143.1 538.0h0M116.4 541.4h0M142.3 543.2h0M127.0 546.5h0M110.0 548.7h0M121.5 549.0h0M131.7 547.8h0M142.9 547.6h0M105.2 550.3h0M126.2 550.5h0M168.2 538.2h0M168.7 546.9h0M198.8 547.5h0M209.3 547.7h0M230.2 547.7h0M142.6 550.6h0M153.5 551.5h0M163.3 551.7h0M183.1 550.4h0M204.2 551.1h0M215.0 551.7h0M234.2 551.6h0M141.9 543.4h0M147.6 544.9h0M238.3 541.8h0M237.2 550.6h0M304.1 529.1h0M266.9 532.3h0M293.2 535.7h0M293.7 539.3h0M276.9 542.7h0M299.2 542.3h0M272.4 546.8h0M294.2 547.2h0M304.7 548.0h0M257.2 550.7h0M309.7 551.4h0M336.4 534.8h0M324.3 540.4h0M335.7 539.3h0M319.7 551.7h0M331.1 551.2h0M342.9 530.0h0M363.0 533.8h0M383.1 533.2h0M405.3 534.2h0M415.0 533.1h0M347.7 535.2h0M399.7 534.7h0M409.9 535.2h0M363.2 540.3h0M415.0 539.9h0M337.4 541.9h0M347.7 542.1h0M357.2 543.0h0M400.0 543.2h0M394.1 546.8h0M404.4 547.8h0M424.9 547.6h0M336.9 551.7h0M357.5 550.4h0M399.6 551.1h0M409.1 550.9h0M423.2 531.5h0M470.8 535.5h0M449.1 542.6h0M480.9 541.9h0M454.2 546.8h0M465.5 547.4h0M426.9 551.4h0M460.2 551.2h0M483.4 550.3h0M506.8 542.4h0M496.3 547.8h0M506.5 547.3h0M517.9 548.1h0M491.9 551.5h0M501.8 551.7h0M521.7 550.7h0M525.9 526.8h0M519.9 531.1h0M564.6 535.9h0M560.2 538.2h0M568.5 538.9h0M527.0 540.1h0M560.1 541.0h0M537.4 546.8h0M548.6 548.3h0M590.8 546.8h0M553.3 551.1h0M565.0 550.4h0M574.5 551.4h0M638.8 539.8h0M660.1 538.8h0M603.1 542.1h0M644.4 543.2h0M618.8 547.0h0M624.2 551.7h0M634.0 551.1h0M653.7 550.9h0" stroke="#01020a" stroke-width="5.0"/><path d="M93.7 188.3h0M112.9 187.3h0M130.8 187.6h0M140.3 187.6h0M151.1 187.6h0M160.6 188.7h0M170.6 188.5h0M178.8 187.3h0M188.5 187.5h0M208.1 188.1h0M217.2 187.3h0M228.3 187.7h0M255.7 187.6h0M266.5 187.7h0M284.9 187.9h0M294.4 188.8h0M304.6 187.4h0M313.4 187.3h0M322.6 187.3h0M341.8 187.3h0M380.4 187.6h0M390.2 187.5h0M439.5 187.9h0M466.7 187.3h0M486.4 187.6h0M495.6 187.3h0M535.1 187.7h0M543.8 188.3h0M562.8 188.7h0M592.2 188.7h0M621.0 188.4h0M631.1 187.6h0M639.9 188.1h0M649.7 188.2h0M659.9 188.5h0M97.5 189.4h0M155.8 190.7h0M164.5 190.3h0M193.1 190.2h0M212.9 189.5h0M233.0 190.7h0M242.6 190.6h0M251.4 189.3h0M280.5 190.6h0M299.7 190.8h0M319.1 189.5h0M327.9 190.5h0M338.0 189.7h0M346.6 189.6h0M366.7 190.2h0M376.3 189.2h0M386.0 190.7h0M413.9 190.8h0M424.7 190.1h0M433.9 189.7h0M444.1 189.8h0M463.4 189.6h0M492.1 190.8h0M502.0 190.8h0M520.0 190.3h0M548.5 189.8h0M567.8 189.7h0M578.0 190.9h0M606.4 190.4h0M615.7 189.5h0M636.0 189.5h0M644.9 189.6h0M654.6 190.9h0M73.5 192.0h0M93.4 191.4h0M103.1 191.8h0M122.4 191.8h0M140.6 191.9h0M159.8 191.7h0M180.3 191.5h0M188.4 191.8h0M208.3 192.3h0M217.1 192.0h0M247.4 192.5h0M256.8 192.8h0M275.1 191.8h0M294.2 191.9h0M314.5 192.5h0M342.4 192.6h0M361.1 192.7h0M381.7 191.8h0M399.5 192.2h0M409.9 192.8h0M448.7 192.2h0M458.5 192.8h0M467.3 192.2h0M487.0 191.9h0M515.4 191.4h0M524.8 192.3h0M534.0 192.4h0M554.8 192.0h0M563.3 192.7h0M574.0 192.5h0M592.3 191.6h0M611.8 192.8h0M620.5 191.7h0M650.6 191.7h0M68.8 160.2h0M89.7 163.7h0M79.4 168.6h0M74.0 170.7h0M73.9 176.6h0M74.7 181.9h0M83.8 180.6h0M95.0 181.4h0M88.8 184.1h0M99.1 184.0h0M132.1 157.8h0M118.2 167.1h0M134.0 166.9h0M110.8 176.2h0M163.8 175.7h0M206.4 175.8h0M215.8 175.6h0M226.3 175.1h0M106.9 178.7h0M117.6 178.7h0M159.4 178.5h0M170.1 178.2h0M179.2 179.2h0M190.1 179.2h0M212.1 179.2h0M222.2 178.8h0M136.4 184.1h0M159.5 184.1h0M171.8 183.3h0M219.1 182.8h0M213.9 146.9h0M173.3 168.7h0M255.5 166.7h0M293.5 166.6h0M256.5 169.1h0M268.2 168.4h0M259.5 175.4h0M269.6 174.5h0M301.7 174.3h0M311.2 174.7h0M244.3 179.2h0M264.5 179.2h0M275.7 179.0h0M285.7 179.2h0M242.9 182.5h0M272.8 182.4h0M324.6 183.1h0M338.2 170.2h0M343.0 173.5h0M343.5 178.3h0M353.7 178.1h0M369.0 167.7h0M400.9 167.8h0M406.9 169.4h0M416.6 171.1h0M427.8 170.5h0M411.3 173.3h0M375.0 175.4h0M406.6 174.5h0M369.5 177.7h0M380.3 177.7h0M337.7 182.0h0M400.1 182.4h0M437.5 174.0h0M459.4 174.2h0M522.3 173.8h0M432.1 177.2h0M463.3 177.7h0M496.5 177.7h0M500.0 182.5h0M547.4 173.8h0M557.7 174.2h0M585.1 176.5h0M594.7 177.0h0M547.7 179.6h0M590.5 179.7h0M606.7 175.1h0M627.8 176.5h0M638.2 175.1h0M602.7 178.2h0M622.6 177.4h0M655.0 177.3h0M73.7 373.1h0M92.8 372.8h0M102.2 372.2h0M111.4 373.1h0M131.4 372.3h0M141.2 372.0h0M160.9 372.0h0M169.3 372.5h0M179.7 372.7h0M197.8 372.1h0M217.9 372.1h0M236.2 372.5h0M265.4 372.2h0M285.6 372.4h0M294.7 372.8h0M304.9 372.4h0M313.2 373.2h0M323.0 372.4h0M342.6 372.3h0M371.4 372.5h0M381.2 372.3h0M400.1 373.1h0M410.5 373.1h0M420.3 371.9h0M438.2 372.5h0M457.7 373.1h0M467.3 372.8h0M476.6 371.9h0M485.9 373.3h0M495.6 371.9h0M525.1 372.7h0M534.6 373.1h0M545.0 372.7h0M554.0 372.1h0M564.1 372.0h0M572.5 371.9h0M582.7 372.6h0M602.9 372.8h0M630.6 371.9h0M650.4 372.4h0M97.1 374.8h0M106.6 374.0h0M116.1 375.5h0M164.8 374.3h0M173.9 375.5h0M184.2 375.3h0M203.5 374.0h0M231.6 374.8h0M241.7 374.3h0M261.2 375.6h0M270.2 375.4h0M289.5 375.7h0M299.1 374.8h0M318.4 375.6h0M328.0 375.0h0M337.9 374.2h0M357.1 374.3h0M367.4 374.5h0M376.9 374.6h0M386.1 374.2h0M405.5 375.0h0M443.2 374.6h0M452.9 374.0h0M462.2 374.6h0M471.5 374.2h0M481.4 375.5h0M520.5 375.0h0M558.3 375.4h0M626.8 374.1h0M646.0 374.3h0M83.6 376.7h0M92.7 377.6h0M121.8 377.4h0M159.8 377.7h0M169.1 377.2h0M217.0 376.8h0M227.6 377.3h0M246.3 376.9h0M265.9 377.2h0M275.3 377.6h0M284.6 377.7h0M295.3 376.8h0M304.4 377.0h0M313.1 377.1h0M342.0 376.9h0M370.7 376.4h0M410.0 377.2h0M420.1 377.5h0M429.0 377.6h0M448.8 377.5h0M458.8 377.4h0M466.9 376.3h0M477.5 377.3h0M486.1 376.5h0M495.7 376.4h0M515.8 377.5h0M524.9 377.7h0M554.2 378.0h0M563.8 376.8h0M573.8 376.3h0M611.6 377.0h0M630.1 376.5h0M649.6 377.0h0M87.9 379.6h0M97.2 379.2h0M117.2 380.1h0M135.9 379.8h0M145.2 379.3h0M155.9 379.2h0M164.9 379.7h0M173.8 379.7h0M183.5 379.7h0M193.6 380.2h0M204.1 380.1h0M212.5 380.3h0M222.4 379.9h0M261.2 379.1h0M279.8 379.8h0M309.4 379.9h0M327.8 378.9h0M347.9 379.9h0M357.3 380.1h0M375.4 379.2h0M386.7 378.8h0M405.8 379.2h0M452.6 378.7h0M482.6 379.5h0M491.4 378.9h0M501.9 380.1h0M511.0 380.2h0M520.0 380.3h0M530.3 379.7h0M548.5 378.9h0M587.2 379.5h0M597.7 379.5h0M615.8 380.2h0M625.9 378.9h0M654.6 379.6h0M82.9 381.6h0M102.3 381.1h0M111.9 382.5h0M131.0 382.5h0M151.2 382.5h0M161.1 381.5h0M169.4 381.6h0M188.3 382.0h0M198.1 381.4h0M227.2 382.1h0M237.0 381.5h0M256.1 381.8h0M266.4 382.5h0M276.1 382.5h0M284.5 382.5h0M333.8 381.7h0M371.8 381.6h0M380.8 382.5h0M391.5 381.4h0M420.3 382.1h0M438.2 382.0h0M467.8 382.4h0M486.0 382.5h0M496.2 381.1h0M505.4 382.2h0M524.8 381.7h0M535.0 382.5h0M545.2 381.8h0M574.1 382.3h0M592.6 381.3h0M601.1 381.6h0M611.0 381.4h0M630.9 381.9h0M640.4 381.6h0M649.9 381.6h0M660.0 382.5h0M74.3 366.7h0M126.5 366.5h0M157.9 366.4h0M188.3 366.3h0M251.3 367.5h0M292.5 366.6h0M302.9 367.5h0M323.1 366.7h0M355.2 366.6h0M376.9 366.3h0M439.1 367.6h0M448.6 366.3h0M501.6 367.5h0M511.0 366.5h0M521.0 366.6h0M553.3 366.7h0M605.3 366.8h0M615.3 366.4h0M625.2 367.6h0M635.7 366.3h0M142.6 370.7h0M172.8 369.8h0M204.0 369.9h0M225.0 369.9h0M236.1 369.9h0M245.7 371.2h0M256.1 370.9h0M287.9 370.1h0M298.7 371.2h0M319.1 369.7h0M328.8 370.3h0M349.9 370.3h0M359.9 370.5h0M402.5 369.9h0M443.9 370.2h0M464.2 371.2h0M485.3 370.6h0M538.1 370.3h0M620.4 370.7h0M631.6 371.2h0M651.9 370.1h0M97.4 357.0h0M101.4 358.2h0M117.1 326.9h0M182.5 323.4h0M177.3 325.8h0M189.1 326.5h0M138.8 357.0h0M174.9 338.8h0M152.0 348.6h0M231.9 364.0h0M176.6 335.1h0M189.4 350.4h0M147.8 350.3h0M164.7 357.5h0M179.6 360.7h0M305.5 362.3h0M256.1 327.0h0M280.6 348.3h0M301.1 348.9h0M312.5 348.9h0M191.9 352.2h0M203.6 352.2h0M222.7 352.1h0M254.9 352.2h0M274.6 352.0h0M285.9 351.4h0M273.3 356.2h0M247.5 354.6h0M242.6 358.0h0M237.3 359.0h0M248.5 360.2h0M242.7 362.5h0M248.7 364.6h0M395.1 306.6h0M336.0 359.6h0M346.3 359.7h0M414.1 356.1h0M408.4 358.5h0M402.9 361.6h0M413.4 360.5h0M408.4 363.3h0M380.3 355.2h0M374.9 364.0h0M385.7 362.9h0M355.2 360.5h0M468.3 365.1h0M489.9 363.9h0M503.0 361.3h0M512.0 360.2h0M497.3 363.3h0M558.7 363.2h0M609.7 371.3h0M641.8 370.9h0M651.1 371.1h0M573.0 372.9h0M594.4 371.7h0M604.4 372.3h0M615.1 372.6h0M647.2 371.8h0M657.4 373.2h0M613.9 367.1h0M635.6 367.2h0M74.6 555.9h0M92.6 555.5h0M102.1 556.6h0M112.2 555.8h0M121.1 556.3h0M131.6 556.8h0M140.8 556.5h0M159.6 555.8h0M179.1 556.4h0M188.4 555.8h0M208.3 556.7h0M218.0 556.2h0M226.7 555.5h0M236.6 556.1h0M247.2 556.5h0M256.1 555.6h0M266.1 555.3h0M275.1 555.3h0M284.6 556.5h0M294.0 555.7h0M314.5 555.7h0M333.6 556.5h0M351.7 556.7h0M362.7 556.0h0M391.1 556.3h0M399.9 555.8h0M409.5 556.7h0M439.0 555.9h0M448.4 555.3h0M486.5 556.1h0M495.8 556.7h0M505.4 555.7h0M534.8 556.7h0M553.2 555.3h0M564.1 555.3h0M621.8 555.3h0M631.4 555.7h0M641.1 556.2h0M659.7 556.7h0M88.1 557.9h0M107.7 558.2h0M117.4 559.1h0M126.0 559.1h0M135.9 558.8h0M145.8 558.0h0M155.0 559.3h0M173.7 558.6h0M203.3 558.7h0M212.3 558.5h0M232.6 558.6h0M252.1 558.0h0M279.6 558.8h0M289.1 557.9h0M298.6 557.9h0M309.5 558.3h0M318.9 559.4h0M338.5 559.3h0M376.1 558.0h0M385.8 558.0h0M405.5 559.5h0M414.3 558.1h0M425.1 559.5h0M434.4 557.8h0M453.6 559.1h0M471.6 558.3h0M491.3 558.2h0M500.4 559.3h0M520.6 559.5h0M529.5 559.2h0M549.3 558.0h0M558.4 557.8h0M577.2 558.8h0M615.5 557.9h0M625.2 558.0h0M644.7 558.0h0M73.2 561.1h0M83.5 562.0h0M113.0 561.2h0M121.2 562.0h0M132.3 561.5h0M149.9 560.8h0M159.9 561.0h0M170.0 560.9h0M189.3 561.6h0M198.0 562.0h0M246.4 562.0h0M275.4 560.7h0M284.4 560.8h0M294.4 561.0h0M304.4 560.7h0M314.2 562.0h0M324.3 561.7h0M352.9 561.5h0M361.9 560.6h0M390.0 561.2h0M399.7 561.1h0M420.3 561.2h0M439.0 561.6h0M457.3 561.3h0M478.0 560.6h0M487.3 561.2h0M506.0 560.8h0M525.7 562.0h0M534.4 560.6h0M553.6 561.9h0M564.3 561.5h0M572.5 560.6h0M583.4 561.2h0M591.7 560.8h0M621.3 560.9h0M631.4 561.0h0M640.0 560.6h0M650.2 560.5h0M659.5 560.8h0M75.9 537.3h0M98.3 537.8h0M86.3 542.6h0M97.9 541.7h0M93.1 544.1h0M68.6 545.4h0M79.0 546.6h0M88.9 545.6h0M83.5 549.0h0M93.2 548.4h0M68.6 551.4h0M89.3 550.9h0M98.6 550.3h0M74.8 553.1h0M94.2 552.7h0M143.1 538.0h0M116.4 541.4h0M142.3 543.2h0M127.0 546.5h0M110.0 548.7h0M121.5 549.0h0M131.7 547.8h0M142.9 547.6h0M105.2 550.3h0M126.2 550.5h0M168.2 538.2h0M168.7 546.9h0M198.8 547.5h0M209.3 547.7h0M230.2 547.7h0M142.6 550.6h0M153.5 551.5h0M163.3 551.7h0M183.1 550.4h0M204.2 551.1h0M215.0 551.7h0M234.2 551.6h0M141.9 543.4h0M147.6 544.9h0M238.3 541.8h0M237.2 550.6h0M304.1 529.1h0M266.9 532.3h0M293.2 535.7h0M293.7 539.3h0M276.9 542.7h0M299.2 542.3h0M272.4 546.8h0M294.2 547.2h0M304.7 548.0h0M257.2 550.7h0M309.7 551.4h0M336.4 534.8h0M324.3 540.4h0M335.7 539.3h0M319.7 551.7h0M331.1 551.2h0M342.9 530.0h0M363.0 533.8h0M383.1 533.2h0M405.3 534.2h0M415.0 533.1h0M347.7 535.2h0M399.7 534.7h0M409.9 535.2h0M363.2 540.3h0M415.0 539.9h0M337.4 541.9h0M347.7 542.1h0M357.2 543.0h0M400.0 543.2h0M394.1 546.8h0M404.4 547.8h0M424.9 547.6h0M336.9 551.7h0M357.5 550.4h0M399.6 551.1h0M409.1 550.9h0M423.2 531.5h0M470.8 535.5h0M449.1 542.6h0M480.9 541.9h0M454.2 546.8h0M465.5 547.4h0M426.9 551.4h0M460.2 551.2h0M483.4 550.3h0M506.8 542.4h0M496.3 547.8h0M506.5 547.3h0M517.9 548.1h0M491.9 551.5h0M501.8 551.7h0M521.7 550.7h0M525.9 526.8h0M519.9 531.1h0M564.6 535.9h0M560.2 538.2h0M568.5 538.9h0M527.0 540.1h0M560.1 541.0h0M537.4 546.8h0M548.6 548.3h0M590.8 546.8h0M553.3 551.1h0M565.0 550.4h0M574.5 551.4h0M638.8 539.8h0M660.1 538.8h0M603.1 542.1h0M644.4 543.2h0M618.8 547.0h0M624.2 551.7h0M634.0 551.1h0M653.7 550.9h0" stroke="#03051c" stroke-width="3.8"/><path d="M73.1 187.8h0M84.0 187.3h0M103.4 187.9h0M121.7 187.7h0M198.1 187.3h0M274.9 187.3h0M477.6 188.6h0M505.5 187.3h0M515.0 188.8h0M524.6 187.5h0M573.9 187.3h0M582.3 188.4h0M612.4 188.2h0M68.5 190.8h0M78.7 189.9h0M88.4 190.4h0M106.7 189.2h0M117.9 190.1h0M135.5 190.6h0M145.9 190.5h0M174.5 189.6h0M184.5 189.9h0M222.7 189.4h0M260.2 190.2h0M270.5 190.1h0M290.2 189.5h0M308.9 189.3h0M452.7 189.5h0M482.1 190.1h0M511.3 190.7h0M529.2 190.1h0M540.2 189.6h0M558.8 190.9h0M625.2 190.8h0M83.9 192.8h0M169.9 192.0h0M197.9 192.5h0M237.2 192.8h0M265.6 191.7h0M323.0 191.9h0M372.3 192.8h0M418.6 192.5h0M429.9 191.8h0M477.0 192.7h0M496.9 192.5h0M505.9 191.4h0M583.0 191.5h0M602.5 192.3h0M631.0 191.7h0M640.8 192.8h0M659.8 192.8h0M83.5 158.6h0M88.7 159.0h0M99.2 163.4h0M99.9 169.2h0M89.8 179.4h0M93.8 151.1h0M112.8 147.3h0M107.4 148.3h0M118.1 149.4h0M141.5 157.8h0M121.3 176.4h0M143.2 176.3h0M174.7 176.4h0M184.3 175.1h0M236.8 176.2h0M127.3 178.0h0M138.3 178.3h0M112.8 183.7h0M173.0 147.2h0M173.0 149.8h0M185.0 151.2h0M280.4 168.9h0M249.0 174.4h0M291.2 174.4h0M255.5 178.2h0M295.7 178.5h0M317.6 179.2h0M252.7 181.8h0M284.5 182.2h0M330.7 175.8h0M324.0 179.0h0M356.4 169.5h0M384.0 167.2h0M353.8 172.3h0M338.3 175.9h0M349.3 175.9h0M360.1 175.5h0M395.3 169.8h0M369.4 171.9h0M400.9 173.6h0M396.4 175.2h0M416.4 175.8h0M427.9 174.9h0M401.3 176.7h0M411.5 178.0h0M378.7 182.9h0M389.1 182.3h0M453.0 172.0h0M484.8 172.6h0M495.6 172.5h0M516.5 171.3h0M468.7 175.4h0M532.1 174.0h0M453.7 177.1h0M517.3 177.6h0M557.5 179.3h0M569.6 178.4h0M617.9 175.1h0M659.2 175.2h0M612.8 177.0h0M643.6 176.9h0M549.0 182.8h0M573.3 184.0h0M584.6 182.8h0M621.3 182.9h0M644.6 183.4h0M655.8 182.8h0M83.6 372.2h0M149.9 372.5h0M189.2 372.3h0M208.4 373.0h0M247.5 372.9h0M332.9 373.1h0M353.1 372.8h0M361.4 372.0h0M390.1 372.4h0M505.8 372.6h0M593.2 372.3h0M640.4 371.8h0M658.7 372.5h0M68.7 374.3h0M77.8 374.0h0M126.8 374.4h0M136.2 375.2h0M146.2 375.0h0M212.7 375.3h0M251.0 375.7h0M308.5 375.5h0M348.0 375.4h0M396.3 374.3h0M414.4 374.6h0M424.0 375.5h0M434.2 375.6h0M492.3 374.9h0M501.1 375.4h0M510.8 375.3h0M530.3 375.5h0M587.3 375.6h0M606.2 375.5h0M616.8 375.3h0M635.6 375.0h0M140.6 377.3h0M150.3 376.6h0M188.3 377.9h0M208.2 377.3h0M237.3 377.9h0M256.1 376.3h0M324.2 376.6h0M352.7 377.2h0M380.5 377.8h0M390.4 377.5h0M400.6 376.3h0M438.3 376.8h0M535.2 377.8h0M543.7 376.9h0M621.2 377.7h0M639.9 376.3h0M659.1 377.7h0M232.2 378.9h0M241.8 379.4h0M251.8 380.0h0M338.1 379.4h0M366.5 379.8h0M396.2 379.8h0M415.5 378.7h0M425.0 380.0h0M433.7 379.2h0M442.8 380.2h0M471.7 380.3h0M568.7 380.1h0M578.0 379.9h0M606.3 380.0h0M636.0 379.2h0M646.0 379.8h0M93.4 382.5h0M121.7 381.5h0M141.6 381.5h0M208.5 381.8h0M217.7 382.5h0M245.9 382.5h0M293.8 381.6h0M304.7 381.3h0M323.4 381.9h0M342.6 382.0h0M352.4 381.7h0M399.6 382.2h0M409.1 382.5h0M428.4 381.9h0M457.8 382.5h0M477.5 381.4h0M514.8 382.5h0M554.7 382.4h0M563.5 381.0h0M582.4 381.3h0M136.9 367.1h0M177.8 367.6h0M209.6 366.8h0M230.0 367.2h0M365.8 367.3h0M406.3 366.5h0M417.8 366.5h0M459.1 367.4h0M491.1 367.2h0M593.8 367.6h0M646.7 366.9h0M68.5 370.6h0M99.9 370.2h0M131.4 370.6h0M152.3 371.2h0M266.2 370.2h0M308.9 370.1h0M339.7 371.2h0M392.1 371.2h0M432.9 370.1h0M495.1 370.6h0M505.5 371.2h0M558.5 369.8h0M609.3 371.2h0M98.1 322.4h0M95.1 324.0h0M77.7 329.4h0M87.1 329.3h0M71.9 331.9h0M82.4 331.1h0M86.8 334.1h0M71.9 335.9h0M82.3 341.5h0M92.4 341.6h0M101.8 342.1h0M81.5 353.8h0M92.8 358.3h0M82.0 363.3h0M127.5 326.9h0M172.8 329.1h0M122.0 331.4h0M113.3 359.3h0M143.4 359.3h0M109.1 355.9h0M108.9 361.8h0M152.4 358.9h0M249.2 356.4h0M310.1 356.4h0M418.3 347.6h0M412.6 351.3h0M418.8 363.8h0M396.6 357.7h0M391.2 361.3h0M342.7 361.0h0M367.4 361.4h0M437.6 365.1h0M449.1 364.6h0M479.7 364.3h0M506.7 363.0h0M535.5 362.8h0M579.0 370.3h0M589.9 371.4h0M600.0 370.5h0M631.0 370.3h0M583.0 373.0h0M636.7 373.2h0M619.0 364.3h0M625.4 367.2h0M645.8 366.9h0M83.6 555.4h0M169.0 556.7h0M304.5 555.9h0M323.8 555.9h0M343.1 555.3h0M370.9 556.4h0M419.3 556.1h0M477.4 555.3h0M515.0 555.3h0M583.5 556.6h0M610.9 555.8h0M68.5 559.2h0M78.2 558.6h0M98.4 558.9h0M165.6 558.4h0M183.6 557.8h0M242.7 558.5h0M261.3 558.1h0M347.6 558.1h0M356.6 559.3h0M366.0 558.0h0M444.2 558.7h0M462.2 559.5h0M481.2 558.8h0M510.7 558.9h0M539.1 558.6h0M606.5 558.9h0M635.5 559.0h0M141.1 561.8h0M178.6 561.3h0M207.6 562.0h0M217.4 561.9h0M227.4 560.6h0M266.4 560.9h0M341.8 561.2h0M371.0 561.8h0M428.9 561.7h0M447.5 560.8h0M544.3 561.3h0M611.6 560.5h0M80.4 517.8h0M90.5 518.5h0M86.4 533.4h0M81.2 540.4h0M92.9 539.4h0M75.9 542.8h0M73.1 544.3h0M74.5 549.1h0M78.3 550.4h0M83.4 553.6h0M132.3 526.6h0M109.9 531.8h0M111.3 537.8h0M131.7 537.8h0M120.8 542.7h0M138.2 545.3h0M115.9 550.9h0M137.8 551.2h0M169.9 528.0h0M185.2 532.4h0M148.5 534.9h0M168.9 535.2h0M158.8 538.2h0M161.0 543.0h0M187.9 544.5h0M200.5 544.7h0M214.6 544.2h0M238.6 543.9h0M147.1 547.7h0M157.3 547.3h0M178.9 547.3h0M189.2 547.4h0M194.0 551.6h0M302.2 526.5h0M242.9 546.8h0M248.8 550.4h0M299.1 531.9h0M272.7 535.7h0M314.2 535.4h0M266.5 542.4h0M309.1 542.8h0M313.7 547.3h0M277.1 551.7h0M299.4 551.2h0M325.5 535.0h0M325.5 548.0h0M336.7 547.4h0M353.7 529.3h0M358.5 531.8h0M374.0 533.1h0M352.9 539.8h0M393.6 539.3h0M389.1 543.1h0M410.2 541.8h0M362.7 546.8h0M383.6 546.8h0M378.4 551.7h0M388.6 551.7h0M420.0 551.0h0M432.8 531.6h0M438.2 535.7h0M475.4 539.3h0M469.6 542.2h0M431.9 546.8h0M438.6 551.2h0M448.7 551.1h0M469.9 550.2h0M480.3 550.3h0M483.3 542.1h0M491.6 539.6h0M536.6 534.8h0M538.9 540.6h0M533.3 543.0h0M527.9 548.0h0M570.0 548.2h0M533.8 551.7h0M593.1 542.9h0M634.5 542.0h0M596.9 547.1h0M608.2 547.6h0M627.9 547.7h0M659.6 547.4h0M602.2 551.6h0M644.6 551.5h0" stroke="#01020a" stroke-width="5.0"/><path d="M73.1 187.8h0M84.0 187.3h0M103.4 187.9h0M121.7 187.7h0M198.1 187.3h0M274.9 187.3h0M477.6 188.6h0M505.5 187.3h0M515.0 188.8h0M524.6 187.5h0M573.9 187.3h0M582.3 188.4h0M612.4 188.2h0M68.5 190.8h0M78.7 189.9h0M88.4 190.4h0M106.7 189.2h0M117.9 190.1h0M135.5 190.6h0M145.9 190.5h0M174.5 189.6h0M184.5 189.9h0M222.7 189.4h0M260.2 190.2h0M270.5 190.1h0M290.2 189.5h0M308.9 189.3h0M452.7 189.5h0M482.1 190.1h0M511.3 190.7h0M529.2 190.1h0M540.2 189.6h0M558.8 190.9h0M625.2 190.8h0M83.9 192.8h0M169.9 192.0h0M197.9 192.5h0M237.2 192.8h0M265.6 191.7h0M323.0 191.9h0M372.3 192.8h0M418.6 192.5h0M429.9 191.8h0M477.0 192.7h0M496.9 192.5h0M505.9 191.4h0M583.0 191.5h0M602.5 192.3h0M631.0 191.7h0M640.8 192.8h0M659.8 192.8h0M83.5 158.6h0M88.7 159.0h0M99.2 163.4h0M99.9 169.2h0M89.8 179.4h0M93.8 151.1h0M112.8 147.3h0M107.4 148.3h0M118.1 149.4h0M141.5 157.8h0M121.3 176.4h0M143.2 176.3h0M174.7 176.4h0M184.3 175.1h0M236.8 176.2h0M127.3 178.0h0M138.3 178.3h0M112.8 183.7h0M173.0 147.2h0M173.0 149.8h0M185.0 151.2h0M280.4 168.9h0M249.0 174.4h0M291.2 174.4h0M255.5 178.2h0M295.7 178.5h0M317.6 179.2h0M252.7 181.8h0M284.5 182.2h0M330.7 175.8h0M324.0 179.0h0M356.4 169.5h0M384.0 167.2h0M353.8 172.3h0M338.3 175.9h0M349.3 175.9h0M360.1 175.5h0M395.3 169.8h0M369.4 171.9h0M400.9 173.6h0M396.4 175.2h0M416.4 175.8h0M427.9 174.9h0M401.3 176.7h0M411.5 178.0h0M378.7 182.9h0M389.1 182.3h0M453.0 172.0h0M484.8 172.6h0M495.6 172.5h0M516.5 171.3h0M468.7 175.4h0M532.1 174.0h0M453.7 177.1h0M517.3 177.6h0M557.5 179.3h0M569.6 178.4h0M617.9 175.1h0M659.2 175.2h0M612.8 177.0h0M643.6 176.9h0M549.0 182.8h0M573.3 184.0h0M584.6 182.8h0M621.3 182.9h0M644.6 183.4h0M655.8 182.8h0M83.6 372.2h0M149.9 372.5h0M189.2 372.3h0M208.4 373.0h0M247.5 372.9h0M332.9 373.1h0M353.1 372.8h0M361.4 372.0h0M390.1 372.4h0M505.8 372.6h0M593.2 372.3h0M640.4 371.8h0M658.7 372.5h0M68.7 374.3h0M77.8 374.0h0M126.8 374.4h0M136.2 375.2h0M146.2 375.0h0M212.7 375.3h0M251.0 375.7h0M308.5 375.5h0M348.0 375.4h0M396.3 374.3h0M414.4 374.6h0M424.0 375.5h0M434.2 375.6h0M492.3 374.9h0M501.1 375.4h0M510.8 375.3h0M530.3 375.5h0M587.3 375.6h0M606.2 375.5h0M616.8 375.3h0M635.6 375.0h0M140.6 377.3h0M150.3 376.6h0M188.3 377.9h0M208.2 377.3h0M237.3 377.9h0M256.1 376.3h0M324.2 376.6h0M352.7 377.2h0M380.5 377.8h0M390.4 377.5h0M400.6 376.3h0M438.3 376.8h0M535.2 377.8h0M543.7 376.9h0M621.2 377.7h0M639.9 376.3h0M659.1 377.7h0M232.2 378.9h0M241.8 379.4h0M251.8 380.0h0M338.1 379.4h0M366.5 379.8h0M396.2 379.8h0M415.5 378.7h0M425.0 380.0h0M433.7 379.2h0M442.8 380.2h0M471.7 380.3h0M568.7 380.1h0M578.0 379.9h0M606.3 380.0h0M636.0 379.2h0M646.0 379.8h0M93.4 382.5h0M121.7 381.5h0M141.6 381.5h0M208.5 381.8h0M217.7 382.5h0M245.9 382.5h0M293.8 381.6h0M304.7 381.3h0M323.4 381.9h0M342.6 382.0h0M352.4 381.7h0M399.6 382.2h0M409.1 382.5h0M428.4 381.9h0M457.8 382.5h0M477.5 381.4h0M514.8 382.5h0M554.7 382.4h0M563.5 381.0h0M582.4 381.3h0M136.9 367.1h0M177.8 367.6h0M209.6 366.8h0M230.0 367.2h0M365.8 367.3h0M406.3 366.5h0M417.8 366.5h0M459.1 367.4h0M491.1 367.2h0M593.8 367.6h0M646.7 366.9h0M68.5 370.6h0M99.9 370.2h0M131.4 370.6h0M152.3 371.2h0M266.2 370.2h0M308.9 370.1h0M339.7 371.2h0M392.1 371.2h0M432.9 370.1h0M495.1 370.6h0M505.5 371.2h0M558.5 369.8h0M609.3 371.2h0M98.1 322.4h0M95.1 324.0h0M77.7 329.4h0M87.1 329.3h0M71.9 331.9h0M82.4 331.1h0M86.8 334.1h0M71.9 335.9h0M82.3 341.5h0M92.4 341.6h0M101.8 342.1h0M81.5 353.8h0M92.8 358.3h0M82.0 363.3h0M127.5 326.9h0M172.8 329.1h0M122.0 331.4h0M113.3 359.3h0M143.4 359.3h0M109.1 355.9h0M108.9 361.8h0M152.4 358.9h0M249.2 356.4h0M310.1 356.4h0M418.3 347.6h0M412.6 351.3h0M418.8 363.8h0M396.6 357.7h0M391.2 361.3h0M342.7 361.0h0M367.4 361.4h0M437.6 365.1h0M449.1 364.6h0M479.7 364.3h0M506.7 363.0h0M535.5 362.8h0M579.0 370.3h0M589.9 371.4h0M600.0 370.5h0M631.0 370.3h0M583.0 373.0h0M636.7 373.2h0M619.0 364.3h0M625.4 367.2h0M645.8 366.9h0M83.6 555.4h0M169.0 556.7h0M304.5 555.9h0M323.8 555.9h0M343.1 555.3h0M370.9 556.4h0M419.3 556.1h0M477.4 555.3h0M515.0 555.3h0M583.5 556.6h0M610.9 555.8h0M68.5 559.2h0M78.2 558.6h0M98.4 558.9h0M165.6 558.4h0M183.6 557.8h0M242.7 558.5h0M261.3 558.1h0M347.6 558.1h0M356.6 559.3h0M366.0 558.0h0M444.2 558.7h0M462.2 559.5h0M481.2 558.8h0M510.7 558.9h0M539.1 558.6h0M606.5 558.9h0M635.5 559.0h0M141.1 561.8h0M178.6 561.3h0M207.6 562.0h0M217.4 561.9h0M227.4 560.6h0M266.4 560.9h0M341.8 561.2h0M371.0 561.8h0M428.9 561.7h0M447.5 560.8h0M544.3 561.3h0M611.6 560.5h0M80.4 517.8h0M90.5 518.5h0M86.4 533.4h0M81.2 540.4h0M92.9 539.4h0M75.9 542.8h0M73.1 544.3h0M74.5 549.1h0M78.3 550.4h0M83.4 553.6h0M132.3 526.6h0M109.9 531.8h0M111.3 537.8h0M131.7 537.8h0M120.8 542.7h0M138.2 545.3h0M115.9 550.9h0M137.8 551.2h0M169.9 528.0h0M185.2 532.4h0M148.5 534.9h0M168.9 535.2h0M158.8 538.2h0M161.0 543.0h0M187.9 544.5h0M200.5 544.7h0M214.6 544.2h0M238.6 543.9h0M147.1 547.7h0M157.3 547.3h0M178.9 547.3h0M189.2 547.4h0M194.0 551.6h0M302.2 526.5h0M242.9 546.8h0M248.8 550.4h0M299.1 531.9h0M272.7 535.7h0M314.2 535.4h0M266.5 542.4h0M309.1 542.8h0M313.7 547.3h0M277.1 551.7h0M299.4 551.2h0M325.5 535.0h0M325.5 548.0h0M336.7 547.4h0M353.7 529.3h0M358.5 531.8h0M374.0 533.1h0M352.9 539.8h0M393.6 539.3h0M389.1 543.1h0M410.2 541.8h0M362.7 546.8h0M383.6 546.8h0M378.4 551.7h0M388.6 551.7h0M420.0 551.0h0M432.8 531.6h0M438.2 535.7h0M475.4 539.3h0M469.6 542.2h0M431.9 546.8h0M438.6 551.2h0M448.7 551.1h0M469.9 550.2h0M480.3 550.3h0M483.3 542.1h0M491.6 539.6h0M536.6 534.8h0M538.9 540.6h0M533.3 543.0h0M527.9 548.0h0M570.0 548.2h0M533.8 551.7h0M593.1 542.9h0M634.5 542.0h0M596.9 547.1h0M608.2 547.6h0M627.9 547.7h0M659.6 547.4h0M602.2 551.6h0M644.6 551.5h0" stroke="#050a2c" stroke-width="3.8"/><path d="M237.9 188.4h0M246.5 187.3h0M333.0 188.5h0M362.5 188.1h0M410.4 187.4h0M428.7 188.2h0M553.6 187.9h0M601.4 188.4h0M356.6 190.5h0M395.4 189.4h0M471.5 190.7h0M587.7 190.7h0M303.7 192.3h0M389.9 191.5h0M438.7 192.4h0M544.6 191.8h0M74.2 157.5h0M99.9 159.1h0M84.7 166.1h0M93.5 165.5h0M84.2 171.9h0M94.7 171.6h0M98.9 178.6h0M78.7 182.9h0M77.9 153.6h0M88.2 152.8h0M94.0 146.3h0M87.9 148.6h0M153.3 176.4h0M196.0 175.4h0M184.0 146.8h0M164.9 155.5h0M184.6 169.0h0M252.0 155.5h0M329.9 167.2h0M268.3 166.8h0M280.9 166.4h0M306.0 166.4h0M281.2 174.7h0M306.7 178.0h0M294.6 182.8h0M304.5 183.1h0M404.6 149.3h0M384.1 161.6h0M395.6 162.1h0M395.7 167.7h0M349.2 170.4h0M332.9 178.9h0M380.7 167.6h0M421.6 167.4h0M374.3 170.7h0M384.8 170.3h0M390.4 177.4h0M348.6 181.8h0M358.8 182.8h0M475.0 171.3h0M501.6 175.3h0M473.8 176.8h0M505.8 177.6h0M527.8 177.3h0M537.5 176.4h0M590.1 174.4h0M553.1 176.1h0M573.6 177.0h0M634.4 177.5h0M121.5 372.7h0M227.8 372.2h0M255.8 373.0h0M621.5 372.6h0M88.5 374.2h0M156.0 374.0h0M280.6 373.9h0M549.9 375.3h0M112.3 377.2h0M132.0 378.0h0M333.4 376.3h0M362.7 376.7h0M505.7 376.5h0M582.2 377.9h0M591.9 377.5h0M602.4 376.9h0M79.0 379.2h0M106.9 380.0h0M127.5 380.0h0M299.4 379.3h0M318.8 378.9h0M463.4 380.4h0M538.7 379.3h0M559.4 378.9h0M178.9 382.4h0M314.6 381.6h0M449.1 381.3h0M621.1 381.8h0M105.3 367.7h0M219.6 367.5h0M261.8 366.3h0M272.8 366.3h0M313.1 366.7h0M343.9 367.3h0M469.9 366.4h0M480.9 367.7h0M563.3 367.6h0M657.8 366.7h0M111.3 371.2h0M162.1 370.1h0M412.3 370.1h0M475.3 370.2h0M517.0 370.3h0M547.4 370.9h0M589.1 369.9h0M91.6 318.9h0M85.9 322.4h0M83.8 323.0h0M79.0 325.4h0M88.9 326.3h0M99.8 326.2h0M97.7 328.8h0M92.2 336.2h0M87.1 338.7h0M97.8 338.6h0M72.3 341.4h0M81.9 349.0h0M86.5 351.2h0M96.9 350.8h0M87.2 357.4h0M72.9 359.0h0M82.5 358.5h0M87.6 365.9h0M68.5 346.0h0M179.1 326.7h0M172.3 323.6h0M182.6 329.8h0M123.7 354.7h0M143.0 355.0h0M117.6 357.2h0M139.5 339.0h0M156.9 342.9h0M163.4 351.5h0M121.0 355.6h0M169.5 355.3h0M139.0 365.0h0M151.5 364.8h0M157.2 336.2h0M171.8 350.0h0M203.1 349.9h0M230.1 349.9h0M157.7 350.3h0M163.1 352.3h0M158.9 355.1h0M147.0 361.2h0M159.2 361.2h0M279.7 326.8h0M268.8 327.1h0M310.4 325.8h0M249.9 349.0h0M259.8 347.8h0M321.3 348.2h0M212.5 352.0h0M338.1 352.2h0M285.4 356.2h0M243.3 352.7h0M403.9 312.5h0M341.7 351.0h0M412.8 346.4h0M403.3 355.9h0M374.9 356.7h0M348.1 357.4h0M426.9 363.9h0M568.8 362.8h0M620.7 370.3h0M630.5 365.7h0M652.0 364.4h0M199.3 555.3h0M381.1 556.6h0M429.8 556.5h0M572.3 556.1h0M591.7 556.6h0M222.1 559.0h0M270.7 558.6h0M327.7 558.7h0M567.6 558.7h0M596.4 558.2h0M655.5 559.4h0M92.2 561.2h0M102.8 561.6h0M236.6 561.2h0M255.6 560.9h0M380.7 561.9h0M409.4 560.5h0M515.4 560.8h0M75.4 520.9h0M85.5 520.4h0M95.3 520.3h0M95.7 525.9h0M80.9 527.4h0M91.2 526.9h0M98.1 546.2h0M84.0 511.7h0M121.9 526.3h0M142.2 527.2h0M105.9 529.7h0M116.1 529.1h0M136.8 530.1h0M143.1 532.6h0M127.0 541.4h0M115.2 546.5h0M146.9 527.8h0M164.1 532.2h0M180.2 533.9h0M219.8 547.6h0M173.6 550.3h0M224.2 550.6h0M242.6 523.7h0M249.5 524.5h0M248.7 535.7h0M293.4 529.0h0M256.0 531.7h0M277.3 531.4h0M288.8 532.9h0M309.4 531.4h0M283.3 535.7h0M303.7 535.7h0M303.6 539.3h0M314.3 539.3h0M287.3 551.3h0M348.0 528.1h0M364.0 529.1h0M341.8 532.8h0M352.8 533.5h0M394.5 533.5h0M337.1 535.7h0M368.9 534.5h0M378.8 534.5h0M389.1 534.7h0M343.1 539.6h0M419.6 543.2h0M342.8 547.3h0M415.5 548.2h0M411.9 531.4h0M444.2 530.8h0M427.4 535.4h0M447.8 535.4h0M459.3 535.7h0M480.2 534.9h0M444.2 539.5h0M428.0 542.1h0M437.5 542.7h0M444.0 546.8h0M497.0 536.2h0M525.7 534.6h0M530.6 537.4h0M570.5 541.2h0M591.5 540.9h0M564.1 543.0h0M559.2 547.8h0M523.0 551.7h0M543.8 551.7h0M608.3 538.4h0M627.9 538.7h0M649.9 539.0h0M593.0 551.3h0M612.4 551.7h0" stroke="#02030e" stroke-width="5.0"/><path d="M237.9 188.4h0M246.5 187.3h0M333.0 188.5h0M362.5 188.1h0M410.4 187.4h0M428.7 188.2h0M553.6 187.9h0M601.4 188.4h0M356.6 190.5h0M395.4 189.4h0M471.5 190.7h0M587.7 190.7h0M303.7 192.3h0M389.9 191.5h0M438.7 192.4h0M544.6 191.8h0M74.2 157.5h0M99.9 159.1h0M84.7 166.1h0M93.5 165.5h0M84.2 171.9h0M94.7 171.6h0M98.9 178.6h0M78.7 182.9h0M77.9 153.6h0M88.2 152.8h0M94.0 146.3h0M87.9 148.6h0M153.3 176.4h0M196.0 175.4h0M184.0 146.8h0M164.9 155.5h0M184.6 169.0h0M252.0 155.5h0M329.9 167.2h0M268.3 166.8h0M280.9 166.4h0M306.0 166.4h0M281.2 174.7h0M306.7 178.0h0M294.6 182.8h0M304.5 183.1h0M404.6 149.3h0M384.1 161.6h0M395.6 162.1h0M395.7 167.7h0M349.2 170.4h0M332.9 178.9h0M380.7 167.6h0M421.6 167.4h0M374.3 170.7h0M384.8 170.3h0M390.4 177.4h0M348.6 181.8h0M358.8 182.8h0M475.0 171.3h0M501.6 175.3h0M473.8 176.8h0M505.8 177.6h0M527.8 177.3h0M537.5 176.4h0M590.1 174.4h0M553.1 176.1h0M573.6 177.0h0M634.4 177.5h0M121.5 372.7h0M227.8 372.2h0M255.8 373.0h0M621.5 372.6h0M88.5 374.2h0M156.0 374.0h0M280.6 373.9h0M549.9 375.3h0M112.3 377.2h0M132.0 378.0h0M333.4 376.3h0M362.7 376.7h0M505.7 376.5h0M582.2 377.9h0M591.9 377.5h0M602.4 376.9h0M79.0 379.2h0M106.9 380.0h0M127.5 380.0h0M299.4 379.3h0M318.8 378.9h0M463.4 380.4h0M538.7 379.3h0M559.4 378.9h0M178.9 382.4h0M314.6 381.6h0M449.1 381.3h0M621.1 381.8h0M105.3 367.7h0M219.6 367.5h0M261.8 366.3h0M272.8 366.3h0M313.1 366.7h0M343.9 367.3h0M469.9 366.4h0M480.9 367.7h0M563.3 367.6h0M657.8 366.7h0M111.3 371.2h0M162.1 370.1h0M412.3 370.1h0M475.3 370.2h0M517.0 370.3h0M547.4 370.9h0M589.1 369.9h0M91.6 318.9h0M85.9 322.4h0M83.8 323.0h0M79.0 325.4h0M88.9 326.3h0M99.8 326.2h0M97.7 328.8h0M92.2 336.2h0M87.1 338.7h0M97.8 338.6h0M72.3 341.4h0M81.9 349.0h0M86.5 351.2h0M96.9 350.8h0M87.2 357.4h0M72.9 359.0h0M82.5 358.5h0M87.6 365.9h0M68.5 346.0h0M179.1 326.7h0M172.3 323.6h0M182.6 329.8h0M123.7 354.7h0M143.0 355.0h0M117.6 357.2h0M139.5 339.0h0M156.9 342.9h0M163.4 351.5h0M121.0 355.6h0M169.5 355.3h0M139.0 365.0h0M151.5 364.8h0M157.2 336.2h0M171.8 350.0h0M203.1 349.9h0M230.1 349.9h0M157.7 350.3h0M163.1 352.3h0M158.9 355.1h0M147.0 361.2h0M159.2 361.2h0M279.7 326.8h0M268.8 327.1h0M310.4 325.8h0M249.9 349.0h0M259.8 347.8h0M321.3 348.2h0M212.5 352.0h0M338.1 352.2h0M285.4 356.2h0M243.3 352.7h0M403.9 312.5h0M341.7 351.0h0M412.8 346.4h0M403.3 355.9h0M374.9 356.7h0M348.1 357.4h0M426.9 363.9h0M568.8 362.8h0M620.7 370.3h0M630.5 365.7h0M652.0 364.4h0M199.3 555.3h0M381.1 556.6h0M429.8 556.5h0M572.3 556.1h0M591.7 556.6h0M222.1 559.0h0M270.7 558.6h0M327.7 558.7h0M567.6 558.7h0M596.4 558.2h0M655.5 559.4h0M92.2 561.2h0M102.8 561.6h0M236.6 561.2h0M255.6 560.9h0M380.7 561.9h0M409.4 560.5h0M515.4 560.8h0M75.4 520.9h0M85.5 520.4h0M95.3 520.3h0M95.7 525.9h0M80.9 527.4h0M91.2 526.9h0M98.1 546.2h0M84.0 511.7h0M121.9 526.3h0M142.2 527.2h0M105.9 529.7h0M116.1 529.1h0M136.8 530.1h0M143.1 532.6h0M127.0 541.4h0M115.2 546.5h0M146.9 527.8h0M164.1 532.2h0M180.2 533.9h0M219.8 547.6h0M173.6 550.3h0M224.2 550.6h0M242.6 523.7h0M249.5 524.5h0M248.7 535.7h0M293.4 529.0h0M256.0 531.7h0M277.3 531.4h0M288.8 532.9h0M309.4 531.4h0M283.3 535.7h0M303.7 535.7h0M303.6 539.3h0M314.3 539.3h0M287.3 551.3h0M348.0 528.1h0M364.0 529.1h0M341.8 532.8h0M352.8 533.5h0M394.5 533.5h0M337.1 535.7h0M368.9 534.5h0M378.8 534.5h0M389.1 534.7h0M343.1 539.6h0M419.6 543.2h0M342.8 547.3h0M415.5 548.2h0M411.9 531.4h0M444.2 530.8h0M427.4 535.4h0M447.8 535.4h0M459.3 535.7h0M480.2 534.9h0M444.2 539.5h0M428.0 542.1h0M437.5 542.7h0M444.0 546.8h0M497.0 536.2h0M525.7 534.6h0M530.6 537.4h0M570.5 541.2h0M591.5 540.9h0M564.1 543.0h0M559.2 547.8h0M523.0 551.7h0M543.8 551.7h0M608.3 538.4h0M627.9 538.7h0M649.9 539.0h0M593.0 551.3h0M612.4 551.7h0" stroke="#070e3c" stroke-width="3.8"/><path d="M78.4 159.8h0M79.5 163.7h0M74.7 166.1h0M89.0 167.9h0M79.6 173.9h0M84.1 175.1h0M93.9 175.7h0M84.2 152.2h0M99.0 153.6h0M101.8 146.9h0M112.1 158.1h0M147.8 178.9h0M232.0 178.6h0M193.9 146.9h0M203.5 147.5h0M233.0 147.3h0M180.7 162.5h0M162.1 168.8h0M236.2 148.2h0M253.7 164.9h0M303.5 168.9h0M331.9 172.3h0M390.2 167.6h0M411.6 167.3h0M364.7 170.3h0M379.8 173.1h0M391.3 173.1h0M423.1 172.6h0M421.9 177.3h0M432.9 171.8h0M526.9 171.8h0M427.5 175.3h0M448.4 174.5h0M489.8 174.5h0M442.9 176.9h0M484.9 176.4h0M579.9 173.5h0M541.9 176.7h0M648.9 175.3h0M168.6 366.5h0M532.7 366.3h0M215.1 369.7h0M423.4 370.7h0M95.2 327.3h0M91.4 332.3h0M76.6 334.9h0M96.7 333.3h0M77.9 344.2h0M86.7 346.5h0M92.3 353.6h0M77.4 356.2h0M72.7 363.7h0M92.9 364.8h0M107.5 327.2h0M137.5 326.4h0M158.6 327.0h0M167.4 327.3h0M115.1 349.9h0M113.2 355.6h0M132.7 355.3h0M106.9 357.8h0M164.3 340.2h0M168.7 342.4h0M181.4 342.1h0M109.6 348.1h0M134.3 348.1h0M140.3 351.2h0M133.5 362.0h0M157.5 362.0h0M143.8 345.0h0M152.0 307.3h0M142.9 353.1h0M153.8 353.2h0M147.5 356.1h0M142.9 357.5h0M169.0 360.6h0M259.2 335.3h0M295.9 335.1h0M197.9 348.1h0M207.9 347.8h0M229.4 348.8h0M238.9 347.9h0M270.6 348.3h0M290.6 349.0h0M234.8 351.9h0M244.2 352.0h0M306.5 351.9h0M317.5 351.1h0M326.9 350.8h0M296.5 356.5h0M371.2 352.0h0M352.5 351.0h0M407.7 339.2h0M413.4 341.5h0M404.3 346.9h0M408.5 349.4h0M379.5 347.8h0M390.2 355.1h0M360.6 357.6h0M459.5 363.9h0M640.1 365.2h0M80.6 522.7h0M86.0 525.5h0M82.3 529.9h0M92.1 531.1h0M83.1 543.5h0M127.2 529.2h0M121.5 533.2h0M132.3 531.8h0M104.9 540.6h0M158.3 528.6h0M142.1 531.1h0M174.5 531.3h0M157.9 535.0h0M148.5 538.7h0M178.8 538.1h0M146.9 540.5h0M153.0 543.7h0M236.9 524.9h0M243.4 531.8h0M243.5 539.3h0M271.9 529.4h0M314.7 529.3h0M260.9 535.5h0M261.5 539.7h0M272.3 540.3h0M256.5 542.3h0M330.8 543.1h0M369.0 527.2h0M370.7 532.0h0M374.3 539.6h0M384.1 539.6h0M424.2 539.9h0M402.2 530.8h0M453.6 531.8h0M465.1 530.8h0M459.2 542.1h0M483.6 534.5h0M507.3 536.7h0M517.7 535.8h0M522.4 540.1h0M497.3 542.2h0M517.3 542.3h0M548.3 540.3h0M522.5 542.2h0M543.5 541.9h0M585.5 542.4h0M596.9 539.2h0M653.7 542.1h0" stroke="#030514" stroke-width="5.0"/><path d="M78.4 159.8h0M79.5 163.7h0M74.7 166.1h0M89.0 167.9h0M79.6 173.9h0M84.1 175.1h0M93.9 175.7h0M84.2 152.2h0M99.0 153.6h0M101.8 146.9h0M112.1 158.1h0M147.8 178.9h0M232.0 178.6h0M193.9 146.9h0M203.5 147.5h0M233.0 147.3h0M180.7 162.5h0M162.1 168.8h0M236.2 148.2h0M253.7 164.9h0M303.5 168.9h0M331.9 172.3h0M390.2 167.6h0M411.6 167.3h0M364.7 170.3h0M379.8 173.1h0M391.3 173.1h0M423.1 172.6h0M421.9 177.3h0M432.9 171.8h0M526.9 171.8h0M427.5 175.3h0M448.4 174.5h0M489.8 174.5h0M442.9 176.9h0M484.9 176.4h0M579.9 173.5h0M541.9 176.7h0M648.9 175.3h0M168.6 366.5h0M532.7 366.3h0M215.1 369.7h0M423.4 370.7h0M95.2 327.3h0M91.4 332.3h0M76.6 334.9h0M96.7 333.3h0M77.9 344.2h0M86.7 346.5h0M92.3 353.6h0M77.4 356.2h0M72.7 363.7h0M92.9 364.8h0M107.5 327.2h0M137.5 326.4h0M158.6 327.0h0M167.4 327.3h0M115.1 349.9h0M113.2 355.6h0M132.7 355.3h0M106.9 357.8h0M164.3 340.2h0M168.7 342.4h0M181.4 342.1h0M109.6 348.1h0M134.3 348.1h0M140.3 351.2h0M133.5 362.0h0M157.5 362.0h0M143.8 345.0h0M152.0 307.3h0M142.9 353.1h0M153.8 353.2h0M147.5 356.1h0M142.9 357.5h0M169.0 360.6h0M259.2 335.3h0M295.9 335.1h0M197.9 348.1h0M207.9 347.8h0M229.4 348.8h0M238.9 347.9h0M270.6 348.3h0M290.6 349.0h0M234.8 351.9h0M244.2 352.0h0M306.5 351.9h0M317.5 351.1h0M326.9 350.8h0M296.5 356.5h0M371.2 352.0h0M352.5 351.0h0M407.7 339.2h0M413.4 341.5h0M404.3 346.9h0M408.5 349.4h0M379.5 347.8h0M390.2 355.1h0M360.6 357.6h0M459.5 363.9h0M640.1 365.2h0M80.6 522.7h0M86.0 525.5h0M82.3 529.9h0M92.1 531.1h0M83.1 543.5h0M127.2 529.2h0M121.5 533.2h0M132.3 531.8h0M104.9 540.6h0M158.3 528.6h0M142.1 531.1h0M174.5 531.3h0M157.9 535.0h0M148.5 538.7h0M178.8 538.1h0M146.9 540.5h0M153.0 543.7h0M236.9 524.9h0M243.4 531.8h0M243.5 539.3h0M271.9 529.4h0M314.7 529.3h0M260.9 535.5h0M261.5 539.7h0M272.3 540.3h0M256.5 542.3h0M330.8 543.1h0M369.0 527.2h0M370.7 532.0h0M374.3 539.6h0M384.1 539.6h0M424.2 539.9h0M402.2 530.8h0M453.6 531.8h0M465.1 530.8h0M459.2 542.1h0M483.6 534.5h0M507.3 536.7h0M517.7 535.8h0M522.4 540.1h0M497.3 542.2h0M517.3 542.3h0M548.3 540.3h0M522.5 542.2h0M543.5 541.9h0M585.5 542.4h0M596.9 539.2h0M653.7 542.1h0" stroke="#0a1550" stroke-width="3.8"/><path d="M93.4 158.0h0M99.9 173.7h0M201.4 178.7h0M87.3 118.2h0M93.2 122.9h0M90.1 129.9h0M80.8 146.7h0M140.6 143.1h0M134.2 152.3h0M173.7 115.9h0M178.9 128.3h0M201.4 141.9h0M292.2 169.0h0M386.5 154.8h0M359.6 170.2h0M443.7 171.9h0M538.1 171.3h0M425.2 149.9h0M438.5 150.3h0M451.9 150.6h0M465.4 150.5h0M449.1 167.2h0M486.5 153.5h0M498.0 150.9h0M510.0 156.3h0M494.1 164.9h0M506.8 164.6h0M519.6 164.4h0M523.1 171.1h0M525.4 164.5h0M538.1 163.6h0M551.2 163.7h0M562.4 164.4h0M568.8 174.1h0M563.2 177.3h0M619.9 169.1h0M644.8 185.1h0M77.9 346.3h0M73.1 349.6h0M92.3 348.9h0M76.7 351.2h0M87.8 361.8h0M147.8 327.3h0M169.5 326.5h0M139.9 349.0h0M122.4 360.7h0M122.0 343.1h0M151.9 346.4h0M175.1 352.7h0M169.7 360.8h0M152.5 363.2h0M143.8 298.7h0M179.5 302.2h0M96.8 300.9h0M95.5 304.0h0M100.9 311.6h0M94.5 308.5h0M168.6 294.3h0M180.2 294.5h0M319.2 337.0h0M271.5 335.5h0M217.9 348.8h0M332.4 349.0h0M264.4 352.2h0M296.1 352.2h0M358.4 327.1h0M385.0 346.0h0M330.2 351.4h0M408.5 342.5h0M417.3 353.1h0M530.8 307.7h0M540.8 307.9h0M561.2 307.0h0M500.7 312.5h0M514.9 313.4h0M534.3 312.9h0M494.7 330.6h0M526.9 330.4h0M559.4 328.5h0M585.9 330.2h0M518.5 347.4h0M530.3 347.4h0M509.0 353.0h0M570.1 349.3h0M546.5 357.4h0M589.3 363.0h0M601.5 320.3h0M632.5 320.3h0M604.7 362.9h0M84.1 511.9h0M76.9 532.5h0M97.9 533.0h0M136.8 541.4h0M132.5 543.7h0M123.7 503.9h0M133.9 507.4h0M139.4 518.3h0M141.4 507.5h0M199.4 509.7h0M233.0 509.8h0M165.9 518.9h0M177.1 519.1h0M164.9 525.3h0M177.2 524.8h0M190.8 524.8h0M217.7 524.5h0M229.9 525.2h0M200.7 534.0h0M212.7 534.3h0M223.6 533.6h0M261.0 528.8h0M283.2 528.8h0M282.4 540.7h0M261.0 547.4h0M283.4 546.8h0M318.9 542.3h0M348.9 532.4h0M419.5 535.0h0M368.3 543.0h0M373.2 547.1h0M459.6 526.4h0M513.4 522.0h0M497.8 528.3h0M509.1 529.1h0M519.8 529.0h0M474.7 531.6h0M432.5 539.3h0M464.8 540.1h0M530.3 517.6h0M549.5 517.6h0M545.3 522.0h0M550.9 528.6h0M534.7 530.8h0M576.5 534.0h0M587.6 534.9h0M646.7 528.6h0M596.0 534.8h0M604.8 537.2h0" stroke="#070d40" stroke-width="5.0"/><path d="M93.4 158.0h0M99.9 173.7h0M201.4 178.7h0M87.3 118.2h0M93.2 122.9h0M90.1 129.9h0M80.8 146.7h0M140.6 143.1h0M134.2 152.3h0M173.7 115.9h0M178.9 128.3h0M201.4 141.9h0M292.2 169.0h0M386.5 154.8h0M359.6 170.2h0M443.7 171.9h0M538.1 171.3h0M425.2 149.9h0M438.5 150.3h0M451.9 150.6h0M465.4 150.5h0M449.1 167.2h0M486.5 153.5h0M498.0 150.9h0M510.0 156.3h0M494.1 164.9h0M506.8 164.6h0M519.6 164.4h0M523.1 171.1h0M525.4 164.5h0M538.1 163.6h0M551.2 163.7h0M562.4 164.4h0M568.8 174.1h0M563.2 177.3h0M619.9 169.1h0M644.8 185.1h0M77.9 346.3h0M73.1 349.6h0M92.3 348.9h0M76.7 351.2h0M87.8 361.8h0M147.8 327.3h0M169.5 326.5h0M139.9 349.0h0M122.4 360.7h0M122.0 343.1h0M151.9 346.4h0M175.1 352.7h0M169.7 360.8h0M152.5 363.2h0M143.8 298.7h0M179.5 302.2h0M96.8 300.9h0M95.5 304.0h0M100.9 311.6h0M94.5 308.5h0M168.6 294.3h0M180.2 294.5h0M319.2 337.0h0M271.5 335.5h0M217.9 348.8h0M332.4 349.0h0M264.4 352.2h0M296.1 352.2h0M358.4 327.1h0M385.0 346.0h0M330.2 351.4h0M408.5 342.5h0M417.3 353.1h0M530.8 307.7h0M540.8 307.9h0M561.2 307.0h0M500.7 312.5h0M514.9 313.4h0M534.3 312.9h0M494.7 330.6h0M526.9 330.4h0M559.4 328.5h0M585.9 330.2h0M518.5 347.4h0M530.3 347.4h0M509.0 353.0h0M570.1 349.3h0M546.5 357.4h0M589.3 363.0h0M601.5 320.3h0M632.5 320.3h0M604.7 362.9h0M84.1 511.9h0M76.9 532.5h0M97.9 533.0h0M136.8 541.4h0M132.5 543.7h0M123.7 503.9h0M133.9 507.4h0M139.4 518.3h0M141.4 507.5h0M199.4 509.7h0M233.0 509.8h0M165.9 518.9h0M177.1 519.1h0M164.9 525.3h0M177.2 524.8h0M190.8 524.8h0M217.7 524.5h0M229.9 525.2h0M200.7 534.0h0M212.7 534.3h0M223.6 533.6h0M261.0 528.8h0M283.2 528.8h0M282.4 540.7h0M261.0 547.4h0M283.4 546.8h0M318.9 542.3h0M348.9 532.4h0M419.5 535.0h0M368.3 543.0h0M373.2 547.1h0M459.6 526.4h0M513.4 522.0h0M497.8 528.3h0M509.1 529.1h0M519.8 529.0h0M474.7 531.6h0M432.5 539.3h0M464.8 540.1h0M530.3 517.6h0M549.5 517.6h0M545.3 522.0h0M550.9 528.6h0M534.7 530.8h0M576.5 534.0h0M587.6 534.9h0M646.7 528.6h0M596.0 534.8h0M604.8 537.2h0" stroke="#0c1664" stroke-width="3.8"/><path d="M404.6 140.8h0M424.9 150.4h0M421.9 132.0h0M432.9 131.1h0M456.9 131.1h0M469.2 131.8h0M431.9 136.3h0M443.3 136.0h0M454.5 135.8h0M466.0 136.4h0M478.4 136.5h0M415.7 139.6h0M426.7 138.9h0M438.7 139.7h0M449.3 139.5h0M461.2 139.7h0M472.5 139.6h0M484.2 138.8h0M421.3 142.6h0M433.4 142.1h0M444.4 142.1h0M455.6 143.2h0M465.8 142.8h0M477.4 142.7h0M510.9 139.3h0M423.6 316.0h0M418.5 329.7h0M426.2 304.4h0M438.1 303.8h0M461.2 304.1h0M471.4 305.0h0M482.3 304.4h0M429.6 301.6h0M456.4 302.1h0M489.3 306.0h0M417.3 316.6h0M428.3 315.8h0M449.9 317.1h0M471.8 316.6h0M460.4 313.1h0M480.3 319.6h0M494.5 319.0h0M418.0 328.8h0M439.3 337.5h0M453.4 338.0h0M466.4 337.1h0M481.3 337.5h0M453.3 342.6h0M484.2 353.7h0M496.2 355.4h0M443.8 360.6h0M474.5 359.8h0M556.9 294.1h0M646.7 344.5h0M190.3 508.6h0M201.3 508.7h0M210.9 508.6h0M221.3 507.5h0M232.7 507.7h0M189.9 512.5h0M200.8 513.0h0M211.8 512.0h0M221.9 512.9h0M233.6 512.4h0M236.0 516.0h0M238.0 506.0h0M268.6 517.7h0M312.4 520.3h0M352.1 500.6h0M366.1 500.3h0M385.5 485.6h0M401.9 487.7h0M386.7 522.7h0M429.4 527.4h0M368.4 499.1h0M362.8 509.2h0M373.5 508.0h0M368.8 511.9h0M364.0 514.6h0M395.0 476.7h0" stroke="#0a1a5a" stroke-width="5.0"/><path d="M404.6 140.8h0M424.9 150.4h0M421.9 132.0h0M432.9 131.1h0M456.9 131.1h0M469.2 131.8h0M431.9 136.3h0M443.3 136.0h0M454.5 135.8h0M466.0 136.4h0M478.4 136.5h0M415.7 139.6h0M426.7 138.9h0M438.7 139.7h0M449.3 139.5h0M461.2 139.7h0M472.5 139.6h0M484.2 138.8h0M421.3 142.6h0M433.4 142.1h0M444.4 142.1h0M455.6 143.2h0M465.8 142.8h0M477.4 142.7h0M510.9 139.3h0M423.6 316.0h0M418.5 329.7h0M426.2 304.4h0M438.1 303.8h0M461.2 304.1h0M471.4 305.0h0M482.3 304.4h0M429.6 301.6h0M456.4 302.1h0M489.3 306.0h0M417.3 316.6h0M428.3 315.8h0M449.9 317.1h0M471.8 316.6h0M460.4 313.1h0M480.3 319.6h0M494.5 319.0h0M418.0 328.8h0M439.3 337.5h0M453.4 338.0h0M466.4 337.1h0M481.3 337.5h0M453.3 342.6h0M484.2 353.7h0M496.2 355.4h0M443.8 360.6h0M474.5 359.8h0M556.9 294.1h0M646.7 344.5h0M190.3 508.6h0M201.3 508.7h0M210.9 508.6h0M221.3 507.5h0M232.7 507.7h0M189.9 512.5h0M200.8 513.0h0M211.8 512.0h0M221.9 512.9h0M233.6 512.4h0M236.0 516.0h0M238.0 506.0h0M268.6 517.7h0M312.4 520.3h0M352.1 500.6h0M366.1 500.3h0M385.5 485.6h0M401.9 487.7h0M386.7 522.7h0M429.4 527.4h0M368.4 499.1h0M362.8 509.2h0M373.5 508.0h0M368.8 511.9h0M364.0 514.6h0M395.0 476.7h0" stroke="#0f2478" stroke-width="3.8"/><path d="M85.9 187.3h0M95.3 188.4h0M115.2 188.6h0M133.1 187.7h0M142.6 188.7h0M191.0 187.8h0M201.5 188.0h0M210.6 188.0h0M229.2 187.8h0M238.6 188.4h0M248.3 188.5h0M258.7 187.3h0M277.5 187.4h0M286.6 187.5h0M316.7 188.8h0M326.2 187.5h0M335.0 188.7h0M344.4 187.6h0M354.4 187.8h0M402.0 187.3h0M422.6 187.9h0M441.4 188.7h0M470.4 188.6h0M488.6 188.4h0M508.2 188.8h0M518.6 187.8h0M546.6 188.5h0M556.9 188.7h0M585.1 187.3h0M623.3 188.4h0M633.4 187.8h0M651.9 188.6h0M72.0 190.5h0M81.3 190.9h0M110.4 190.3h0M138.4 189.9h0M157.5 190.1h0M186.9 190.6h0M196.5 190.6h0M205.0 189.6h0M224.6 189.8h0M264.3 190.1h0M272.9 190.1h0M282.8 189.2h0M291.6 189.5h0M321.7 190.5h0M359.8 190.0h0M378.7 190.2h0M387.5 190.2h0M397.1 189.6h0M417.8 189.4h0M426.6 189.4h0M446.0 189.5h0M455.7 189.5h0M474.8 190.1h0M484.7 189.2h0M503.3 190.1h0M512.7 190.4h0M552.2 190.6h0M561.8 190.2h0M570.0 190.8h0M590.2 190.9h0M599.4 189.4h0M609.3 190.4h0M619.3 189.3h0M628.6 189.6h0M638.5 189.6h0M646.8 190.3h0M656.7 190.0h0M75.9 192.5h0M95.1 192.0h0M104.2 191.7h0M124.3 191.7h0M133.5 192.8h0M142.9 192.6h0M152.3 192.2h0M163.2 191.8h0M190.9 191.5h0M211.3 192.3h0M249.7 192.3h0M267.7 191.9h0M306.6 192.8h0M326.2 191.9h0M335.7 192.6h0M355.2 191.5h0M373.5 192.1h0M392.5 192.6h0M401.8 192.8h0M451.5 192.3h0M469.7 191.3h0M518.6 191.8h0M527.1 192.7h0M546.0 192.6h0M555.9 192.3h0M575.1 192.6h0M585.5 191.6h0M594.2 192.0h0M603.8 191.8h0M632.5 192.6h0M86.6 158.7h0M82.0 159.9h0M91.3 159.0h0M101.2 159.4h0M87.3 170.3h0M96.8 170.8h0M81.0 173.4h0M100.7 174.0h0M87.3 175.9h0M82.2 178.1h0M91.6 177.7h0M77.6 180.2h0M95.9 180.7h0M81.9 183.1h0M91.2 183.0h0M101.0 183.1h0M134.1 157.4h0M135.1 175.2h0M208.1 176.6h0M230.1 176.1h0M119.0 178.7h0M151.2 178.9h0M161.6 179.1h0M192.7 178.4h0M213.8 178.9h0M162.6 182.8h0M175.3 183.4h0M187.7 183.5h0M233.9 183.0h0M176.4 147.5h0M206.1 147.5h0M176.4 169.1h0M259.0 166.6h0M295.0 169.0h0M251.6 175.0h0M262.7 175.2h0M272.6 174.8h0M282.5 175.7h0M246.6 178.0h0M258.1 177.9h0M289.4 179.2h0M319.7 178.1h0M285.8 182.0h0M296.7 181.8h0M307.6 182.7h0M327.7 182.9h0M357.1 172.5h0M336.0 179.0h0M346.8 178.6h0M356.2 178.9h0M392.6 168.2h0M414.3 168.6h0M388.2 169.7h0M419.6 170.0h0M373.0 172.5h0M414.7 172.5h0M420.5 175.7h0M372.2 176.9h0M394.1 178.1h0M425.3 177.9h0M340.7 183.0h0M360.7 181.8h0M381.6 183.3h0M455.7 171.4h0M497.8 171.6h0M509.6 171.3h0M529.1 172.2h0M450.7 174.5h0M471.9 174.5h0M482.8 174.1h0M504.0 174.2h0M514.7 173.9h0M445.0 177.0h0M455.6 176.4h0M487.8 176.2h0M509.5 177.7h0M519.3 176.7h0M520.0 183.0h0M551.0 173.3h0M570.7 174.7h0M556.0 176.0h0M566.7 175.7h0M550.6 178.9h0M560.0 179.5h0M571.4 179.6h0M581.0 178.5h0M610.5 176.2h0M621.4 175.7h0M631.8 175.7h0M605.8 177.3h0M626.4 177.8h0M646.1 178.2h0M75.6 372.0h0M86.6 373.2h0M104.8 372.4h0M123.5 372.7h0M173.0 372.5h0M191.0 372.6h0M211.2 372.5h0M248.4 372.4h0M267.9 371.8h0M277.9 372.7h0M286.8 372.8h0M307.1 371.8h0M325.0 372.6h0M335.0 371.8h0M344.9 372.5h0M365.0 372.3h0M373.1 371.8h0M384.0 373.1h0M402.3 373.1h0M422.7 372.3h0M440.9 371.8h0M470.0 371.8h0M479.4 372.5h0M499.5 371.8h0M508.1 372.6h0M518.0 372.0h0M526.7 371.8h0M537.9 372.8h0M546.6 371.9h0M565.5 371.8h0M613.8 372.0h0M624.3 372.6h0M632.5 372.2h0M643.3 372.2h0M652.3 372.0h0M71.5 374.7h0M81.9 375.3h0M100.7 374.3h0M109.0 375.4h0M128.9 373.9h0M138.0 374.6h0M177.8 374.8h0M186.9 374.8h0M196.0 374.1h0M205.2 375.0h0M214.8 374.7h0M234.9 375.0h0M243.6 374.2h0M272.8 375.6h0M292.5 375.0h0M311.0 375.3h0M321.5 374.4h0M330.6 375.1h0M350.5 374.5h0M378.3 375.3h0M397.3 374.8h0M407.6 374.7h0M416.5 375.4h0M426.6 375.6h0M445.2 374.7h0M464.7 374.6h0M474.0 375.0h0M494.8 374.4h0M522.3 375.3h0M551.0 374.1h0M560.9 374.5h0M570.7 375.4h0M599.4 374.2h0M609.7 374.1h0M628.3 373.9h0M76.0 378.0h0M85.3 377.1h0M114.5 376.9h0M123.4 376.3h0M133.4 377.5h0M181.0 376.5h0M191.7 376.5h0M211.5 377.1h0M229.8 377.0h0M249.9 377.6h0M258.2 377.8h0M277.6 376.6h0M296.2 377.5h0M326.0 377.1h0M335.7 376.6h0M403.0 377.4h0M441.2 376.3h0M459.6 377.4h0M498.7 377.2h0M518.1 376.3h0M528.2 376.5h0M537.8 377.1h0M556.6 376.3h0M585.7 377.7h0M595.0 376.5h0M623.8 376.7h0M632.8 377.8h0M642.0 377.3h0M71.7 379.2h0M80.8 379.6h0M90.1 380.2h0M109.6 379.5h0M119.4 379.7h0M138.1 379.1h0M148.9 380.2h0M168.2 379.7h0M176.4 379.4h0M195.8 379.3h0M263.1 379.6h0M272.2 378.6h0M292.8 379.8h0M312.3 380.1h0M320.7 380.3h0M331.0 378.9h0M349.1 379.0h0M378.8 380.3h0M408.1 379.9h0M417.2 378.9h0M427.2 378.6h0M436.7 379.1h0M445.7 378.9h0M455.5 380.3h0M464.6 378.8h0M475.0 379.0h0M512.6 379.7h0M522.3 380.1h0M551.4 379.1h0M561.5 379.0h0M571.1 380.2h0M589.7 379.2h0M609.0 380.0h0M637.2 379.4h0M657.2 379.0h0M75.6 381.0h0M113.9 382.5h0M124.2 381.0h0M133.6 382.1h0M161.9 381.1h0M172.1 381.3h0M181.3 381.6h0M210.5 381.3h0M219.7 382.2h0M239.3 381.2h0M258.1 381.9h0M268.2 382.5h0M288.1 382.4h0M297.6 381.6h0M363.5 382.2h0M374.8 381.6h0M412.8 382.4h0M422.7 381.8h0M440.6 382.1h0M470.2 381.2h0M478.7 381.9h0M489.6 382.5h0M498.4 381.6h0M527.1 382.1h0M537.3 381.1h0M556.0 382.2h0M575.4 381.5h0M643.4 381.2h0M653.3 382.1h0M77.5 366.3h0M98.0 366.7h0M129.7 366.3h0M149.1 367.1h0M160.7 367.0h0M170.9 367.5h0M201.9 366.6h0M223.1 366.9h0M232.8 367.2h0M253.2 366.5h0M273.9 367.3h0M285.8 366.5h0M305.0 366.9h0M315.3 366.4h0M337.5 366.3h0M441.4 367.8h0M452.1 366.5h0M513.8 366.6h0M524.7 367.5h0M566.0 366.4h0M586.8 366.9h0M628.0 366.9h0M650.0 366.9h0M660.1 367.4h0M71.6 370.8h0M207.6 371.2h0M248.6 371.0h0M279.6 371.1h0M300.7 370.7h0M311.8 370.8h0M331.3 371.2h0M341.8 370.7h0M394.7 371.2h0M436.4 370.5h0M467.2 370.9h0M519.5 370.3h0M560.0 370.6h0M571.4 371.2h0M84.4 348.2h0M90.2 360.8h0M115.9 354.3h0M135.6 355.0h0M131.6 358.4h0M154.7 340.1h0M177.8 339.0h0M160.5 349.5h0M160.6 361.5h0M172.6 361.4h0M143.2 365.2h0M119.0 369.2h0M207.3 350.6h0M145.6 358.5h0M156.0 358.4h0M325.4 349.3h0M194.5 351.7h0M312.3 356.6h0M249.8 360.6h0M249.7 364.0h0M403.0 332.3h0M358.4 359.7h0M332.5 351.0h0M354.7 351.0h0M410.2 337.8h0M405.0 340.7h0M416.1 340.6h0M405.3 345.1h0M410.7 363.6h0M345.7 360.4h0M430.2 364.3h0M481.2 364.5h0M492.2 364.3h0M499.3 362.8h0M510.2 363.1h0M581.8 371.1h0M591.3 371.6h0M601.9 370.3h0M622.8 371.6h0M632.7 371.4h0M643.9 370.3h0M654.8 370.8h0M585.8 372.6h0M606.7 372.3h0M628.6 372.5h0M638.1 373.1h0M648.7 372.7h0M660.1 373.2h0M623.1 364.3h0M616.6 366.5h0M627.5 366.1h0M637.8 367.2h0M659.4 366.8h0M76.8 556.5h0M86.1 555.9h0M124.4 555.7h0M134.2 555.3h0M144.0 556.1h0M153.8 555.9h0M162.8 556.4h0M172.1 555.9h0M191.3 556.6h0M200.5 556.5h0M211.5 556.0h0M220.3 555.9h0M248.5 556.1h0M268.3 555.3h0M288.1 555.5h0M306.5 555.8h0M335.4 556.2h0M345.6 556.5h0M355.1 555.3h0M411.9 556.2h0M422.1 556.4h0M431.8 556.4h0M442.0 555.3h0M450.1 556.1h0M460.0 555.3h0M469.8 555.4h0M479.8 555.4h0M488.7 555.9h0M498.6 555.3h0M517.9 556.6h0M565.4 556.7h0M585.0 555.9h0M594.0 556.2h0M613.9 555.9h0M651.9 555.3h0M71.3 558.8h0M91.2 558.8h0M100.8 558.4h0M138.4 558.4h0M148.9 558.7h0M158.2 559.3h0M168.3 558.3h0M177.2 558.5h0M234.4 559.1h0M254.2 557.8h0M262.7 559.1h0M292.6 558.2h0M302.0 558.2h0M311.7 558.7h0M321.2 558.2h0M349.4 558.6h0M360.1 558.4h0M369.6 557.8h0M377.8 558.2h0M408.4 558.6h0M416.9 557.9h0M426.1 559.0h0M437.0 557.9h0M456.3 558.1h0M464.3 558.3h0M484.9 558.5h0M493.4 558.9h0M504.2 558.8h0M523.3 557.8h0M532.7 558.0h0M561.6 559.2h0M571.0 558.6h0M628.9 557.9h0M638.9 559.4h0M647.5 559.2h0M657.0 559.5h0M85.0 562.0h0M104.2 561.0h0M134.6 560.5h0M142.7 561.5h0M152.6 561.6h0M171.7 561.6h0M191.2 560.5h0M229.8 561.8h0M258.9 562.0h0M287.6 562.0h0M296.9 561.7h0M306.0 560.6h0M354.1 561.3h0M363.7 560.5h0M383.7 561.0h0M402.7 562.0h0M412.7 562.0h0M432.2 562.0h0M441.7 560.8h0M460.5 561.5h0M490.0 561.8h0M498.3 561.6h0M507.8 561.2h0M527.4 560.9h0M536.9 561.8h0M546.8 560.7h0M556.1 561.8h0M566.1 560.5h0M585.7 561.5h0M594.7 562.0h0M604.6 561.3h0M614.4 560.8h0M623.2 561.9h0M633.5 562.0h0M652.2 560.7h0M79.2 532.4h0M95.9 536.2h0M78.6 538.0h0M90.5 537.3h0M79.8 541.8h0M100.5 542.4h0M86.3 544.0h0M85.8 548.4h0M76.4 554.0h0M124.8 543.6h0M107.4 545.7h0M119.1 545.2h0M129.6 545.2h0M107.5 550.9h0M139.4 550.3h0M163.4 546.2h0M203.7 545.2h0M217.4 544.4h0M229.6 543.5h0M160.4 546.8h0M212.1 548.0h0M232.6 547.5h0M144.6 551.7h0M155.2 551.2h0M186.6 551.2h0M207.1 550.2h0M237.7 550.4h0M149.7 540.8h0M156.0 543.1h0M150.5 545.0h0M251.3 525.2h0M240.8 541.8h0M245.5 547.9h0M307.4 529.9h0M264.2 535.7h0M306.1 540.1h0M280.6 542.7h0M259.7 550.6h0M268.8 550.8h0M327.4 540.0h0M337.9 540.6h0M327.3 547.2h0M350.7 533.2h0M362.5 531.9h0M355.7 532.8h0M402.3 535.7h0M344.6 539.3h0M355.3 540.3h0M365.9 539.4h0M418.1 540.5h0M428.0 540.8h0M339.3 542.0h0M350.9 543.2h0M412.3 542.3h0M376.2 547.0h0M396.4 546.8h0M407.3 547.3h0M371.0 551.2h0M411.5 550.3h0M434.6 530.8h0M466.5 530.8h0M473.1 535.3h0M466.5 539.8h0M441.6 542.0h0M472.8 543.0h0M456.3 547.5h0M466.8 546.9h0M430.9 551.4h0M487.1 535.1h0M520.7 541.9h0M504.3 550.4h0M538.2 534.0h0M523.0 537.3h0M561.8 538.2h0M550.6 539.8h0M562.7 540.9h0M583.1 541.1h0M525.0 542.8h0M536.4 542.6h0M545.5 543.2h0M577.4 542.4h0M541.4 547.4h0M561.6 546.8h0M583.7 548.1h0M594.1 547.3h0M525.8 551.7h0M534.7 550.7h0M546.1 551.2h0M556.4 551.3h0M567.4 550.5h0M587.6 551.2h0M621.3 538.5h0M625.3 541.8h0M611.0 548.2h0M620.3 547.4h0M651.9 546.8h0M636.7 550.9h0M647.1 551.7h0M657.3 551.0h0" stroke="#01020a" stroke-width="5.0"/><path d="M85.9 187.3h0M95.3 188.4h0M115.2 188.6h0M133.1 187.7h0M142.6 188.7h0M191.0 187.8h0M201.5 188.0h0M210.6 188.0h0M229.2 187.8h0M238.6 188.4h0M248.3 188.5h0M258.7 187.3h0M277.5 187.4h0M286.6 187.5h0M316.7 188.8h0M326.2 187.5h0M335.0 188.7h0M344.4 187.6h0M354.4 187.8h0M402.0 187.3h0M422.6 187.9h0M441.4 188.7h0M470.4 188.6h0M488.6 188.4h0M508.2 188.8h0M518.6 187.8h0M546.6 188.5h0M556.9 188.7h0M585.1 187.3h0M623.3 188.4h0M633.4 187.8h0M651.9 188.6h0M72.0 190.5h0M81.3 190.9h0M110.4 190.3h0M138.4 189.9h0M157.5 190.1h0M186.9 190.6h0M196.5 190.6h0M205.0 189.6h0M224.6 189.8h0M264.3 190.1h0M272.9 190.1h0M282.8 189.2h0M291.6 189.5h0M321.7 190.5h0M359.8 190.0h0M378.7 190.2h0M387.5 190.2h0M397.1 189.6h0M417.8 189.4h0M426.6 189.4h0M446.0 189.5h0M455.7 189.5h0M474.8 190.1h0M484.7 189.2h0M503.3 190.1h0M512.7 190.4h0M552.2 190.6h0M561.8 190.2h0M570.0 190.8h0M590.2 190.9h0M599.4 189.4h0M609.3 190.4h0M619.3 189.3h0M628.6 189.6h0M638.5 189.6h0M646.8 190.3h0M656.7 190.0h0M75.9 192.5h0M95.1 192.0h0M104.2 191.7h0M124.3 191.7h0M133.5 192.8h0M142.9 192.6h0M152.3 192.2h0M163.2 191.8h0M190.9 191.5h0M211.3 192.3h0M249.7 192.3h0M267.7 191.9h0M306.6 192.8h0M326.2 191.9h0M335.7 192.6h0M355.2 191.5h0M373.5 192.1h0M392.5 192.6h0M401.8 192.8h0M451.5 192.3h0M469.7 191.3h0M518.6 191.8h0M527.1 192.7h0M546.0 192.6h0M555.9 192.3h0M575.1 192.6h0M585.5 191.6h0M594.2 192.0h0M603.8 191.8h0M632.5 192.6h0M86.6 158.7h0M82.0 159.9h0M91.3 159.0h0M101.2 159.4h0M87.3 170.3h0M96.8 170.8h0M81.0 173.4h0M100.7 174.0h0M87.3 175.9h0M82.2 178.1h0M91.6 177.7h0M77.6 180.2h0M95.9 180.7h0M81.9 183.1h0M91.2 183.0h0M101.0 183.1h0M134.1 157.4h0M135.1 175.2h0M208.1 176.6h0M230.1 176.1h0M119.0 178.7h0M151.2 178.9h0M161.6 179.1h0M192.7 178.4h0M213.8 178.9h0M162.6 182.8h0M175.3 183.4h0M187.7 183.5h0M233.9 183.0h0M176.4 147.5h0M206.1 147.5h0M176.4 169.1h0M259.0 166.6h0M295.0 169.0h0M251.6 175.0h0M262.7 175.2h0M272.6 174.8h0M282.5 175.7h0M246.6 178.0h0M258.1 177.9h0M289.4 179.2h0M319.7 178.1h0M285.8 182.0h0M296.7 181.8h0M307.6 182.7h0M327.7 182.9h0M357.1 172.5h0M336.0 179.0h0M346.8 178.6h0M356.2 178.9h0M392.6 168.2h0M414.3 168.6h0M388.2 169.7h0M419.6 170.0h0M373.0 172.5h0M414.7 172.5h0M420.5 175.7h0M372.2 176.9h0M394.1 178.1h0M425.3 177.9h0M340.7 183.0h0M360.7 181.8h0M381.6 183.3h0M455.7 171.4h0M497.8 171.6h0M509.6 171.3h0M529.1 172.2h0M450.7 174.5h0M471.9 174.5h0M482.8 174.1h0M504.0 174.2h0M514.7 173.9h0M445.0 177.0h0M455.6 176.4h0M487.8 176.2h0M509.5 177.7h0M519.3 176.7h0M520.0 183.0h0M551.0 173.3h0M570.7 174.7h0M556.0 176.0h0M566.7 175.7h0M550.6 178.9h0M560.0 179.5h0M571.4 179.6h0M581.0 178.5h0M610.5 176.2h0M621.4 175.7h0M631.8 175.7h0M605.8 177.3h0M626.4 177.8h0M646.1 178.2h0M75.6 372.0h0M86.6 373.2h0M104.8 372.4h0M123.5 372.7h0M173.0 372.5h0M191.0 372.6h0M211.2 372.5h0M248.4 372.4h0M267.9 371.8h0M277.9 372.7h0M286.8 372.8h0M307.1 371.8h0M325.0 372.6h0M335.0 371.8h0M344.9 372.5h0M365.0 372.3h0M373.1 371.8h0M384.0 373.1h0M402.3 373.1h0M422.7 372.3h0M440.9 371.8h0M470.0 371.8h0M479.4 372.5h0M499.5 371.8h0M508.1 372.6h0M518.0 372.0h0M526.7 371.8h0M537.9 372.8h0M546.6 371.9h0M565.5 371.8h0M613.8 372.0h0M624.3 372.6h0M632.5 372.2h0M643.3 372.2h0M652.3 372.0h0M71.5 374.7h0M81.9 375.3h0M100.7 374.3h0M109.0 375.4h0M128.9 373.9h0M138.0 374.6h0M177.8 374.8h0M186.9 374.8h0M196.0 374.1h0M205.2 375.0h0M214.8 374.7h0M234.9 375.0h0M243.6 374.2h0M272.8 375.6h0M292.5 375.0h0M311.0 375.3h0M321.5 374.4h0M330.6 375.1h0M350.5 374.5h0M378.3 375.3h0M397.3 374.8h0M407.6 374.7h0M416.5 375.4h0M426.6 375.6h0M445.2 374.7h0M464.7 374.6h0M474.0 375.0h0M494.8 374.4h0M522.3 375.3h0M551.0 374.1h0M560.9 374.5h0M570.7 375.4h0M599.4 374.2h0M609.7 374.1h0M628.3 373.9h0M76.0 378.0h0M85.3 377.1h0M114.5 376.9h0M123.4 376.3h0M133.4 377.5h0M181.0 376.5h0M191.7 376.5h0M211.5 377.1h0M229.8 377.0h0M249.9 377.6h0M258.2 377.8h0M277.6 376.6h0M296.2 377.5h0M326.0 377.1h0M335.7 376.6h0M403.0 377.4h0M441.2 376.3h0M459.6 377.4h0M498.7 377.2h0M518.1 376.3h0M528.2 376.5h0M537.8 377.1h0M556.6 376.3h0M585.7 377.7h0M595.0 376.5h0M623.8 376.7h0M632.8 377.8h0M642.0 377.3h0M71.7 379.2h0M80.8 379.6h0M90.1 380.2h0M109.6 379.5h0M119.4 379.7h0M138.1 379.1h0M148.9 380.2h0M168.2 379.7h0M176.4 379.4h0M195.8 379.3h0M263.1 379.6h0M272.2 378.6h0M292.8 379.8h0M312.3 380.1h0M320.7 380.3h0M331.0 378.9h0M349.1 379.0h0M378.8 380.3h0M408.1 379.9h0M417.2 378.9h0M427.2 378.6h0M436.7 379.1h0M445.7 378.9h0M455.5 380.3h0M464.6 378.8h0M475.0 379.0h0M512.6 379.7h0M522.3 380.1h0M551.4 379.1h0M561.5 379.0h0M571.1 380.2h0M589.7 379.2h0M609.0 380.0h0M637.2 379.4h0M657.2 379.0h0M75.6 381.0h0M113.9 382.5h0M124.2 381.0h0M133.6 382.1h0M161.9 381.1h0M172.1 381.3h0M181.3 381.6h0M210.5 381.3h0M219.7 382.2h0M239.3 381.2h0M258.1 381.9h0M268.2 382.5h0M288.1 382.4h0M297.6 381.6h0M363.5 382.2h0M374.8 381.6h0M412.8 382.4h0M422.7 381.8h0M440.6 382.1h0M470.2 381.2h0M478.7 381.9h0M489.6 382.5h0M498.4 381.6h0M527.1 382.1h0M537.3 381.1h0M556.0 382.2h0M575.4 381.5h0M643.4 381.2h0M653.3 382.1h0M77.5 366.3h0M98.0 366.7h0M129.7 366.3h0M149.1 367.1h0M160.7 367.0h0M170.9 367.5h0M201.9 366.6h0M223.1 366.9h0M232.8 367.2h0M253.2 366.5h0M273.9 367.3h0M285.8 366.5h0M305.0 366.9h0M315.3 366.4h0M337.5 366.3h0M441.4 367.8h0M452.1 366.5h0M513.8 366.6h0M524.7 367.5h0M566.0 366.4h0M586.8 366.9h0M628.0 366.9h0M650.0 366.9h0M660.1 367.4h0M71.6 370.8h0M207.6 371.2h0M248.6 371.0h0M279.6 371.1h0M300.7 370.7h0M311.8 370.8h0M331.3 371.2h0M341.8 370.7h0M394.7 371.2h0M436.4 370.5h0M467.2 370.9h0M519.5 370.3h0M560.0 370.6h0M571.4 371.2h0M84.4 348.2h0M90.2 360.8h0M115.9 354.3h0M135.6 355.0h0M131.6 358.4h0M154.7 340.1h0M177.8 339.0h0M160.5 349.5h0M160.6 361.5h0M172.6 361.4h0M143.2 365.2h0M119.0 369.2h0M207.3 350.6h0M145.6 358.5h0M156.0 358.4h0M325.4 349.3h0M194.5 351.7h0M312.3 356.6h0M249.8 360.6h0M249.7 364.0h0M403.0 332.3h0M358.4 359.7h0M332.5 351.0h0M354.7 351.0h0M410.2 337.8h0M405.0 340.7h0M416.1 340.6h0M405.3 345.1h0M410.7 363.6h0M345.7 360.4h0M430.2 364.3h0M481.2 364.5h0M492.2 364.3h0M499.3 362.8h0M510.2 363.1h0M581.8 371.1h0M591.3 371.6h0M601.9 370.3h0M622.8 371.6h0M632.7 371.4h0M643.9 370.3h0M654.8 370.8h0M585.8 372.6h0M606.7 372.3h0M628.6 372.5h0M638.1 373.1h0M648.7 372.7h0M660.1 373.2h0M623.1 364.3h0M616.6 366.5h0M627.5 366.1h0M637.8 367.2h0M659.4 366.8h0M76.8 556.5h0M86.1 555.9h0M124.4 555.7h0M134.2 555.3h0M144.0 556.1h0M153.8 555.9h0M162.8 556.4h0M172.1 555.9h0M191.3 556.6h0M200.5 556.5h0M211.5 556.0h0M220.3 555.9h0M248.5 556.1h0M268.3 555.3h0M288.1 555.5h0M306.5 555.8h0M335.4 556.2h0M345.6 556.5h0M355.1 555.3h0M411.9 556.2h0M422.1 556.4h0M431.8 556.4h0M442.0 555.3h0M450.1 556.1h0M460.0 555.3h0M469.8 555.4h0M479.8 555.4h0M488.7 555.9h0M498.6 555.3h0M517.9 556.6h0M565.4 556.7h0M585.0 555.9h0M594.0 556.2h0M613.9 555.9h0M651.9 555.3h0M71.3 558.8h0M91.2 558.8h0M100.8 558.4h0M138.4 558.4h0M148.9 558.7h0M158.2 559.3h0M168.3 558.3h0M177.2 558.5h0M234.4 559.1h0M254.2 557.8h0M262.7 559.1h0M292.6 558.2h0M302.0 558.2h0M311.7 558.7h0M321.2 558.2h0M349.4 558.6h0M360.1 558.4h0M369.6 557.8h0M377.8 558.2h0M408.4 558.6h0M416.9 557.9h0M426.1 559.0h0M437.0 557.9h0M456.3 558.1h0M464.3 558.3h0M484.9 558.5h0M493.4 558.9h0M504.2 558.8h0M523.3 557.8h0M532.7 558.0h0M561.6 559.2h0M571.0 558.6h0M628.9 557.9h0M638.9 559.4h0M647.5 559.2h0M657.0 559.5h0M85.0 562.0h0M104.2 561.0h0M134.6 560.5h0M142.7 561.5h0M152.6 561.6h0M171.7 561.6h0M191.2 560.5h0M229.8 561.8h0M258.9 562.0h0M287.6 562.0h0M296.9 561.7h0M306.0 560.6h0M354.1 561.3h0M363.7 560.5h0M383.7 561.0h0M402.7 562.0h0M412.7 562.0h0M432.2 562.0h0M441.7 560.8h0M460.5 561.5h0M490.0 561.8h0M498.3 561.6h0M507.8 561.2h0M527.4 560.9h0M536.9 561.8h0M546.8 560.7h0M556.1 561.8h0M566.1 560.5h0M585.7 561.5h0M594.7 562.0h0M604.6 561.3h0M614.4 560.8h0M623.2 561.9h0M633.5 562.0h0M652.2 560.7h0M79.2 532.4h0M95.9 536.2h0M78.6 538.0h0M90.5 537.3h0M79.8 541.8h0M100.5 542.4h0M86.3 544.0h0M85.8 548.4h0M76.4 554.0h0M124.8 543.6h0M107.4 545.7h0M119.1 545.2h0M129.6 545.2h0M107.5 550.9h0M139.4 550.3h0M163.4 546.2h0M203.7 545.2h0M217.4 544.4h0M229.6 543.5h0M160.4 546.8h0M212.1 548.0h0M232.6 547.5h0M144.6 551.7h0M155.2 551.2h0M186.6 551.2h0M207.1 550.2h0M237.7 550.4h0M149.7 540.8h0M156.0 543.1h0M150.5 545.0h0M251.3 525.2h0M240.8 541.8h0M245.5 547.9h0M307.4 529.9h0M264.2 535.7h0M306.1 540.1h0M280.6 542.7h0M259.7 550.6h0M268.8 550.8h0M327.4 540.0h0M337.9 540.6h0M327.3 547.2h0M350.7 533.2h0M362.5 531.9h0M355.7 532.8h0M402.3 535.7h0M344.6 539.3h0M355.3 540.3h0M365.9 539.4h0M418.1 540.5h0M428.0 540.8h0M339.3 542.0h0M350.9 543.2h0M412.3 542.3h0M376.2 547.0h0M396.4 546.8h0M407.3 547.3h0M371.0 551.2h0M411.5 550.3h0M434.6 530.8h0M466.5 530.8h0M473.1 535.3h0M466.5 539.8h0M441.6 542.0h0M472.8 543.0h0M456.3 547.5h0M466.8 546.9h0M430.9 551.4h0M487.1 535.1h0M520.7 541.9h0M504.3 550.4h0M538.2 534.0h0M523.0 537.3h0M561.8 538.2h0M550.6 539.8h0M562.7 540.9h0M583.1 541.1h0M525.0 542.8h0M536.4 542.6h0M545.5 543.2h0M577.4 542.4h0M541.4 547.4h0M561.6 546.8h0M583.7 548.1h0M594.1 547.3h0M525.8 551.7h0M534.7 550.7h0M546.1 551.2h0M556.4 551.3h0M567.4 550.5h0M587.6 551.2h0M621.3 538.5h0M625.3 541.8h0M611.0 548.2h0M620.3 547.4h0M651.9 546.8h0M636.7 550.9h0M647.1 551.7h0M657.3 551.0h0" stroke="#03051c" stroke-width="3.8"/><path d="M76.4 188.7h0M105.3 188.8h0M124.2 188.1h0M219.5 188.2h0M296.3 188.5h0M306.0 188.5h0M364.7 187.3h0M374.2 187.5h0M383.6 188.6h0M393.9 188.5h0M411.6 187.5h0M431.2 187.8h0M450.2 188.7h0M460.1 188.5h0M498.3 187.8h0M526.7 187.6h0M566.6 187.3h0M576.2 187.3h0M604.8 187.3h0M613.3 188.0h0M91.2 190.4h0M100.5 190.4h0M119.3 189.9h0M129.0 190.0h0M147.9 189.4h0M166.6 189.9h0M177.4 190.7h0M215.7 190.0h0M235.2 189.4h0M244.8 190.4h0M253.9 190.1h0M301.2 190.6h0M310.6 189.2h0M329.9 189.8h0M340.9 189.7h0M350.6 189.2h0M369.5 189.8h0M407.2 190.2h0M464.5 189.8h0M532.6 189.5h0M542.8 189.7h0M580.2 189.8h0M85.0 192.5h0M115.4 192.5h0M172.4 192.4h0M182.2 191.3h0M201.9 192.2h0M220.3 192.6h0M230.3 191.5h0M239.2 192.7h0M258.7 192.8h0M287.1 192.7h0M297.0 192.1h0M345.6 191.9h0M364.5 191.9h0M382.9 192.5h0M422.3 192.8h0M431.0 191.5h0M441.6 192.0h0M459.6 191.9h0M479.4 192.0h0M499.1 192.3h0M509.2 192.8h0M537.7 192.2h0M565.9 192.8h0M614.6 191.9h0M643.4 192.7h0M652.4 192.8h0M71.6 159.5h0M101.1 167.6h0M91.5 174.0h0M86.3 181.9h0M86.9 151.4h0M102.1 153.8h0M90.2 148.1h0M100.8 149.2h0M124.4 176.3h0M145.4 176.1h0M129.9 179.2h0M171.2 178.1h0M182.4 178.8h0M202.6 178.8h0M224.7 178.7h0M234.3 178.4h0M127.5 184.1h0M198.4 183.1h0M236.8 147.3h0M164.7 168.6h0M254.4 155.5h0M329.0 173.4h0M260.0 168.7h0M303.7 174.3h0M278.0 178.2h0M298.1 178.6h0M310.1 178.5h0M265.6 182.3h0M373.5 163.8h0M351.7 169.4h0M340.6 175.6h0M424.2 167.9h0M398.4 170.9h0M404.4 172.8h0M366.4 175.9h0M378.0 175.3h0M403.4 177.4h0M413.6 178.2h0M349.8 182.9h0M392.2 182.5h0M435.7 171.8h0M445.4 171.7h0M487.8 172.2h0M492.1 174.3h0M534.7 174.2h0M498.6 176.5h0M439.0 182.0h0M560.3 173.3h0M652.0 175.5h0M588.3 183.9h0M114.5 372.6h0M133.7 373.1h0M142.8 372.7h0M152.9 373.1h0M181.5 373.3h0M220.4 372.4h0M230.2 371.8h0M240.2 373.0h0M257.8 372.3h0M297.9 373.3h0M315.8 372.8h0M354.0 372.0h0M460.9 372.1h0M575.1 371.9h0M585.5 372.3h0M594.9 371.8h0M604.0 372.1h0M90.3 375.4h0M119.3 374.4h0M148.0 374.3h0M157.2 375.5h0M254.6 375.4h0M264.2 374.4h0M283.1 374.0h0M301.5 373.9h0M340.1 374.4h0M358.8 374.8h0M368.4 375.6h0M387.9 374.6h0M435.5 374.9h0M455.2 374.2h0M483.9 374.3h0M513.5 374.9h0M531.7 374.4h0M541.1 373.9h0M579.6 374.2h0M638.3 374.3h0M143.6 377.9h0M163.4 377.2h0M171.5 376.8h0M201.6 376.6h0M219.5 377.4h0M240.0 376.5h0M268.7 376.6h0M286.6 378.0h0M316.4 377.6h0M345.8 376.4h0M355.3 376.4h0M363.9 378.0h0M383.0 377.6h0M393.8 377.4h0M431.6 377.4h0M450.7 377.2h0M470.5 376.4h0M489.3 378.0h0M507.6 376.9h0M604.7 376.9h0M651.6 376.7h0M99.9 378.8h0M129.4 380.1h0M158.4 379.2h0M214.9 380.4h0M244.9 379.4h0M254.1 380.3h0M341.2 380.4h0M358.7 378.8h0M397.5 379.5h0M494.0 379.9h0M502.7 379.5h0M542.7 380.3h0M598.7 379.7h0M618.3 379.5h0M648.0 379.5h0M85.5 382.1h0M105.5 381.5h0M143.0 381.2h0M153.1 382.5h0M200.6 381.0h0M249.2 381.9h0M277.7 382.5h0M307.2 382.2h0M325.6 381.7h0M335.2 381.4h0M346.0 381.6h0M354.0 381.0h0M383.3 381.5h0M392.8 381.2h0M402.5 382.5h0M432.4 382.5h0M449.9 382.5h0M518.4 381.8h0M566.1 382.4h0M584.7 381.2h0M604.7 381.7h0M613.5 381.7h0M622.9 382.0h0M633.9 381.0h0M180.4 367.1h0M243.0 367.7h0M295.6 366.9h0M347.6 367.2h0M357.2 366.3h0M367.7 366.8h0M379.1 367.0h0M462.5 367.4h0M483.6 367.3h0M555.5 366.9h0M597.5 366.6h0M102.4 370.2h0M113.7 370.3h0M123.6 370.7h0M155.7 371.2h0M166.0 369.8h0M175.2 371.2h0M228.0 371.2h0M238.6 370.0h0M258.8 369.9h0M290.5 370.9h0M351.9 370.0h0M403.7 370.7h0M426.2 370.6h0M477.3 371.2h0M497.8 369.8h0M508.3 369.7h0M530.0 370.3h0M602.0 370.6h0M623.9 371.2h0M95.6 318.8h0M89.9 323.2h0M102.0 326.1h0M100.0 329.3h0M90.4 334.5h0M104.8 336.7h0M79.2 343.2h0M99.7 343.1h0M100.1 347.1h0M79.5 356.8h0M90.0 355.8h0M99.6 356.8h0M74.3 363.4h0M85.1 364.9h0M104.3 364.7h0M100.3 366.2h0M69.2 327.0h0M176.0 330.0h0M184.3 354.7h0M165.8 357.5h0M179.3 358.4h0M179.8 334.8h0M149.9 356.4h0M160.7 361.8h0M166.6 362.8h0M171.8 360.3h0M252.2 344.3h0M335.6 348.5h0M225.9 351.9h0M267.2 350.9h0M329.1 351.7h0M240.6 354.6h0M246.1 362.6h0M239.7 364.0h0M414.9 345.7h0M405.0 351.3h0M421.1 354.4h0M377.0 350.8h0M377.4 358.0h0M461.8 363.9h0M505.1 360.9h0M575.8 372.5h0M597.2 372.5h0M644.2 365.4h0M653.4 365.0h0M648.9 366.2h0M114.6 556.8h0M181.9 555.4h0M230.5 555.5h0M239.0 555.3h0M258.4 556.2h0M278.0 555.5h0M316.3 555.6h0M325.4 555.9h0M393.6 556.6h0M508.6 556.1h0M537.7 555.4h0M547.5 555.6h0M555.9 555.3h0M575.2 555.6h0M604.7 556.1h0M643.4 556.8h0M109.9 558.6h0M119.8 558.3h0M186.5 559.5h0M196.1 558.8h0M206.4 558.8h0M215.0 558.7h0M225.6 559.5h0M329.9 558.1h0M339.6 558.8h0M388.9 558.5h0M445.5 559.5h0M475.6 558.3h0M513.6 558.2h0M542.2 559.2h0M551.3 559.1h0M580.0 558.0h0M590.0 558.6h0M599.5 558.6h0M609.6 557.9h0M618.2 558.8h0M76.7 561.3h0M200.7 561.6h0M220.6 561.9h0M249.6 562.0h0M268.0 561.2h0M277.3 561.5h0M315.9 561.4h0M325.4 561.5h0M335.1 560.8h0M345.3 561.3h0M393.5 562.0h0M517.3 560.8h0M576.2 561.4h0M641.9 562.0h0M88.4 525.7h0M82.9 527.0h0M71.6 546.5h0M81.2 546.1h0M91.0 545.8h0M101.0 546.5h0M75.8 548.5h0M80.9 550.2h0M91.6 551.5h0M95.7 553.0h0M69.5 526.7h0M123.6 527.4h0M134.7 526.9h0M107.5 530.2h0M118.9 530.5h0M114.1 532.4h0M113.0 537.8h0M135.3 537.8h0M130.2 541.1h0M134.3 542.6h0M134.8 548.9h0M119.3 550.5h0M144.7 532.1h0M176.6 532.1h0M188.1 531.9h0M183.0 534.4h0M182.5 538.0h0M170.6 546.8h0M180.2 546.9h0M175.3 550.5h0M217.3 551.3h0M145.6 543.7h0M251.1 530.8h0M239.4 534.8h0M252.1 541.8h0M239.6 551.5h0M251.4 550.2h0M296.0 540.7h0M290.0 543.2h0M295.3 546.8h0M306.7 546.8h0M280.6 550.8h0M301.4 551.7h0M339.1 534.5h0M338.6 548.1h0M322.7 551.1h0M351.6 527.9h0M367.3 530.3h0M365.3 533.8h0M386.0 534.2h0M351.1 534.3h0M386.9 539.9h0M396.3 540.5h0M406.4 539.8h0M360.7 542.4h0M391.3 543.2h0M345.5 547.8h0M365.6 547.2h0M386.7 546.8h0M427.7 547.1h0M340.0 550.9h0M350.5 551.4h0M392.0 551.5h0M422.4 551.7h0M445.9 531.2h0M456.3 531.0h0M457.1 540.2h0M477.1 547.1h0M451.8 550.5h0M461.8 550.8h0M473.5 551.2h0M487.1 550.5h0M509.7 542.2h0M498.4 546.8h0M519.5 546.8h0M494.8 551.4h0M523.5 530.4h0M528.9 535.1h0M530.4 541.1h0M572.9 540.6h0M556.8 541.8h0M587.4 542.5h0M529.9 547.6h0M599.3 538.3h0M651.1 538.3h0M615.6 541.7h0M636.4 542.2h0M599.5 548.0h0M595.4 550.5h0M606.0 550.9h0M614.9 550.7h0M626.9 551.3h0" stroke="#01020a" stroke-width="5.0"/><path d="M76.4 188.7h0M105.3 188.8h0M124.2 188.1h0M219.5 188.2h0M296.3 188.5h0M306.0 188.5h0M364.7 187.3h0M374.2 187.5h0M383.6 188.6h0M393.9 188.5h0M411.6 187.5h0M431.2 187.8h0M450.2 188.7h0M460.1 188.5h0M498.3 187.8h0M526.7 187.6h0M566.6 187.3h0M576.2 187.3h0M604.8 187.3h0M613.3 188.0h0M91.2 190.4h0M100.5 190.4h0M119.3 189.9h0M129.0 190.0h0M147.9 189.4h0M166.6 189.9h0M177.4 190.7h0M215.7 190.0h0M235.2 189.4h0M244.8 190.4h0M253.9 190.1h0M301.2 190.6h0M310.6 189.2h0M329.9 189.8h0M340.9 189.7h0M350.6 189.2h0M369.5 189.8h0M407.2 190.2h0M464.5 189.8h0M532.6 189.5h0M542.8 189.7h0M580.2 189.8h0M85.0 192.5h0M115.4 192.5h0M172.4 192.4h0M182.2 191.3h0M201.9 192.2h0M220.3 192.6h0M230.3 191.5h0M239.2 192.7h0M258.7 192.8h0M287.1 192.7h0M297.0 192.1h0M345.6 191.9h0M364.5 191.9h0M382.9 192.5h0M422.3 192.8h0M431.0 191.5h0M441.6 192.0h0M459.6 191.9h0M479.4 192.0h0M499.1 192.3h0M509.2 192.8h0M537.7 192.2h0M565.9 192.8h0M614.6 191.9h0M643.4 192.7h0M652.4 192.8h0M71.6 159.5h0M101.1 167.6h0M91.5 174.0h0M86.3 181.9h0M86.9 151.4h0M102.1 153.8h0M90.2 148.1h0M100.8 149.2h0M124.4 176.3h0M145.4 176.1h0M129.9 179.2h0M171.2 178.1h0M182.4 178.8h0M202.6 178.8h0M224.7 178.7h0M234.3 178.4h0M127.5 184.1h0M198.4 183.1h0M236.8 147.3h0M164.7 168.6h0M254.4 155.5h0M329.0 173.4h0M260.0 168.7h0M303.7 174.3h0M278.0 178.2h0M298.1 178.6h0M310.1 178.5h0M265.6 182.3h0M373.5 163.8h0M351.7 169.4h0M340.6 175.6h0M424.2 167.9h0M398.4 170.9h0M404.4 172.8h0M366.4 175.9h0M378.0 175.3h0M403.4 177.4h0M413.6 178.2h0M349.8 182.9h0M392.2 182.5h0M435.7 171.8h0M445.4 171.7h0M487.8 172.2h0M492.1 174.3h0M534.7 174.2h0M498.6 176.5h0M439.0 182.0h0M560.3 173.3h0M652.0 175.5h0M588.3 183.9h0M114.5 372.6h0M133.7 373.1h0M142.8 372.7h0M152.9 373.1h0M181.5 373.3h0M220.4 372.4h0M230.2 371.8h0M240.2 373.0h0M257.8 372.3h0M297.9 373.3h0M315.8 372.8h0M354.0 372.0h0M460.9 372.1h0M575.1 371.9h0M585.5 372.3h0M594.9 371.8h0M604.0 372.1h0M90.3 375.4h0M119.3 374.4h0M148.0 374.3h0M157.2 375.5h0M254.6 375.4h0M264.2 374.4h0M283.1 374.0h0M301.5 373.9h0M340.1 374.4h0M358.8 374.8h0M368.4 375.6h0M387.9 374.6h0M435.5 374.9h0M455.2 374.2h0M483.9 374.3h0M513.5 374.9h0M531.7 374.4h0M541.1 373.9h0M579.6 374.2h0M638.3 374.3h0M143.6 377.9h0M163.4 377.2h0M171.5 376.8h0M201.6 376.6h0M219.5 377.4h0M240.0 376.5h0M268.7 376.6h0M286.6 378.0h0M316.4 377.6h0M345.8 376.4h0M355.3 376.4h0M363.9 378.0h0M383.0 377.6h0M393.8 377.4h0M431.6 377.4h0M450.7 377.2h0M470.5 376.4h0M489.3 378.0h0M507.6 376.9h0M604.7 376.9h0M651.6 376.7h0M99.9 378.8h0M129.4 380.1h0M158.4 379.2h0M214.9 380.4h0M244.9 379.4h0M254.1 380.3h0M341.2 380.4h0M358.7 378.8h0M397.5 379.5h0M494.0 379.9h0M502.7 379.5h0M542.7 380.3h0M598.7 379.7h0M618.3 379.5h0M648.0 379.5h0M85.5 382.1h0M105.5 381.5h0M143.0 381.2h0M153.1 382.5h0M200.6 381.0h0M249.2 381.9h0M277.7 382.5h0M307.2 382.2h0M325.6 381.7h0M335.2 381.4h0M346.0 381.6h0M354.0 381.0h0M383.3 381.5h0M392.8 381.2h0M402.5 382.5h0M432.4 382.5h0M449.9 382.5h0M518.4 381.8h0M566.1 382.4h0M584.7 381.2h0M604.7 381.7h0M613.5 381.7h0M622.9 382.0h0M633.9 381.0h0M180.4 367.1h0M243.0 367.7h0M295.6 366.9h0M347.6 367.2h0M357.2 366.3h0M367.7 366.8h0M379.1 367.0h0M462.5 367.4h0M483.6 367.3h0M555.5 366.9h0M597.5 366.6h0M102.4 370.2h0M113.7 370.3h0M123.6 370.7h0M155.7 371.2h0M166.0 369.8h0M175.2 371.2h0M228.0 371.2h0M238.6 370.0h0M258.8 369.9h0M290.5 370.9h0M351.9 370.0h0M403.7 370.7h0M426.2 370.6h0M477.3 371.2h0M497.8 369.8h0M508.3 369.7h0M530.0 370.3h0M602.0 370.6h0M623.9 371.2h0M95.6 318.8h0M89.9 323.2h0M102.0 326.1h0M100.0 329.3h0M90.4 334.5h0M104.8 336.7h0M79.2 343.2h0M99.7 343.1h0M100.1 347.1h0M79.5 356.8h0M90.0 355.8h0M99.6 356.8h0M74.3 363.4h0M85.1 364.9h0M104.3 364.7h0M100.3 366.2h0M69.2 327.0h0M176.0 330.0h0M184.3 354.7h0M165.8 357.5h0M179.3 358.4h0M179.8 334.8h0M149.9 356.4h0M160.7 361.8h0M166.6 362.8h0M171.8 360.3h0M252.2 344.3h0M335.6 348.5h0M225.9 351.9h0M267.2 350.9h0M329.1 351.7h0M240.6 354.6h0M246.1 362.6h0M239.7 364.0h0M414.9 345.7h0M405.0 351.3h0M421.1 354.4h0M377.0 350.8h0M377.4 358.0h0M461.8 363.9h0M505.1 360.9h0M575.8 372.5h0M597.2 372.5h0M644.2 365.4h0M653.4 365.0h0M648.9 366.2h0M114.6 556.8h0M181.9 555.4h0M230.5 555.5h0M239.0 555.3h0M258.4 556.2h0M278.0 555.5h0M316.3 555.6h0M325.4 555.9h0M393.6 556.6h0M508.6 556.1h0M537.7 555.4h0M547.5 555.6h0M555.9 555.3h0M575.2 555.6h0M604.7 556.1h0M643.4 556.8h0M109.9 558.6h0M119.8 558.3h0M186.5 559.5h0M196.1 558.8h0M206.4 558.8h0M215.0 558.7h0M225.6 559.5h0M329.9 558.1h0M339.6 558.8h0M388.9 558.5h0M445.5 559.5h0M475.6 558.3h0M513.6 558.2h0M542.2 559.2h0M551.3 559.1h0M580.0 558.0h0M590.0 558.6h0M599.5 558.6h0M609.6 557.9h0M618.2 558.8h0M76.7 561.3h0M200.7 561.6h0M220.6 561.9h0M249.6 562.0h0M268.0 561.2h0M277.3 561.5h0M315.9 561.4h0M325.4 561.5h0M335.1 560.8h0M345.3 561.3h0M393.5 562.0h0M517.3 560.8h0M576.2 561.4h0M641.9 562.0h0M88.4 525.7h0M82.9 527.0h0M71.6 546.5h0M81.2 546.1h0M91.0 545.8h0M101.0 546.5h0M75.8 548.5h0M80.9 550.2h0M91.6 551.5h0M95.7 553.0h0M69.5 526.7h0M123.6 527.4h0M134.7 526.9h0M107.5 530.2h0M118.9 530.5h0M114.1 532.4h0M113.0 537.8h0M135.3 537.8h0M130.2 541.1h0M134.3 542.6h0M134.8 548.9h0M119.3 550.5h0M144.7 532.1h0M176.6 532.1h0M188.1 531.9h0M183.0 534.4h0M182.5 538.0h0M170.6 546.8h0M180.2 546.9h0M175.3 550.5h0M217.3 551.3h0M145.6 543.7h0M251.1 530.8h0M239.4 534.8h0M252.1 541.8h0M239.6 551.5h0M251.4 550.2h0M296.0 540.7h0M290.0 543.2h0M295.3 546.8h0M306.7 546.8h0M280.6 550.8h0M301.4 551.7h0M339.1 534.5h0M338.6 548.1h0M322.7 551.1h0M351.6 527.9h0M367.3 530.3h0M365.3 533.8h0M386.0 534.2h0M351.1 534.3h0M386.9 539.9h0M396.3 540.5h0M406.4 539.8h0M360.7 542.4h0M391.3 543.2h0M345.5 547.8h0M365.6 547.2h0M386.7 546.8h0M427.7 547.1h0M340.0 550.9h0M350.5 551.4h0M392.0 551.5h0M422.4 551.7h0M445.9 531.2h0M456.3 531.0h0M457.1 540.2h0M477.1 547.1h0M451.8 550.5h0M461.8 550.8h0M473.5 551.2h0M487.1 550.5h0M509.7 542.2h0M498.4 546.8h0M519.5 546.8h0M494.8 551.4h0M523.5 530.4h0M528.9 535.1h0M530.4 541.1h0M572.9 540.6h0M556.8 541.8h0M587.4 542.5h0M529.9 547.6h0M599.3 538.3h0M651.1 538.3h0M615.6 541.7h0M636.4 542.2h0M599.5 548.0h0M595.4 550.5h0M606.0 550.9h0M614.9 550.7h0M626.9 551.3h0" stroke="#050a2c" stroke-width="3.8"/><path d="M171.5 188.2h0M181.2 188.5h0M479.1 187.9h0M437.2 190.9h0M494.0 189.9h0M277.9 192.8h0M489.2 192.2h0M82.6 163.5h0M87.3 165.5h0M97.5 176.5h0M101.9 178.6h0M90.7 154.0h0M96.9 146.3h0M105.7 148.2h0M114.1 157.8h0M108.4 179.2h0M186.1 147.6h0M196.8 147.0h0M217.1 147.3h0M187.1 168.5h0M243.1 148.2h0M271.0 165.9h0M270.8 168.6h0M314.5 174.5h0M246.0 182.2h0M255.6 182.6h0M317.9 182.5h0M333.1 175.8h0M386.5 167.1h0M350.9 176.4h0M383.1 167.7h0M366.5 170.0h0M377.7 170.2h0M387.3 175.6h0M398.8 175.1h0M466.7 172.7h0M430.8 174.4h0M460.9 175.3h0M435.0 176.6h0M466.4 176.9h0M530.6 176.8h0M582.5 174.1h0M593.1 173.3h0M544.6 176.5h0M587.7 176.3h0M592.6 178.5h0M657.8 178.0h0M94.7 371.8h0M162.4 372.1h0M201.3 372.7h0M412.9 372.1h0M167.0 374.7h0M503.1 374.8h0M589.4 375.1h0M618.2 374.3h0M656.6 375.1h0M105.3 376.6h0M374.3 376.9h0M479.6 377.2h0M565.6 377.8h0M575.9 376.7h0M613.2 377.3h0M186.9 378.7h0M282.7 378.8h0M368.9 379.9h0M484.3 380.0h0M532.0 378.6h0M580.7 379.2h0M316.9 382.0h0M507.8 381.8h0M547.2 382.4h0M326.5 366.3h0M409.8 366.9h0M471.7 366.5h0M493.6 367.5h0M81.7 370.2h0M92.3 370.1h0M144.4 369.8h0M186.3 370.1h0M488.7 370.3h0M612.7 371.2h0M81.8 325.2h0M91.5 325.6h0M74.1 331.4h0M85.6 331.7h0M95.5 331.7h0M79.1 334.5h0M94.8 336.2h0M75.0 342.0h0M84.7 340.7h0M89.5 343.6h0M74.1 349.3h0M90.3 350.6h0M84.7 353.8h0M85.4 359.4h0M79.7 361.2h0M99.4 360.8h0M79.2 367.0h0M130.4 326.4h0M149.9 327.3h0M171.6 326.8h0M182.0 326.7h0M175.9 323.9h0M118.6 349.7h0M131.0 349.1h0M141.1 356.8h0M125.4 359.6h0M154.5 345.1h0M135.8 348.7h0M155.2 352.9h0M136.6 361.9h0M147.9 361.4h0M152.0 312.5h0M198.4 339.1h0M175.2 354.6h0M233.5 350.5h0M167.0 353.2h0M161.7 355.7h0M145.1 363.5h0M156.2 364.2h0M182.2 360.7h0M299.0 335.1h0M230.4 348.2h0M242.4 347.8h0M251.2 348.0h0M261.9 348.0h0M272.0 348.6h0M294.3 347.8h0M247.7 350.8h0M288.6 351.9h0M300.3 356.4h0M240.8 359.4h0M403.9 317.6h0M344.2 350.9h0M338.6 360.1h0M411.3 343.7h0M405.8 355.9h0M409.9 359.3h0M406.1 361.9h0M420.6 363.0h0M393.4 353.8h0M398.4 364.2h0M369.3 360.1h0M550.6 362.9h0M618.0 373.2h0M632.4 365.2h0M94.5 556.0h0M297.3 556.5h0M364.9 555.9h0M374.7 556.7h0M527.7 555.6h0M622.9 556.3h0M633.0 555.3h0M81.0 558.8h0M282.4 557.9h0M397.5 557.8h0M114.0 562.0h0M181.0 562.0h0M210.3 561.6h0M374.2 561.0h0M422.1 562.0h0M470.2 560.5h0M479.9 560.6h0M83.6 517.6h0M78.8 519.6h0M97.8 520.0h0M83.4 522.4h0M78.9 525.7h0M94.9 530.3h0M90.7 533.1h0M84.4 540.8h0M75.5 544.2h0M95.1 543.5h0M71.9 551.8h0M85.7 554.2h0M128.6 530.2h0M140.2 529.7h0M124.8 533.2h0M134.5 533.2h0M123.3 537.8h0M140.2 546.3h0M113.2 548.4h0M149.8 527.8h0M161.2 529.0h0M182.4 528.2h0M156.5 531.6h0M166.2 531.4h0M171.9 533.9h0M150.9 538.2h0M171.7 538.0h0M149.4 546.8h0M246.4 522.8h0M251.1 535.7h0M245.1 540.5h0M263.5 529.7h0M285.6 529.3h0M279.3 532.8h0M291.3 532.4h0M301.5 531.6h0M311.5 532.6h0M274.6 535.2h0M307.6 534.8h0M269.6 543.0h0M300.9 542.2h0M312.3 543.0h0M290.1 550.2h0M311.1 551.4h0M321.9 543.2h0M361.4 527.4h0M373.1 527.6h0M357.0 529.2h0M396.4 532.9h0M371.1 535.7h0M422.0 543.0h0M356.1 546.8h0M477.3 532.0h0M430.7 535.7h0M436.2 540.3h0M477.5 540.2h0M430.1 543.2h0M451.0 542.3h0M462.9 542.4h0M445.6 546.9h0M486.3 543.2h0M499.8 537.1h0M509.0 536.6h0M504.2 539.8h0M514.5 539.8h0M514.2 551.6h0M534.1 537.5h0M567.2 542.2h0M572.0 547.8h0M610.0 539.0h0M594.5 541.7h0M606.0 542.8h0M641.1 546.8h0" stroke="#02030e" stroke-width="5.0"/><path d="M171.5 188.2h0M181.2 188.5h0M479.1 187.9h0M437.2 190.9h0M494.0 189.9h0M277.9 192.8h0M489.2 192.2h0M82.6 163.5h0M87.3 165.5h0M97.5 176.5h0M101.9 178.6h0M90.7 154.0h0M96.9 146.3h0M105.7 148.2h0M114.1 157.8h0M108.4 179.2h0M186.1 147.6h0M196.8 147.0h0M217.1 147.3h0M187.1 168.5h0M243.1 148.2h0M271.0 165.9h0M270.8 168.6h0M314.5 174.5h0M246.0 182.2h0M255.6 182.6h0M317.9 182.5h0M333.1 175.8h0M386.5 167.1h0M350.9 176.4h0M383.1 167.7h0M366.5 170.0h0M377.7 170.2h0M387.3 175.6h0M398.8 175.1h0M466.7 172.7h0M430.8 174.4h0M460.9 175.3h0M435.0 176.6h0M466.4 176.9h0M530.6 176.8h0M582.5 174.1h0M593.1 173.3h0M544.6 176.5h0M587.7 176.3h0M592.6 178.5h0M657.8 178.0h0M94.7 371.8h0M162.4 372.1h0M201.3 372.7h0M412.9 372.1h0M167.0 374.7h0M503.1 374.8h0M589.4 375.1h0M618.2 374.3h0M656.6 375.1h0M105.3 376.6h0M374.3 376.9h0M479.6 377.2h0M565.6 377.8h0M575.9 376.7h0M613.2 377.3h0M186.9 378.7h0M282.7 378.8h0M368.9 379.9h0M484.3 380.0h0M532.0 378.6h0M580.7 379.2h0M316.9 382.0h0M507.8 381.8h0M547.2 382.4h0M326.5 366.3h0M409.8 366.9h0M471.7 366.5h0M493.6 367.5h0M81.7 370.2h0M92.3 370.1h0M144.4 369.8h0M186.3 370.1h0M488.7 370.3h0M612.7 371.2h0M81.8 325.2h0M91.5 325.6h0M74.1 331.4h0M85.6 331.7h0M95.5 331.7h0M79.1 334.5h0M94.8 336.2h0M75.0 342.0h0M84.7 340.7h0M89.5 343.6h0M74.1 349.3h0M90.3 350.6h0M84.7 353.8h0M85.4 359.4h0M79.7 361.2h0M99.4 360.8h0M79.2 367.0h0M130.4 326.4h0M149.9 327.3h0M171.6 326.8h0M182.0 326.7h0M175.9 323.9h0M118.6 349.7h0M131.0 349.1h0M141.1 356.8h0M125.4 359.6h0M154.5 345.1h0M135.8 348.7h0M155.2 352.9h0M136.6 361.9h0M147.9 361.4h0M152.0 312.5h0M198.4 339.1h0M175.2 354.6h0M233.5 350.5h0M167.0 353.2h0M161.7 355.7h0M145.1 363.5h0M156.2 364.2h0M182.2 360.7h0M299.0 335.1h0M230.4 348.2h0M242.4 347.8h0M251.2 348.0h0M261.9 348.0h0M272.0 348.6h0M294.3 347.8h0M247.7 350.8h0M288.6 351.9h0M300.3 356.4h0M240.8 359.4h0M403.9 317.6h0M344.2 350.9h0M338.6 360.1h0M411.3 343.7h0M405.8 355.9h0M409.9 359.3h0M406.1 361.9h0M420.6 363.0h0M393.4 353.8h0M398.4 364.2h0M369.3 360.1h0M550.6 362.9h0M618.0 373.2h0M632.4 365.2h0M94.5 556.0h0M297.3 556.5h0M364.9 555.9h0M374.7 556.7h0M527.7 555.6h0M622.9 556.3h0M633.0 555.3h0M81.0 558.8h0M282.4 557.9h0M397.5 557.8h0M114.0 562.0h0M181.0 562.0h0M210.3 561.6h0M374.2 561.0h0M422.1 562.0h0M470.2 560.5h0M479.9 560.6h0M83.6 517.6h0M78.8 519.6h0M97.8 520.0h0M83.4 522.4h0M78.9 525.7h0M94.9 530.3h0M90.7 533.1h0M84.4 540.8h0M75.5 544.2h0M95.1 543.5h0M71.9 551.8h0M85.7 554.2h0M128.6 530.2h0M140.2 529.7h0M124.8 533.2h0M134.5 533.2h0M123.3 537.8h0M140.2 546.3h0M113.2 548.4h0M149.8 527.8h0M161.2 529.0h0M182.4 528.2h0M156.5 531.6h0M166.2 531.4h0M171.9 533.9h0M150.9 538.2h0M171.7 538.0h0M149.4 546.8h0M246.4 522.8h0M251.1 535.7h0M245.1 540.5h0M263.5 529.7h0M285.6 529.3h0M279.3 532.8h0M291.3 532.4h0M301.5 531.6h0M311.5 532.6h0M274.6 535.2h0M307.6 534.8h0M269.6 543.0h0M300.9 542.2h0M312.3 543.0h0M290.1 550.2h0M311.1 551.4h0M321.9 543.2h0M361.4 527.4h0M373.1 527.6h0M357.0 529.2h0M396.4 532.9h0M371.1 535.7h0M422.0 543.0h0M356.1 546.8h0M477.3 532.0h0M430.7 535.7h0M436.2 540.3h0M477.5 540.2h0M430.1 543.2h0M451.0 542.3h0M462.9 542.4h0M445.6 546.9h0M486.3 543.2h0M499.8 537.1h0M509.0 536.6h0M504.2 539.8h0M514.5 539.8h0M514.2 551.6h0M534.1 537.5h0M567.2 542.2h0M572.0 547.8h0M610.0 539.0h0M594.5 541.7h0M606.0 542.8h0M641.1 546.8h0" stroke="#070e3c" stroke-width="3.8"/><path d="M97.4 158.6h0M101.3 162.8h0M92.1 168.5h0M96.2 150.8h0M80.3 154.1h0M115.0 147.7h0M109.8 149.5h0M143.9 157.7h0M107.3 167.4h0M122.6 167.0h0M137.4 167.4h0M114.9 176.5h0M166.3 176.1h0M187.5 175.9h0M220.1 175.7h0M140.4 179.2h0M176.0 151.1h0M187.1 150.4h0M168.0 160.2h0M153.2 167.2h0M333.0 141.9h0M284.1 166.5h0M296.6 166.5h0M309.5 166.6h0M282.7 169.1h0M306.7 168.3h0M268.3 177.8h0M387.0 161.5h0M398.7 162.2h0M335.0 172.0h0M346.9 172.4h0M371.5 167.9h0M403.1 168.1h0M410.1 170.5h0M393.5 173.0h0M477.3 172.1h0M440.4 174.4h0M525.0 175.3h0M597.1 176.7h0M211.4 367.8h0M504.0 367.5h0M545.3 366.6h0M269.3 370.2h0M87.4 322.8h0M97.5 322.9h0M97.7 328.2h0M80.3 330.1h0M90.3 329.1h0M104.2 332.3h0M100.2 333.2h0M79.9 338.1h0M100.4 339.0h0M103.9 340.6h0M80.2 351.4h0M75.7 353.3h0M93.9 353.7h0M105.1 354.0h0M104.6 359.2h0M95.3 363.4h0M109.9 326.9h0M161.3 327.2h0M185.7 322.8h0M179.8 326.1h0M186.0 329.1h0M125.2 355.7h0M110.1 358.0h0M120.3 357.2h0M115.3 360.5h0M136.7 360.4h0M147.6 342.8h0M159.8 343.2h0M118.9 344.9h0M173.4 349.1h0M185.4 349.1h0M141.7 351.4h0M160.8 355.1h0M184.6 360.7h0M219.9 349.8h0M151.0 350.4h0M160.7 351.0h0M150.7 361.4h0M253.0 320.7h0M289.1 326.8h0M308.9 362.3h0M259.3 327.0h0M261.9 335.6h0M200.3 349.1h0M210.1 348.9h0M220.9 348.4h0M304.2 349.0h0M314.4 348.7h0M205.3 351.3h0M215.3 352.2h0M257.5 351.6h0M277.8 350.7h0M298.3 350.8h0M252.1 355.8h0M264.0 356.5h0M245.0 352.9h0M398.4 307.0h0M411.6 348.5h0M416.6 351.8h0M410.3 353.0h0M420.0 359.2h0M399.1 352.3h0M440.1 365.1h0M471.9 363.9h0M514.2 360.5h0M527.7 362.8h0M539.5 363.3h0M560.7 363.7h0M94.3 518.2h0M93.9 523.5h0M94.1 528.2h0M84.3 535.4h0M100.5 538.0h0M90.4 543.1h0M84.0 514.5h0M113.9 527.8h0M119.2 541.2h0M170.9 529.1h0M150.9 534.0h0M161.0 535.2h0M160.6 538.4h0M191.8 544.5h0M240.1 524.6h0M246.4 528.1h0M239.9 530.8h0M274.2 530.2h0M269.5 531.7h0M286.2 534.7h0M264.9 539.8h0M258.2 542.7h0M345.7 529.8h0M373.0 532.0h0M428.1 533.4h0M340.8 534.7h0M413.0 535.0h0M423.1 534.6h0M371.6 542.1h0M418.0 547.7h0M414.2 531.1h0M451.1 534.9h0M461.9 534.8h0M434.6 546.8h0M494.8 540.4h0M499.3 541.9h0M567.1 535.5h0M541.1 540.1h0M640.9 538.4h0M646.5 542.7h0M657.2 543.2h0" stroke="#030514" stroke-width="5.0"/><path d="M97.4 158.6h0M101.3 162.8h0M92.1 168.5h0M96.2 150.8h0M80.3 154.1h0M115.0 147.7h0M109.8 149.5h0M143.9 157.7h0M107.3 167.4h0M122.6 167.0h0M137.4 167.4h0M114.9 176.5h0M166.3 176.1h0M187.5 175.9h0M220.1 175.7h0M140.4 179.2h0M176.0 151.1h0M187.1 150.4h0M168.0 160.2h0M153.2 167.2h0M333.0 141.9h0M284.1 166.5h0M296.6 166.5h0M309.5 166.6h0M282.7 169.1h0M306.7 168.3h0M268.3 177.8h0M387.0 161.5h0M398.7 162.2h0M335.0 172.0h0M346.9 172.4h0M371.5 167.9h0M403.1 168.1h0M410.1 170.5h0M393.5 173.0h0M477.3 172.1h0M440.4 174.4h0M525.0 175.3h0M597.1 176.7h0M211.4 367.8h0M504.0 367.5h0M545.3 366.6h0M269.3 370.2h0M87.4 322.8h0M97.5 322.9h0M97.7 328.2h0M80.3 330.1h0M90.3 329.1h0M104.2 332.3h0M100.2 333.2h0M79.9 338.1h0M100.4 339.0h0M103.9 340.6h0M80.2 351.4h0M75.7 353.3h0M93.9 353.7h0M105.1 354.0h0M104.6 359.2h0M95.3 363.4h0M109.9 326.9h0M161.3 327.2h0M185.7 322.8h0M179.8 326.1h0M186.0 329.1h0M125.2 355.7h0M110.1 358.0h0M120.3 357.2h0M115.3 360.5h0M136.7 360.4h0M147.6 342.8h0M159.8 343.2h0M118.9 344.9h0M173.4 349.1h0M185.4 349.1h0M141.7 351.4h0M160.8 355.1h0M184.6 360.7h0M219.9 349.8h0M151.0 350.4h0M160.7 351.0h0M150.7 361.4h0M253.0 320.7h0M289.1 326.8h0M308.9 362.3h0M259.3 327.0h0M261.9 335.6h0M200.3 349.1h0M210.1 348.9h0M220.9 348.4h0M304.2 349.0h0M314.4 348.7h0M205.3 351.3h0M215.3 352.2h0M257.5 351.6h0M277.8 350.7h0M298.3 350.8h0M252.1 355.8h0M264.0 356.5h0M245.0 352.9h0M398.4 307.0h0M411.6 348.5h0M416.6 351.8h0M410.3 353.0h0M420.0 359.2h0M399.1 352.3h0M440.1 365.1h0M471.9 363.9h0M514.2 360.5h0M527.7 362.8h0M539.5 363.3h0M560.7 363.7h0M94.3 518.2h0M93.9 523.5h0M94.1 528.2h0M84.3 535.4h0M100.5 538.0h0M90.4 543.1h0M84.0 514.5h0M113.9 527.8h0M119.2 541.2h0M170.9 529.1h0M150.9 534.0h0M161.0 535.2h0M160.6 538.4h0M191.8 544.5h0M240.1 524.6h0M246.4 528.1h0M239.9 530.8h0M274.2 530.2h0M269.5 531.7h0M286.2 534.7h0M264.9 539.8h0M258.2 542.7h0M345.7 529.8h0M373.0 532.0h0M428.1 533.4h0M340.8 534.7h0M413.0 535.0h0M423.1 534.6h0M371.6 542.1h0M418.0 547.7h0M414.2 531.1h0M451.1 534.9h0M461.9 534.8h0M434.6 546.8h0M494.8 540.4h0M499.3 541.9h0M567.1 535.5h0M541.1 540.1h0M640.9 538.4h0M646.5 542.7h0M657.2 543.2h0" stroke="#0a1550" stroke-width="3.8"/><path d="M76.4 158.2h0M91.4 163.7h0M77.5 166.4h0M97.2 165.1h0M77.4 176.7h0M99.8 149.7h0M156.1 175.3h0M96.8 116.2h0M93.6 124.5h0M93.5 132.2h0M120.4 140.2h0M134.4 152.4h0M153.1 167.1h0M177.1 115.9h0M184.3 129.4h0M231.0 141.9h0M293.4 175.6h0M398.0 167.3h0M424.2 173.0h0M428.7 150.4h0M441.7 149.8h0M455.2 150.5h0M468.3 150.2h0M482.5 160.2h0M488.8 153.5h0M500.4 150.9h0M515.2 156.3h0M497.9 165.0h0M509.8 164.6h0M522.9 165.1h0M572.9 168.8h0M528.9 164.3h0M541.3 163.7h0M554.5 164.5h0M565.4 164.3h0M636.9 177.0h0M623.0 169.1h0M651.0 185.1h0M429.8 367.7h0M89.9 345.8h0M104.7 349.1h0M75.4 359.1h0M95.3 358.8h0M120.5 326.4h0M140.2 326.6h0M130.0 331.4h0M141.7 358.9h0M181.2 341.7h0M120.6 294.5h0M146.0 298.4h0M184.3 306.5h0M100.9 300.9h0M97.8 305.4h0M80.4 316.7h0M171.7 293.8h0M274.5 334.8h0M282.7 347.8h0M309.9 352.2h0M319.1 351.2h0M288.6 356.5h0M421.1 337.8h0M420.9 347.9h0M416.4 361.6h0M382.8 359.9h0M533.1 308.0h0M550.0 308.4h0M566.3 311.3h0M537.5 312.7h0M514.6 330.3h0M530.6 330.5h0M565.4 329.0h0M575.7 330.3h0M588.8 330.9h0M521.8 347.3h0M533.5 346.7h0M535.5 350.8h0M496.5 356.0h0M549.5 357.4h0M592.1 362.8h0M607.5 320.3h0M636.2 320.3h0M596.5 329.0h0M607.9 362.5h0M99.9 533.1h0M94.8 540.1h0M107.6 541.4h0M126.9 504.3h0M140.5 507.4h0M144.9 519.4h0M167.9 492.2h0M169.4 519.2h0M180.1 519.2h0M168.4 525.1h0M181.1 524.6h0M193.9 524.6h0M220.7 524.7h0M232.7 525.2h0M203.7 534.3h0M215.3 534.2h0M226.2 533.5h0M237.1 533.9h0M296.3 529.0h0M258.2 533.1h0M275.6 540.6h0M376.7 534.0h0M407.8 533.3h0M382.0 535.7h0M391.8 535.7h0M404.5 531.8h0M424.6 530.8h0M467.4 527.1h0M517.0 522.0h0M500.3 528.9h0M511.8 528.2h0M522.3 528.2h0M446.7 539.5h0M533.0 517.6h0M551.7 517.6h0M555.3 520.5h0M554.6 530.8h0M543.3 530.8h0M579.3 534.3h0M590.2 534.7h0M594.1 541.2h0M619.5 534.8h0M598.8 534.8h0M607.4 536.4h0" stroke="#070d40" stroke-width="5.0"/><path d="M76.4 158.2h0M91.4 163.7h0M77.5 166.4h0M97.2 165.1h0M77.4 176.7h0M99.8 149.7h0M156.1 175.3h0M96.8 116.2h0M93.6 124.5h0M93.5 132.2h0M120.4 140.2h0M134.4 152.4h0M153.1 167.1h0M177.1 115.9h0M184.3 129.4h0M231.0 141.9h0M293.4 175.6h0M398.0 167.3h0M424.2 173.0h0M428.7 150.4h0M441.7 149.8h0M455.2 150.5h0M468.3 150.2h0M482.5 160.2h0M488.8 153.5h0M500.4 150.9h0M515.2 156.3h0M497.9 165.0h0M509.8 164.6h0M522.9 165.1h0M572.9 168.8h0M528.9 164.3h0M541.3 163.7h0M554.5 164.5h0M565.4 164.3h0M636.9 177.0h0M623.0 169.1h0M651.0 185.1h0M429.8 367.7h0M89.9 345.8h0M104.7 349.1h0M75.4 359.1h0M95.3 358.8h0M120.5 326.4h0M140.2 326.6h0M130.0 331.4h0M141.7 358.9h0M181.2 341.7h0M120.6 294.5h0M146.0 298.4h0M184.3 306.5h0M100.9 300.9h0M97.8 305.4h0M80.4 316.7h0M171.7 293.8h0M274.5 334.8h0M282.7 347.8h0M309.9 352.2h0M319.1 351.2h0M288.6 356.5h0M421.1 337.8h0M420.9 347.9h0M416.4 361.6h0M382.8 359.9h0M533.1 308.0h0M550.0 308.4h0M566.3 311.3h0M537.5 312.7h0M514.6 330.3h0M530.6 330.5h0M565.4 329.0h0M575.7 330.3h0M588.8 330.9h0M521.8 347.3h0M533.5 346.7h0M535.5 350.8h0M496.5 356.0h0M549.5 357.4h0M592.1 362.8h0M607.5 320.3h0M636.2 320.3h0M596.5 329.0h0M607.9 362.5h0M99.9 533.1h0M94.8 540.1h0M107.6 541.4h0M126.9 504.3h0M140.5 507.4h0M144.9 519.4h0M167.9 492.2h0M169.4 519.2h0M180.1 519.2h0M168.4 525.1h0M181.1 524.6h0M193.9 524.6h0M220.7 524.7h0M232.7 525.2h0M203.7 534.3h0M215.3 534.2h0M226.2 533.5h0M237.1 533.9h0M296.3 529.0h0M258.2 533.1h0M275.6 540.6h0M376.7 534.0h0M407.8 533.3h0M382.0 535.7h0M391.8 535.7h0M404.5 531.8h0M424.6 530.8h0M467.4 527.1h0M517.0 522.0h0M500.3 528.9h0M511.8 528.2h0M522.3 528.2h0M446.7 539.5h0M533.0 517.6h0M551.7 517.6h0M555.3 520.5h0M554.6 530.8h0M543.3 530.8h0M579.3 534.3h0M590.2 534.7h0M594.1 541.2h0M619.5 534.8h0M598.8 534.8h0M607.4 536.4h0" stroke="#0c1664" stroke-width="3.8"/><path d="M373.5 131.7h0M404.6 144.7h0M417.9 157.1h0M424.3 131.8h0M448.3 131.1h0M460.6 131.9h0M484.1 132.0h0M424.6 135.8h0M434.8 136.2h0M446.9 136.9h0M481.3 137.1h0M418.9 140.4h0M430.2 140.2h0M440.2 139.4h0M452.5 139.0h0M474.4 139.7h0M486.0 138.9h0M424.3 142.8h0M435.9 142.6h0M447.2 142.2h0M458.4 142.0h0M469.4 142.7h0M481.8 143.1h0M500.5 140.1h0M514.6 139.9h0M541.8 139.7h0M611.0 156.6h0M420.2 306.5h0M415.0 322.8h0M421.9 343.4h0M429.2 304.4h0M440.6 305.0h0M452.3 303.9h0M463.7 304.9h0M474.1 305.1h0M432.8 302.2h0M475.3 301.7h0M495.4 306.5h0M420.0 315.6h0M431.5 316.6h0M441.0 317.1h0M452.6 316.4h0M463.5 315.5h0M463.3 313.2h0M484.4 319.9h0M429.6 337.1h0M422.3 343.4h0M421.5 353.7h0M420.6 360.6h0M453.3 360.6h0M478.1 360.2h0M548.3 300.5h0M659.2 360.4h0M192.6 507.7h0M203.6 507.8h0M235.7 508.6h0M193.0 512.2h0M203.7 513.2h0M214.0 513.1h0M224.8 512.8h0M235.7 512.4h0M192.0 515.0h0M232.0 506.0h0M251.8 501.4h0M240.8 508.0h0M313.8 510.4h0M281.0 517.0h0M314.6 521.4h0M354.8 487.6h0M355.0 500.6h0M358.0 497.7h0M401.9 474.9h0M403.1 495.9h0M385.2 526.8h0M352.9 499.1h0M365.5 508.4h0M360.9 511.7h0M370.7 511.5h0M365.5 514.7h0M397.8 477.4h0M513.4 504.7h0" stroke="#0a1a5a" stroke-width="5.0"/><path d="M373.5 131.7h0M404.6 144.7h0M417.9 157.1h0M424.3 131.8h0M448.3 131.1h0M460.6 131.9h0M484.1 132.0h0M424.6 135.8h0M434.8 136.2h0M446.9 136.9h0M481.3 137.1h0M418.9 140.4h0M430.2 140.2h0M440.2 139.4h0M452.5 139.0h0M474.4 139.7h0M486.0 138.9h0M424.3 142.8h0M435.9 142.6h0M447.2 142.2h0M458.4 142.0h0M469.4 142.7h0M481.8 143.1h0M500.5 140.1h0M514.6 139.9h0M541.8 139.7h0M611.0 156.6h0M420.2 306.5h0M415.0 322.8h0M421.9 343.4h0M429.2 304.4h0M440.6 305.0h0M452.3 303.9h0M463.7 304.9h0M474.1 305.1h0M432.8 302.2h0M475.3 301.7h0M495.4 306.5h0M420.0 315.6h0M431.5 316.6h0M441.0 317.1h0M452.6 316.4h0M463.5 315.5h0M463.3 313.2h0M484.4 319.9h0M429.6 337.1h0M422.3 343.4h0M421.5 353.7h0M420.6 360.6h0M453.3 360.6h0M478.1 360.2h0M548.3 300.5h0M659.2 360.4h0M192.6 507.7h0M203.6 507.8h0M235.7 508.6h0M193.0 512.2h0M203.7 513.2h0M214.0 513.1h0M224.8 512.8h0M235.7 512.4h0M192.0 515.0h0M232.0 506.0h0M251.8 501.4h0M240.8 508.0h0M313.8 510.4h0M281.0 517.0h0M314.6 521.4h0M354.8 487.6h0M355.0 500.6h0M358.0 497.7h0M401.9 474.9h0M403.1 495.9h0M385.2 526.8h0M352.9 499.1h0M365.5 508.4h0M360.9 511.7h0M370.7 511.5h0M365.5 514.7h0M397.8 477.4h0M513.4 504.7h0" stroke="#0f2478" stroke-width="3.8"/><path d="M413.0 141.7h0M448.1 141.1h0M460.2 141.3h0M431.9 138.5h0M473.4 138.3h0M489.2 137.5h0M499.8 137.5h0M524.8 137.6h0M536.8 138.1h0M580.6 148.0h0M592.0 148.2h0M431.9 100.4h0M415.9 285.9h0M421.7 336.3h0M432.3 335.8h0M442.8 335.5h0M454.2 336.0h0M465.5 336.2h0M477.3 335.9h0M488.3 335.4h0M426.1 332.5h0M437.4 332.6h0M448.3 333.5h0M460.8 332.8h0M473.2 333.7h0M485.9 332.3h0M440.0 331.0h0M478.0 330.0h0M455.0 324.5h0M482.2 329.0h0M495.3 328.5h0M514.2 280.4h0M494.6 329.5h0M506.5 329.5h0M517.5 329.2h0M529.1 329.7h0M539.5 329.7h0M572.3 328.9h0M583.4 328.9h0M594.4 329.1h0M597.0 333.0h0M254.2 486.3h0M318.6 496.2h0M279.1 499.5h0M296.0 504.3h0M306.2 504.6h0" stroke="#0a4752" stroke-width="5.0"/><path d="M413.0 141.7h0M448.1 141.1h0M460.2 141.3h0M431.9 138.5h0M473.4 138.3h0M489.2 137.5h0M499.8 137.5h0M524.8 137.6h0M536.8 138.1h0M580.6 148.0h0M592.0 148.2h0M431.9 100.4h0M415.9 285.9h0M421.7 336.3h0M432.3 335.8h0M442.8 335.5h0M454.2 336.0h0M465.5 336.2h0M477.3 335.9h0M488.3 335.4h0M426.1 332.5h0M437.4 332.6h0M448.3 333.5h0M460.8 332.8h0M473.2 333.7h0M485.9 332.3h0M440.0 331.0h0M478.0 330.0h0M455.0 324.5h0M482.2 329.0h0M495.3 328.5h0M514.2 280.4h0M494.6 329.5h0M506.5 329.5h0M517.5 329.2h0M529.1 329.7h0M539.5 329.7h0M572.3 328.9h0M583.4 328.9h0M594.4 329.1h0M597.0 333.0h0M254.2 486.3h0M318.6 496.2h0M279.1 499.5h0M296.0 504.3h0M306.2 504.6h0" stroke="#0e5a66" stroke-width="3.8"/><path d="M426.8 141.2h0M439.1 141.9h0M451.2 141.2h0M463.3 141.1h0M474.5 141.9h0M487.3 141.9h0M421.3 137.7h0M462.5 137.9h0M491.9 137.8h0M515.8 137.9h0M527.7 138.1h0M454.5 135.3h0M582.9 147.7h0M595.1 148.1h0M647.1 149.3h0M432.6 288.8h0M424.0 336.2h0M435.0 335.6h0M446.0 335.6h0M457.3 335.4h0M468.7 335.5h0M479.1 335.7h0M452.1 333.0h0M464.1 332.5h0M476.3 333.7h0M488.5 333.5h0M446.0 329.0h0M430.0 328.0h0M485.7 328.3h0M498.0 329.3h0M557.7 283.5h0M498.0 329.7h0M509.0 329.2h0M520.4 329.0h0M531.2 329.3h0M575.3 329.1h0M585.8 329.1h0M597.6 328.6h0M598.0 336.0h0M271.4 498.4h0M318.9 496.1h0M298.8 504.2h0M308.6 504.8h0" stroke="#0a4752" stroke-width="5.0"/><path d="M426.8 141.2h0M439.1 141.9h0M451.2 141.2h0M463.3 141.1h0M474.5 141.9h0M487.3 141.9h0M421.3 137.7h0M462.5 137.9h0M491.9 137.8h0M515.8 137.9h0M527.7 138.1h0M454.5 135.3h0M582.9 147.7h0M595.1 148.1h0M647.1 149.3h0M432.6 288.8h0M424.0 336.2h0M435.0 335.6h0M446.0 335.6h0M457.3 335.4h0M468.7 335.5h0M479.1 335.7h0M452.1 333.0h0M464.1 332.5h0M476.3 333.7h0M488.5 333.5h0M446.0 329.0h0M430.0 328.0h0M485.7 328.3h0M498.0 329.3h0M557.7 283.5h0M498.0 329.7h0M509.0 329.2h0M520.4 329.0h0M531.2 329.3h0M575.3 329.1h0M585.8 329.1h0M597.6 328.6h0M598.0 336.0h0M271.4 498.4h0M318.9 496.1h0M298.8 504.2h0M308.6 504.8h0" stroke="#0e5a66" stroke-width="3.8"/><path d="M418.7 142.0h0M429.5 141.4h0M441.5 141.3h0M454.5 141.6h0M466.1 141.3h0M478.1 141.5h0M452.7 137.9h0M494.3 137.2h0M506.1 137.5h0M518.1 137.8h0M530.2 137.3h0M542.5 137.7h0M439.0 148.5h0M574.0 147.9h0M586.5 148.0h0M416.0 335.9h0M427.0 335.8h0M437.9 335.8h0M448.7 336.1h0M459.5 335.8h0M471.8 335.4h0M481.9 335.0h0M420.2 332.5h0M442.6 332.7h0M466.7 332.6h0M462.0 330.0h0M452.0 328.0h0M488.7 328.4h0M564.6 281.2h0M501.1 329.7h0M512.2 329.4h0M523.5 329.6h0M533.5 328.8h0M578.0 328.8h0M588.7 329.4h0M592.0 327.0h0M594.0 331.0h0M225.2 486.6h0M233.6 471.6h0M278.8 498.4h0M271.2 500.2h0M301.3 505.1h0" stroke="#0a4752" stroke-width="5.0"/><path d="M418.7 142.0h0M429.5 141.4h0M441.5 141.3h0M454.5 141.6h0M466.1 141.3h0M478.1 141.5h0M452.7 137.9h0M494.3 137.2h0M506.1 137.5h0M518.1 137.8h0M530.2 137.3h0M542.5 137.7h0M439.0 148.5h0M574.0 147.9h0M586.5 148.0h0M416.0 335.9h0M427.0 335.8h0M437.9 335.8h0M448.7 336.1h0M459.5 335.8h0M471.8 335.4h0M481.9 335.0h0M420.2 332.5h0M442.6 332.7h0M466.7 332.6h0M462.0 330.0h0M452.0 328.0h0M488.7 328.4h0M564.6 281.2h0M501.1 329.7h0M512.2 329.4h0M523.5 329.6h0M533.5 328.8h0M578.0 328.8h0M588.7 329.4h0M592.0 327.0h0M594.0 331.0h0M225.2 486.6h0M233.6 471.6h0M278.8 498.4h0M271.2 500.2h0M301.3 505.1h0" stroke="#0e5a66" stroke-width="3.8"/><path d="M432.3 141.7h0M444.6 141.3h0M457.2 141.0h0M469.1 141.4h0M481.5 141.6h0M442.4 137.8h0M455.7 137.7h0M469.6 137.6h0M496.6 138.1h0M509.1 137.5h0M521.9 137.3h0M415.5 146.7h0M577.1 148.0h0M589.3 147.5h0M419.0 335.1h0M429.6 334.8h0M440.1 335.8h0M451.2 335.4h0M463.1 336.2h0M474.8 335.2h0M484.9 335.5h0M434.7 332.7h0M446.1 332.9h0M470.7 332.8h0M481.8 332.6h0M425.0 330.0h0M470.0 331.0h0M436.9 326.2h0M491.5 329.0h0M503.1 329.8h0M515.1 329.8h0M526.4 329.4h0M536.4 329.8h0M581.0 328.9h0M592.2 328.9h0M595.0 330.0h0M225.3 486.6h0M313.9 498.1h0M271.5 502.4h0M303.5 504.8h0" stroke="#0a4752" stroke-width="5.0"/><path d="M432.3 141.7h0M444.6 141.3h0M457.2 141.0h0M469.1 141.4h0M481.5 141.6h0M442.4 137.8h0M455.7 137.7h0M469.6 137.6h0M496.6 138.1h0M509.1 137.5h0M521.9 137.3h0M415.5 146.7h0M577.1 148.0h0M589.3 147.5h0M419.0 335.1h0M429.6 334.8h0M440.1 335.8h0M451.2 335.4h0M463.1 336.2h0M474.8 335.2h0M484.9 335.5h0M434.7 332.7h0M446.1 332.9h0M470.7 332.8h0M481.8 332.6h0M425.0 330.0h0M470.0 331.0h0M436.9 326.2h0M491.5 329.0h0M503.1 329.8h0M515.1 329.8h0M526.4 329.4h0M536.4 329.8h0M581.0 328.9h0M592.2 328.9h0M595.0 330.0h0M225.3 486.6h0M313.9 498.1h0M271.5 502.4h0M303.5 504.8h0" stroke="#0e5a66" stroke-width="3.8"/><path d="M514.0 108.1h0M472.7 89.3h0M475.3 92.2h0M473.4 263.6h0M462.8 270.5h0M484.7 270.5h0M265.5 437.7h0M286.2 483.8h0" stroke="#216618" stroke-width="5.0"/><path d="M514.0 108.1h0M472.7 89.3h0M475.3 92.2h0M473.4 263.6h0M462.8 270.5h0M484.7 270.5h0M265.5 437.7h0M286.2 483.8h0" stroke="#2a7e1e" stroke-width="3.8"/><path d="M455.3 257.5h0M465.4 258.4h0M308.7 459.3h0" stroke="#3c5a10" stroke-width="5.0"/><path d="M455.3 257.5h0M465.4 258.4h0M308.7 459.3h0" stroke="#4a6e14" stroke-width="3.8"/><path d="M413.9 89.5h0M423.3 89.2h0M433.6 89.2h0M442.8 89.3h0M453.2 89.0h0M462.8 89.5h0M425.5 91.4h0M448.1 90.3h0M431.0 86.0h0M424.9 258.1h0M435.3 257.6h0M444.1 257.4h0M453.9 257.5h0M423.3 263.3h0M434.0 262.6h0M455.5 266.1h0M544.0 248.6h0M269.2 450.1h0M305.8 454.9h0" stroke="#4a4e0c" stroke-width="5.0"/><path d="M413.9 89.5h0M423.3 89.2h0M433.6 89.2h0M442.8 89.3h0M453.2 89.0h0M462.8 89.5h0M425.5 91.4h0M448.1 90.3h0M431.0 86.0h0M424.9 258.1h0M435.3 257.6h0M444.1 257.4h0M453.9 257.5h0M423.3 263.3h0M434.0 262.6h0M455.5 266.1h0M544.0 248.6h0M269.2 450.1h0M305.8 454.9h0" stroke="#5a5e10" stroke-width="3.8"/><path d="M479.2 88.5h0M416.1 252.7h0M550.8 266.6h0M280.7 473.6h0M253.8 482.2h0M264.4 482.9h0M276.0 483.6h0M286.9 483.2h0M297.6 483.3h0M310.2 483.3h0" stroke="#188418" stroke-width="5.0"/><path d="M479.2 88.5h0M416.1 252.7h0M550.8 266.6h0M280.7 473.6h0M253.8 482.2h0M264.4 482.9h0M276.0 483.6h0M286.9 483.2h0M297.6 483.3h0M310.2 483.3h0" stroke="#1ea01e" stroke-width="3.8"/><path d="M544.8 93.8h0M475.6 90.3h0M469.4 96.4h0M432.6 330.5h0M476.0 262.7h0M470.0 271.2h0M466.0 264.5h0M306.5 463.0h0M273.8 483.8h0M290.2 484.7h0" stroke="#216618" stroke-width="5.0"/><path d="M544.8 93.8h0M475.6 90.3h0M469.4 96.4h0M432.6 330.5h0M476.0 262.7h0M470.0 271.2h0M466.0 264.5h0M306.5 463.0h0M273.8 483.8h0M290.2 484.7h0" stroke="#2a7e1e" stroke-width="3.8"/><path d="M457.3 258.0h0M467.8 258.2h0" stroke="#3c5a10" stroke-width="5.0"/><path d="M457.3 258.0h0M467.8 258.2h0" stroke="#4a6e14" stroke-width="3.8"/><path d="M486.2 64.3h0M416.8 88.4h0M426.1 88.5h0M435.5 89.4h0M445.9 89.3h0M455.7 89.4h0M465.2 88.6h0M440.3 91.6h0M463.5 90.4h0M450.0 86.0h0M427.2 258.4h0M437.3 258.7h0M447.2 258.4h0M425.7 262.7h0M436.2 262.9h0M455.5 269.7h0M252.3 452.7h0M271.4 450.1h0M307.7 454.9h0" stroke="#4a4e0c" stroke-width="5.0"/><path d="M486.2 64.3h0M416.8 88.4h0M426.1 88.5h0M435.5 89.4h0M445.9 89.3h0M455.7 89.4h0M465.2 88.6h0M440.3 91.6h0M463.5 90.4h0M450.0 86.0h0M427.2 258.4h0M437.3 258.7h0M447.2 258.4h0M425.7 262.7h0M436.2 262.9h0M455.5 269.7h0M252.3 452.7h0M271.4 450.1h0M307.7 454.9h0" stroke="#5a5e10" stroke-width="3.8"/><path d="M485.2 95.8h0M479.6 250.0h0M513.9 265.4h0M251.8 471.1h0M270.7 477.7h0M282.0 480.7h0M267.3 483.5h0M290.1 484.0h0" stroke="#188418" stroke-width="5.0"/><path d="M485.2 95.8h0M479.6 250.0h0M513.9 265.4h0M251.8 471.1h0M270.7 477.7h0M282.0 480.7h0M267.3 483.5h0M290.1 484.0h0" stroke="#1ea01e" stroke-width="3.8"/><path d="M557.3 137.3h0M549.8 93.8h0M467.2 89.7h0M478.9 90.4h0M469.2 93.6h0M476.0 97.7h0M486.1 248.9h0M467.1 263.2h0M478.4 263.0h0M475.9 270.2h0M278.6 484.3h0M313.8 498.5h0" stroke="#216618" stroke-width="5.0"/><path d="M557.3 137.3h0M549.8 93.8h0M467.2 89.7h0M478.9 90.4h0M469.2 93.6h0M476.0 97.7h0M486.1 248.9h0M467.1 263.2h0M478.4 263.0h0M475.9 270.2h0M278.6 484.3h0M313.8 498.5h0" stroke="#2a7e1e" stroke-width="3.8"/><path d="M460.2 258.8h0M276.6 457.4h0" stroke="#3c5a10" stroke-width="5.0"/><path d="M460.2 258.8h0M276.6 457.4h0" stroke="#4a6e14" stroke-width="3.8"/><path d="M419.1 87.7h0M428.2 89.3h0M438.1 88.9h0M447.8 88.1h0M458.1 87.8h0M419.7 90.8h0M431.4 90.5h0M443.1 90.9h0M454.1 90.7h0M455.0 85.0h0M420.3 257.8h0M429.7 258.7h0M439.3 258.1h0M449.1 257.6h0M417.9 263.6h0M429.1 263.8h0M438.6 263.0h0M426.0 260.5h0M308.7 425.5h0M261.9 455.4h0M309.5 454.9h0" stroke="#4a4e0c" stroke-width="5.0"/><path d="M419.1 87.7h0M428.2 89.3h0M438.1 88.9h0M447.8 88.1h0M458.1 87.8h0M419.7 90.8h0M431.4 90.5h0M443.1 90.9h0M454.1 90.7h0M455.0 85.0h0M420.3 257.8h0M429.7 258.7h0M439.3 258.1h0M449.1 257.6h0M417.9 263.6h0M429.1 263.8h0M438.6 263.0h0M426.0 260.5h0M308.7 425.5h0M261.9 455.4h0M309.5 454.9h0" stroke="#5a5e10" stroke-width="3.8"/><path d="M486.1 273.4h0M544.8 266.6h0M279.5 473.6h0M273.5 479.2h0M282.5 483.0h0M258.9 484.1h0M269.7 482.9h0M281.2 484.0h0M292.6 483.8h0M304.6 483.7h0" stroke="#188418" stroke-width="5.0"/><path d="M486.1 273.4h0M544.8 266.6h0M279.5 473.6h0M273.5 479.2h0M282.5 483.0h0M258.9 484.1h0M269.7 482.9h0M281.2 484.0h0M292.6 483.8h0M304.6 483.7h0" stroke="#1ea01e" stroke-width="3.8"/><path d="M565.1 135.5h0M470.0 89.5h0M482.4 89.7h0M472.1 93.6h0M472.5 96.0h0M470.4 263.2h0M481.1 263.2h0M478.5 270.2h0M252.3 437.7h0M297.8 484.3h0" stroke="#216618" stroke-width="5.0"/><path d="M565.1 135.5h0M470.0 89.5h0M482.4 89.7h0M472.1 93.6h0M472.5 96.0h0M470.4 263.2h0M481.1 263.2h0M478.5 270.2h0M252.3 437.7h0M297.8 484.3h0" stroke="#2a7e1e" stroke-width="3.8"/><path d="M462.9 258.3h0" stroke="#3c5a10" stroke-width="5.0"/><path d="M462.9 258.3h0" stroke="#4a6e14" stroke-width="3.8"/><path d="M421.3 87.9h0M430.4 88.9h0M440.4 88.6h0M450.8 88.3h0M459.7 89.1h0M422.9 90.9h0M434.5 90.5h0M445.9 90.9h0M414.5 86.8h0M450.3 96.8h0M422.8 258.3h0M432.3 258.4h0M441.2 258.7h0M452.0 258.7h0M420.1 263.3h0M431.3 262.7h0M441.6 263.2h0M449.6 261.7h0M436.0 261.0h0M544.0 246.5h0M267.0 450.1h0M302.1 452.7h0M302.8 460.8h0" stroke="#4a4e0c" stroke-width="5.0"/><path d="M421.3 87.9h0M430.4 88.9h0M440.4 88.6h0M450.8 88.3h0M459.7 89.1h0M422.9 90.9h0M434.5 90.5h0M445.9 90.9h0M414.5 86.8h0M450.3 96.8h0M422.8 258.3h0M432.3 258.4h0M441.2 258.7h0M452.0 258.7h0M420.1 263.3h0M431.3 262.7h0M441.6 263.2h0M449.6 261.7h0M436.0 261.0h0M544.0 246.5h0M267.0 450.1h0M302.1 452.7h0M302.8 460.8h0" stroke="#5a5e10" stroke-width="3.8"/><path d="M547.8 266.6h0M289.1 473.6h0M276.6 478.5h0M261.6 484.3h0M283.9 483.9h0M294.7 484.2h0M308.2 483.9h0" stroke="#188418" stroke-width="5.0"/><path d="M547.8 266.6h0M289.1 473.6h0M276.6 478.5h0M261.6 484.3h0M283.9 483.9h0M294.7 484.2h0M308.2 483.9h0" stroke="#1ea01e" stroke-width="3.8"/><path d="M467.8 57.3h0M475.1 236.2h0M429.2 241.6h0M461.7 242.0h0" stroke="#70341a" stroke-width="5.0"/><path d="M467.8 57.3h0M475.1 236.2h0M429.2 241.6h0M461.7 242.0h0" stroke="#8a4020" stroke-width="3.8"/><path d="M424.0 230.6h0M433.6 230.8h0M428.3 226.7h0M439.0 227.4h0M435.1 233.2h0M445.3 233.8h0M421.7 242.8h0M432.9 243.4h0M456.1 244.2h0M423.4 245.7h0M457.7 248.9h0" stroke="#842a12" stroke-width="5.0"/><path d="M424.0 230.6h0M433.6 230.8h0M428.3 226.7h0M439.0 227.4h0M435.1 233.2h0M445.3 233.8h0M421.7 242.8h0M432.9 243.4h0M456.1 244.2h0M423.4 245.7h0M457.7 248.9h0" stroke="#9c3216" stroke-width="3.8"/><path d="M423.7 51.9h0M433.4 50.6h0M443.0 51.5h0M453.0 51.2h0M462.1 51.3h0M422.8 57.8h0M431.9 57.9h0M442.1 57.8h0M452.0 57.7h0M430.1 53.2h0M441.8 54.8h0M452.0 48.0h0M439.9 230.8h0M449.7 229.9h0M450.0 234.0h0M460.1 233.7h0M250.3 423.5h0M258.7 424.4h0M264.7 420.6h0M253.0 429.1h0M251.5 433.4h0M297.0 428.5h0M306.8 428.7h0" stroke="#961508" stroke-width="5.0"/><path d="M423.7 51.9h0M433.4 50.6h0M443.0 51.5h0M453.0 51.2h0M462.1 51.3h0M422.8 57.8h0M431.9 57.9h0M442.1 57.8h0M452.0 57.7h0M430.1 53.2h0M441.8 54.8h0M452.0 48.0h0M439.9 230.8h0M449.7 229.9h0M450.0 234.0h0M460.1 233.7h0M250.3 423.5h0M258.7 424.4h0M264.7 420.6h0M253.0 429.1h0M251.5 433.4h0M297.0 428.5h0M306.8 428.7h0" stroke="#b01a0a" stroke-width="3.8"/><path d="M452.0 231.0h0M461.8 229.4h0M450.9 226.8h0M458.4 226.0h0M461.0 233.0h0M286.6 423.0h0" stroke="#a80e06" stroke-width="5.0"/><path d="M452.0 231.0h0M461.8 229.4h0M450.9 226.8h0M458.4 226.0h0M461.0 233.0h0M286.6 423.0h0" stroke="#c81008" stroke-width="3.8"/><path d="M470.6 58.0h0M477.5 236.0h0" stroke="#70341a" stroke-width="5.0"/><path d="M470.6 58.0h0M477.5 236.0h0" stroke="#8a4020" stroke-width="3.8"/><path d="M426.4 229.5h0M435.4 230.2h0M431.1 226.8h0M442.4 227.6h0M437.8 234.6h0M447.8 234.7h0M424.8 244.0h0M447.8 243.2h0M459.2 243.2h0M426.3 248.6h0M440.0 242.0h0" stroke="#842a12" stroke-width="5.0"/><path d="M426.4 229.5h0M435.4 230.2h0M431.1 226.8h0M442.4 227.6h0M437.8 234.6h0M447.8 234.7h0M424.8 244.0h0M447.8 243.2h0M459.2 243.2h0M426.3 248.6h0M440.0 242.0h0" stroke="#9c3216" stroke-width="3.8"/><path d="M426.9 51.8h0M436.3 50.7h0M445.6 50.7h0M455.0 51.0h0M464.8 50.7h0M424.9 57.5h0M434.4 56.8h0M444.7 56.5h0M454.3 56.4h0M432.8 53.3h0M444.8 54.8h0M429.0 46.6h0M442.4 230.6h0M452.6 233.9h0M462.9 233.9h0M252.5 423.4h0M260.9 424.6h0M267.8 421.6h0M259.6 429.1h0M253.8 433.8h0M299.4 427.9h0M309.0 428.0h0" stroke="#961508" stroke-width="5.0"/><path d="M426.9 51.8h0M436.3 50.7h0M445.6 50.7h0M455.0 51.0h0M464.8 50.7h0M424.9 57.5h0M434.4 56.8h0M444.7 56.5h0M454.3 56.4h0M432.8 53.3h0M444.8 54.8h0M429.0 46.6h0M442.4 230.6h0M452.6 233.9h0M462.9 233.9h0M252.5 423.4h0M260.9 424.6h0M267.8 421.6h0M259.6 429.1h0M253.8 433.8h0M299.4 427.9h0M309.0 428.0h0" stroke="#b01a0a" stroke-width="3.8"/><path d="M454.4 231.0h0M464.1 230.0h0M458.4 229.0h0M464.0 229.0h0M298.4 422.5h0" stroke="#a80e06" stroke-width="5.0"/><path d="M454.4 231.0h0M464.1 230.0h0M458.4 229.0h0M464.0 229.0h0M298.4 422.5h0" stroke="#c81008" stroke-width="3.8"/><path d="M473.3 57.8h0M543.5 64.7h0M468.3 236.4h0M443.8 237.6h0M437.5 241.7h0M454.0 242.4h0M469.3 244.2h0" stroke="#70341a" stroke-width="5.0"/><path d="M473.3 57.8h0M543.5 64.7h0M468.3 236.4h0M443.8 237.6h0M437.5 241.7h0M454.0 242.4h0M469.3 244.2h0" stroke="#8a4020" stroke-width="3.8"/><path d="M419.3 230.6h0M428.0 230.3h0M438.0 230.4h0M433.4 227.3h0M444.7 226.8h0M439.7 233.6h0M449.9 233.4h0M438.7 243.5h0M450.2 243.9h0M461.9 242.7h0M437.2 247.8h0" stroke="#842a12" stroke-width="5.0"/><path d="M419.3 230.6h0M428.0 230.3h0M438.0 230.4h0M433.4 227.3h0M444.7 226.8h0M439.7 233.6h0M449.9 233.4h0M438.7 243.5h0M450.2 243.9h0M461.9 242.7h0M437.2 247.8h0" stroke="#9c3216" stroke-width="3.8"/><path d="M418.9 50.5h0M429.1 51.1h0M438.3 51.0h0M447.4 51.0h0M457.6 51.1h0M467.1 50.8h0M427.5 57.1h0M437.3 56.7h0M447.1 56.4h0M455.8 56.6h0M424.6 53.3h0M436.0 54.8h0M447.8 54.7h0M460.6 45.9h0M444.8 231.1h0M454.6 233.2h0M254.2 424.4h0M270.7 421.0h0M267.0 420.3h0M256.1 433.6h0M302.5 428.5h0" stroke="#961508" stroke-width="5.0"/><path d="M418.9 50.5h0M429.1 51.1h0M438.3 51.0h0M447.4 51.0h0M457.6 51.1h0M467.1 50.8h0M427.5 57.1h0M437.3 56.7h0M447.1 56.4h0M455.8 56.6h0M424.6 53.3h0M436.0 54.8h0M447.8 54.7h0M460.6 45.9h0M444.8 231.1h0M454.6 233.2h0M254.2 424.4h0M270.7 421.0h0M267.0 420.3h0M256.1 433.6h0M302.5 428.5h0" stroke="#b01a0a" stroke-width="3.8"/><path d="M456.9 229.5h0M466.4 231.2h0M444.9 226.6h0M457.4 227.4h0M458.4 232.0h0" stroke="#a80e06" stroke-width="5.0"/><path d="M456.9 229.5h0M466.4 231.2h0M444.9 226.6h0M457.4 227.4h0M458.4 232.0h0" stroke="#c81008" stroke-width="3.8"/><path d="M476.4 57.3h0M472.1 236.6h0M451.8 238.4h0M458.0 242.0h0M477.4 242.7h0" stroke="#70341a" stroke-width="5.0"/><path d="M476.4 57.3h0M472.1 236.6h0M451.8 238.4h0M458.0 242.0h0M477.4 242.7h0" stroke="#8a4020" stroke-width="3.8"/><path d="M421.4 230.1h0M431.1 230.3h0M436.6 227.4h0M442.2 234.0h0M430.2 243.3h0M442.0 243.6h0M452.9 243.7h0M449.6 250.8h0" stroke="#842a12" stroke-width="5.0"/><path d="M421.4 230.1h0M431.1 230.3h0M436.6 227.4h0M442.2 234.0h0M430.2 243.3h0M442.0 243.6h0M452.9 243.7h0M449.6 250.8h0" stroke="#9c3216" stroke-width="3.8"/><path d="M421.7 51.5h0M431.2 51.8h0M440.4 51.3h0M450.6 51.4h0M459.9 51.7h0M429.8 57.2h0M440.0 57.7h0M449.1 57.4h0M458.4 57.8h0M427.7 53.9h0M439.0 53.2h0M450.3 53.4h0M440.0 48.0h0M447.0 231.0h0M457.8 233.8h0M256.9 423.5h0M259.4 433.1h0M304.4 428.5h0" stroke="#961508" stroke-width="5.0"/><path d="M421.7 51.5h0M431.2 51.8h0M440.4 51.3h0M450.6 51.4h0M459.9 51.7h0M429.8 57.2h0M440.0 57.7h0M449.1 57.4h0M458.4 57.8h0M427.7 53.9h0M439.0 53.2h0M450.3 53.4h0M440.0 48.0h0M447.0 231.0h0M457.8 233.8h0M256.9 423.5h0M259.4 433.1h0M304.4 428.5h0" stroke="#b01a0a" stroke-width="3.8"/><path d="M459.1 230.9h0M447.7 226.6h0M461.0 227.0h0M284.4 417.1h0" stroke="#a80e06" stroke-width="5.0"/><path d="M459.1 230.9h0M447.7 226.6h0M461.0 227.0h0M284.4 417.1h0" stroke="#c81008" stroke-width="3.8"/></g>
<g><rect x="459.2" y="42" width="9.6" height="156.0" fill="#878790" fill-opacity="0.31"/><rect x="424.1" y="221" width="7.9" height="168.0" fill="#878790" fill-opacity="0.31"/><rect x="262.3" y="412" width="4.4" height="156.0" fill="#878790" fill-opacity="0.31"/></g>
<g><rect x="45.0" y="41.5" width="638.6" height="157.0" fill="none" stroke="#2a2a2a" stroke-width="1"/><line x1="39.0" y1="192.5" x2="45.0" y2="192.5" stroke="#2a2a2a"/><text x="35.0" y="196.7" text-anchor="end" class="tk">0</text><line x1="39.0" y1="164.5" x2="45.0" y2="164.5" stroke="#2a2a2a"/><text x="35.0" y="168.7" text-anchor="end" class="tk">5</text><line x1="39.0" y1="136.5" x2="45.0" y2="136.5" stroke="#2a2a2a"/><text x="35.0" y="140.7" text-anchor="end" class="tk">10</text><line x1="39.0" y1="108.4" x2="45.0" y2="108.4" stroke="#2a2a2a"/><text x="35.0" y="112.6" text-anchor="end" class="tk">15</text><line x1="39.0" y1="80.4" x2="45.0" y2="80.4" stroke="#2a2a2a"/><text x="35.0" y="84.6" text-anchor="end" class="tk">20</text><line x1="39.0" y1="52.4" x2="45.0" y2="52.4" stroke="#2a2a2a"/><text x="35.0" y="56.6" text-anchor="end" class="tk">25</text><text transform="translate(8.2,120.0) rotate(-90)" text-anchor="middle" class="yl">&#8722;log<tspan class="sub" dy="2">10</tspan><tspan dy="-2"> p-value for CSF2RB eQTL</tspan></text><text x="2.3" y="44.0" class="pl">a</text><rect x="45.0" y="220.5" width="638.6" height="168.7" fill="none" stroke="#2a2a2a" stroke-width="1"/><line x1="39.0" y1="383.1" x2="45.0" y2="383.1" stroke="#2a2a2a"/><text x="35.0" y="387.3" text-anchor="end" class="tk">0</text><line x1="39.0" y1="332.2" x2="45.0" y2="332.2" stroke="#2a2a2a"/><text x="35.0" y="336.4" text-anchor="end" class="tk">5</text><line x1="39.0" y1="281.4" x2="45.0" y2="281.4" stroke="#2a2a2a"/><text x="35.0" y="285.6" text-anchor="end" class="tk">10</text><line x1="39.0" y1="230.6" x2="45.0" y2="230.6" stroke="#2a2a2a"/><text x="35.0" y="234.8" text-anchor="end" class="tk">15</text><text transform="translate(8.2,304.9) rotate(-90)" text-anchor="middle" class="yl">&#8722;log<tspan class="sub" dy="2">10</tspan><tspan dy="-2"> p-value for NCF4 eQTL</tspan></text><text x="2.3" y="230.9" class="pl">b</text><rect x="45.0" y="411.5" width="638.6" height="156.8" fill="none" stroke="#2a2a2a" stroke-width="1"/><line x1="39.0" y1="562.2" x2="45.0" y2="562.2" stroke="#2a2a2a"/><text x="35.0" y="566.4" text-anchor="end" class="tk">0</text><line x1="39.0" y1="536.5" x2="45.0" y2="536.5" stroke="#2a2a2a"/><text x="35.0" y="540.7" text-anchor="end" class="tk">2</text><line x1="39.0" y1="510.8" x2="45.0" y2="510.8" stroke="#2a2a2a"/><text x="35.0" y="515.0" text-anchor="end" class="tk">4</text><line x1="39.0" y1="485.0" x2="45.0" y2="485.0" stroke="#2a2a2a"/><text x="35.0" y="489.2" text-anchor="end" class="tk">6</text><line x1="39.0" y1="459.3" x2="45.0" y2="459.3" stroke="#2a2a2a"/><text x="35.0" y="463.5" text-anchor="end" class="tk">8</text><line x1="39.0" y1="433.6" x2="45.0" y2="433.6" stroke="#2a2a2a"/><text x="35.0" y="437.8" text-anchor="end" class="tk">10</text><text transform="translate(8.2,489.9) rotate(-90)" text-anchor="middle" class="yl">&#8722;log<tspan class="sub" dy="2">10</tspan><tspan dy="-2"> p-value for TXN2 eQTL</tspan></text><text x="2.3" y="418.3" class="pl">c</text><line x1="68.5" y1="35.5" x2="68.5" y2="41.5" stroke="#2a2a2a"/><text x="68.5" y="29.3" text-anchor="middle" class="tk">74.8</text><line x1="68.5" y1="568.3" x2="68.5" y2="574.3" stroke="#2a2a2a"/><text x="68.5" y="589.3" text-anchor="middle" class="tk">74.8</text><line x1="153.1" y1="35.5" x2="153.1" y2="41.5" stroke="#2a2a2a"/><text x="153.1" y="29.3" text-anchor="middle" class="tk">75.0</text><line x1="153.1" y1="568.3" x2="153.1" y2="574.3" stroke="#2a2a2a"/><text x="153.1" y="589.3" text-anchor="middle" class="tk">75.0</text><line x1="237.6" y1="35.5" x2="237.6" y2="41.5" stroke="#2a2a2a"/><text x="237.6" y="29.3" text-anchor="middle" class="tk">75.2</text><line x1="237.6" y1="568.3" x2="237.6" y2="574.3" stroke="#2a2a2a"/><text x="237.6" y="589.3" text-anchor="middle" class="tk">75.2</text><line x1="322.2" y1="35.5" x2="322.2" y2="41.5" stroke="#2a2a2a"/><text x="322.2" y="29.3" text-anchor="middle" class="tk">75.4</text><line x1="322.2" y1="568.3" x2="322.2" y2="574.3" stroke="#2a2a2a"/><text x="322.2" y="589.3" text-anchor="middle" class="tk">75.4</text><line x1="406.7" y1="35.5" x2="406.7" y2="41.5" stroke="#2a2a2a"/><text x="406.7" y="29.3" text-anchor="middle" class="tk">75.6</text><line x1="406.7" y1="568.3" x2="406.7" y2="574.3" stroke="#2a2a2a"/><text x="406.7" y="589.3" text-anchor="middle" class="tk">75.6</text><line x1="491.3" y1="35.5" x2="491.3" y2="41.5" stroke="#2a2a2a"/><text x="491.3" y="29.3" text-anchor="middle" class="tk">75.8</text><line x1="491.3" y1="568.3" x2="491.3" y2="574.3" stroke="#2a2a2a"/><text x="491.3" y="589.3" text-anchor="middle" class="tk">75.8</text><line x1="575.9" y1="35.5" x2="575.9" y2="41.5" stroke="#2a2a2a"/><text x="575.9" y="29.3" text-anchor="middle" class="tk">76.0</text><line x1="575.9" y1="568.3" x2="575.9" y2="574.3" stroke="#2a2a2a"/><text x="575.9" y="589.3" text-anchor="middle" class="tk">76.0</text><line x1="660.4" y1="35.5" x2="660.4" y2="41.5" stroke="#2a2a2a"/><text x="660.4" y="29.3" text-anchor="middle" class="tk">76.2</text><line x1="660.4" y1="568.3" x2="660.4" y2="574.3" stroke="#2a2a2a"/><text x="660.4" y="589.3" text-anchor="middle" class="tk">76.2</text><text x="364.4" y="9.0" text-anchor="middle" class="tt">Chromosome 5 (Mbp)</text><text x="364.4" y="607.0" text-anchor="middle" class="tt">Chromosome 5 (Mbp)</text></g>
</svg></body></html>
